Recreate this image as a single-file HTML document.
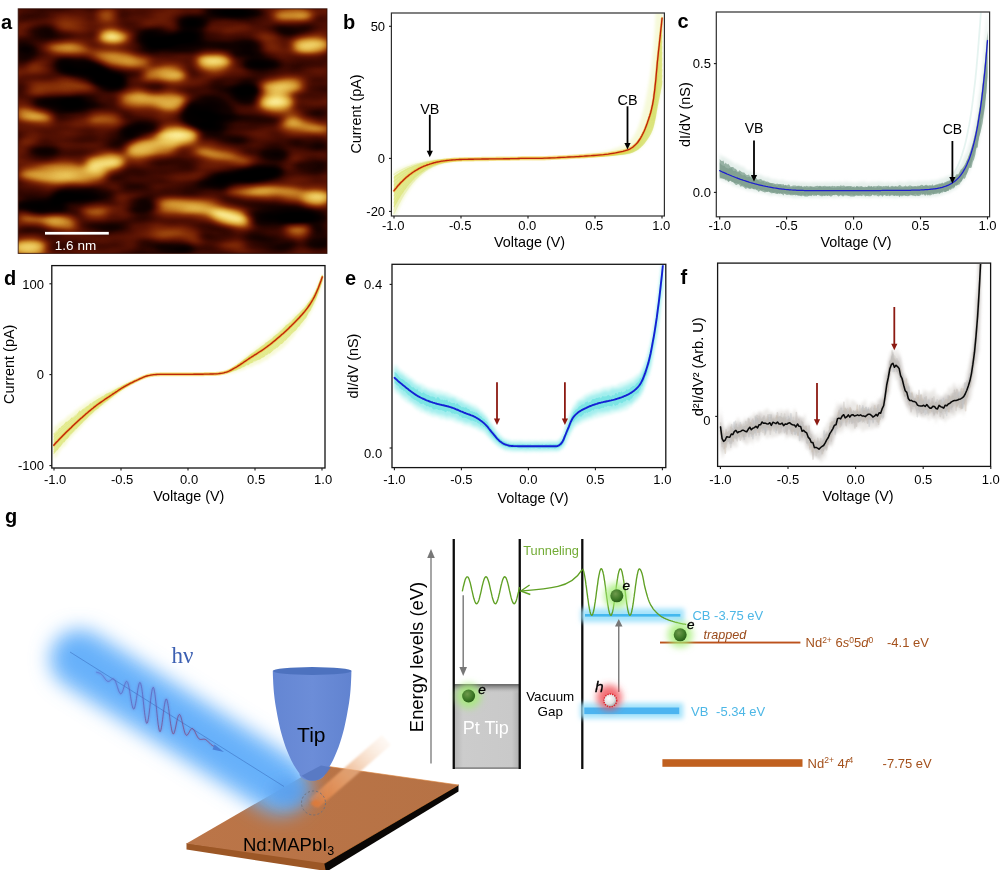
<!DOCTYPE html>
<html lang="en"><head><meta charset="utf-8"><title>Figure</title>
<style>
html,body{margin:0;padding:0;background:#fff;}
body{width:1000px;height:870px;overflow:hidden;}
svg{display:block;font-family:"Liberation Sans",Arial,Helvetica,sans-serif;fill:#000;}
</style></head><body>
<svg width="1000" height="870" viewBox="0 0 1000 870">
<defs>
<filter id="b1" x="-5%" y="-20%" width="110%" height="140%"><feGaussianBlur stdDeviation="0.7"/></filter>
<filter id="b2" x="-5%" y="-20%" width="110%" height="140%"><feGaussianBlur stdDeviation="1.5"/></filter>
<filter id="b3" x="-5%" y="-20%" width="110%" height="140%"><feGaussianBlur stdDeviation="2.5"/></filter>
<clipPath id="cb"><rect x="392" y="13.6" width="271.8" height="201.8"/></clipPath>
<clipPath id="cc"><rect x="717.2" y="12.6" width="271.9" height="203.4"/></clipPath>
<clipPath id="cd"><rect x="52.6" y="266" width="271.8" height="201.4"/></clipPath>
<clipPath id="ce"><rect x="392.6" y="265.2" width="272.8" height="201.8"/></clipPath>
<clipPath id="cf"><rect x="718.6" y="264" width="271.4" height="201.8"/></clipPath>
</defs>
<g clip-path="url(#cb)">
<path d="M394 171.1 L395 170.5 L396.1 170 L397.1 169.5 L398.1 169.1 L399.2 168.6 L400.2 168.1 L401.2 167.7 L402.3 167.3 L403.3 166.9 L404.3 166.5 L405.4 166.1 L406.4 165.7 L407.5 165.4 L408.5 165 L409.5 164.7 L410.6 164.4 L411.6 164.1 L412.6 163.8 L413.7 163.5 L414.7 163.3 L415.7 163 L416.8 162.7 L417.8 162.5 L418.8 162.3 L419.9 162.1 L420.9 161.9 L421.9 161.7 L423 161.5 L424 161.3 L425 161.1 L426.1 161 L427.1 160.8 L428.1 160.6 L429.2 160.5 L430.2 160.4 L431.3 160.2 L432.3 160.1 L433.3 160 L434.4 159.9 L435.4 159.8 L436.4 159.7 L437.5 159.6 L438.5 159.5 L439.5 159.4 L440.6 159.4 L441.6 159.3 L442.6 159.2 L443.7 159.2 L444.7 159.1 L445.7 159 L446.8 159 L447.8 159 L448.8 158.9 L449.9 158.9 L450.9 158.8 L451.9 158.8 L453 158.8 L454 158.7 L455.1 158.7 L456.1 158.7 L457.1 158.7 L458.2 158.6 L459.2 158.6 L460.2 158.6 L461.3 158.6 L462.3 158.6 L463.3 158.6 L464.4 158.5 L465.4 158.5 L466.4 158.5 L467.5 158.5 L468.5 158.5 L469.5 158.5 L470.6 158.5 L471.6 158.5 L472.6 158.5 L473.7 158.5 L474.7 158.5 L475.7 158.5 L476.8 158.4 L477.8 158.4 L478.8 158.4 L479.9 158.4 L480.9 158.4 L482 158.4 L483 158.4 L484 158.4 L485.1 158.4 L486.1 158.4 L487.1 158.4 L488.2 158.4 L489.2 158.4 L490.2 158.4 L491.3 158.4 L492.3 158.4 L493.3 158.4 L494.4 158.4 L495.4 158.3 L496.4 158.3 L497.5 158.3 L498.5 158.3 L499.5 158.3 L500.6 158.3 L501.6 158.3 L502.6 158.3 L503.7 158.3 L504.7 158.3 L505.8 158.3 L506.8 158.3 L507.8 158.3 L508.9 158.3 L509.9 158.3 L510.9 158.3 L512 158.3 L513 158.3 L514 158.3 L515.1 158.2 L516.1 158.2 L517.1 158.2 L518.2 158.2 L519.2 158.2 L520 158.2 L522.4 158.2 L524.9 158.2 L527.3 158.2 L529.8 158.2 L532.2 158.2 L534.7 158.1 L537.1 158.1 L539.6 158.1 L542 158.1 L544.5 158.1 L546.9 158.1 L549.4 158 L551.8 158 L554.3 157.9 L556.7 157.8 L559.2 157.8 L561.6 157.7 L564.1 157.7 L566.5 157.6 L569 157.5 L571.4 157.5 L573.9 157.4 L576.3 157.3 L578.8 157.2 L581.2 157.2 L583.7 157.1 L586.1 157 L588.6 156.9 L591 156.8 L593.5 156.8 L595.9 156.7 L598.4 156.6 L600.8 156.5 L603.3 156.3 L605.7 156.2 L608.2 156 L610.6 155.9 L613.1 155.7 L615.5 155.5 L618 155.2 L620.4 155 L622.9 154.7 L625.3 154.4 L627.8 153.9 L630.2 153.4 L632.7 152.6 L635.1 151.5 L637.6 150.3 L640 148.5 L640.5 148.1 L640.9 147.8 L641.2 147.4 L641.6 147.1 L642 146.7 L642.3 146.4 L642.7 146 L643.1 145.6 L643.4 145.3 L643.8 144.9 L644.2 144.5 L644.5 144.1 L644.9 143.6 L645.3 143.2 L645.6 142.7 L646 142.3 L646.4 141.8 L646.7 141.3 L647.1 140.7 L647.5 140.2 L647.8 139.7 L648.2 139.1 L648.6 138.6 L648.9 138.1 L649.3 137.5 L649.7 136.9 L650 136.3 L650.4 135.7 L650.8 135.1 L651.1 134.4 L651.5 133.7 L651.8 132.9 L652.2 132.1 L652.6 131.2 L652.9 130.3 L653.3 129.2 L653.7 128 L654 126.6 L654.4 125.1 L654.8 123.6 L655.1 122 L655.5 120.3 L655.9 118.5 L656.2 116.5 L656.6 114.4 L657 112.3 L657.3 110.3 L657.7 108.5 L658.1 106.7 L658.4 105 L658.8 103.3 L659.2 101.7 L659.5 100 L659.9 98.3 L660.3 96.6 L660.6 94.9 L661 93.2 L661.4 91.5 L661.7 89.8 L662.1 88.1 L662.1 -40 L661.7 -40 L661.4 -40 L661 -40 L660.6 -40 L660.3 -40 L659.9 -40 L659.5 -40 L659.2 -40 L658.8 -40 L658.4 -40 L658.1 -36.8 L657.7 -30.2 L657.3 -23.3 L657 -15.7 L656.6 -7.8 L656.2 0.2 L655.9 7.9 L655.5 14.8 L655.1 21 L654.8 27.2 L654.4 33.1 L654 38.7 L653.7 43.9 L653.3 48.7 L652.9 52.8 L652.6 56.3 L652.2 59.6 L651.8 62.7 L651.5 65.6 L651.1 68.3 L650.8 70.9 L650.4 73.4 L650 75.7 L649.7 77.9 L649.3 80.1 L648.9 82.2 L648.6 84.3 L648.2 86.3 L647.8 88.4 L647.5 90.4 L647.1 92.4 L646.7 94.4 L646.4 96.3 L646 98.2 L645.6 100 L645.3 101.8 L644.9 103.5 L644.5 105.1 L644.2 106.7 L643.8 108.2 L643.4 109.6 L643.1 111.1 L642.7 112.4 L642.3 113.8 L642 115.2 L641.6 116.5 L641.2 117.8 L640.9 119.1 L640.5 120.3 L640 121.9 L637.6 128.6 L635.1 133.4 L632.7 137.5 L630.2 140.6 L627.8 142.6 L625.3 144.1 L622.9 145.4 L620.4 146.5 L618 147.4 L615.5 148.3 L613.1 149.1 L610.6 149.9 L608.2 150.5 L605.7 151.1 L603.3 151.7 L600.8 152.1 L598.4 152.6 L595.9 152.9 L593.5 153.3 L591 153.6 L588.6 153.9 L586.1 154.2 L583.7 154.5 L581.2 154.8 L578.8 155.1 L576.3 155.4 L573.9 155.6 L571.4 155.9 L569 156.2 L566.5 156.4 L564.1 156.7 L561.6 156.9 L559.2 157.1 L556.7 157.4 L554.3 157.6 L551.8 157.8 L549.4 158.1 L546.9 158.3 L544.5 158.4 L542 158.5 L539.6 158.6 L537.1 158.6 L534.7 158.6 L532.2 158.6 L529.8 158.6 L527.3 158.7 L524.9 158.7 L522.4 158.7 L520 158.7 L519.2 159 L518.2 159 L517.1 159 L516.1 159.1 L515.1 159.1 L514 159.1 L513 159.2 L512 159.2 L510.9 159.2 L509.9 159.2 L508.9 159.3 L507.8 159.3 L506.8 159.3 L505.8 159.3 L504.7 159.4 L503.7 159.4 L502.6 159.4 L501.6 159.5 L500.6 159.5 L499.5 159.5 L498.5 159.5 L497.5 159.6 L496.4 159.6 L495.4 159.6 L494.4 159.6 L493.3 159.7 L492.3 159.7 L491.3 159.7 L490.2 159.8 L489.2 159.8 L488.2 159.8 L487.1 159.8 L486.1 159.9 L485.1 159.9 L484 159.9 L483 159.9 L482 160 L480.9 160 L479.9 160 L478.8 160.1 L477.8 160.1 L476.8 160.1 L475.7 160.1 L474.7 160.2 L473.7 160.2 L472.6 160.2 L471.6 160.3 L470.6 160.3 L469.5 160.3 L468.5 160.4 L467.5 160.4 L466.4 160.5 L465.4 160.5 L464.4 160.6 L463.3 160.6 L462.3 160.7 L461.3 160.8 L460.2 160.8 L459.2 160.9 L458.2 161 L457.1 161.1 L456.1 161.2 L455.1 161.3 L454 161.5 L453 161.6 L451.9 161.8 L450.9 161.9 L449.9 162.1 L448.8 162.3 L447.8 162.5 L446.8 162.7 L445.7 163 L444.7 163.2 L443.7 163.5 L442.6 163.8 L441.6 164.1 L440.6 164.5 L439.5 164.8 L438.5 165.2 L437.5 165.6 L436.4 166.1 L435.4 166.5 L434.4 167 L433.3 167.5 L432.3 168.1 L431.3 168.6 L430.2 169.2 L429.2 169.9 L428.1 170.6 L427.1 171.3 L426.1 172 L425 172.8 L424 173.6 L423 174.5 L421.9 175.4 L420.9 176.3 L419.9 177.3 L418.8 178.3 L417.8 179.4 L416.8 180.5 L415.7 181.7 L414.7 182.9 L413.7 184.2 L412.6 185.5 L411.6 186.9 L410.6 188.4 L409.5 189.9 L408.5 191.4 L407.5 193 L406.4 194.7 L405.4 196.4 L404.3 198.2 L403.3 200.1 L402.3 202 L401.2 204.1 L400.2 206.1 L399.2 208.3 L398.1 210.5 L397.1 212.8 L396.1 215.2 L395 217.6 L394 220.1Z" fill="#eef3b4" fill-opacity="0.5" filter="url(#b2)"/>
<path d="M394 176 L395 175.3 L396.1 174.5 L397.1 173.9 L398.1 173.2 L399.2 172.6 L400.2 171.9 L401.2 171.3 L402.3 170.8 L403.3 170.2 L404.3 169.7 L405.4 169.1 L406.4 168.6 L407.5 168.1 L408.5 167.7 L409.5 167.2 L410.6 166.8 L411.6 166.4 L412.6 166 L413.7 165.6 L414.7 165.2 L415.7 164.9 L416.8 164.5 L417.8 164.2 L418.8 163.9 L419.9 163.6 L420.9 163.3 L421.9 163 L423 162.8 L424 162.5 L425 162.3 L426.1 162.1 L427.1 161.8 L428.1 161.6 L429.2 161.4 L430.2 161.3 L431.3 161.1 L432.3 160.9 L433.3 160.8 L434.4 160.6 L435.4 160.5 L436.4 160.3 L437.5 160.2 L438.5 160.1 L439.5 160 L440.6 159.9 L441.6 159.8 L442.6 159.7 L443.7 159.6 L444.7 159.5 L445.7 159.4 L446.8 159.4 L447.8 159.3 L448.8 159.2 L449.9 159.2 L450.9 159.1 L451.9 159.1 L453 159 L454 159 L455.1 159 L456.1 158.9 L457.1 158.9 L458.2 158.9 L459.2 158.8 L460.2 158.8 L461.3 158.8 L462.3 158.8 L463.3 158.8 L464.4 158.7 L465.4 158.7 L466.4 158.7 L467.5 158.7 L468.5 158.7 L469.5 158.7 L470.6 158.7 L471.6 158.7 L472.6 158.6 L473.7 158.6 L474.7 158.6 L475.7 158.6 L476.8 158.6 L477.8 158.6 L478.8 158.6 L479.9 158.6 L480.9 158.6 L482 158.6 L483 158.6 L484 158.6 L485.1 158.5 L486.1 158.5 L487.1 158.5 L488.2 158.5 L489.2 158.5 L490.2 158.5 L491.3 158.5 L492.3 158.5 L493.3 158.5 L494.4 158.5 L495.4 158.5 L496.4 158.5 L497.5 158.5 L498.5 158.4 L499.5 158.4 L500.6 158.4 L501.6 158.4 L502.6 158.4 L503.7 158.4 L504.7 158.4 L505.8 158.4 L506.8 158.4 L507.8 158.4 L508.9 158.4 L509.9 158.4 L510.9 158.3 L512 158.3 L513 158.3 L514 158.3 L515.1 158.3 L516.1 158.3 L517.1 158.3 L518.2 158.3 L519.2 158.3 L520 158.2 L522.4 158.2 L524.9 158.2 L527.3 158.2 L529.8 158.2 L532.2 158.2 L534.7 158.2 L537.1 158.2 L539.6 158.2 L542 158.1 L544.5 158.1 L546.9 158.1 L549.4 158 L551.8 158 L554.3 157.9 L556.7 157.8 L559.2 157.8 L561.6 157.7 L564.1 157.6 L566.5 157.6 L569 157.5 L571.4 157.4 L573.9 157.4 L576.3 157.3 L578.8 157.2 L581.2 157.1 L583.7 157 L586.1 157 L588.6 156.9 L591 156.8 L593.5 156.7 L595.9 156.6 L598.4 156.5 L600.8 156.4 L603.3 156.3 L605.7 156.1 L608.2 156 L610.6 155.8 L613.1 155.6 L615.5 155.3 L618 155.1 L620.4 154.9 L622.9 154.6 L625.3 154.2 L627.8 153.8 L630.2 153.2 L632.7 152.4 L635.1 151.3 L637.6 149.9 L640 148.1 L640.5 147.7 L640.9 147.3 L641.2 147 L641.6 146.6 L642 146.3 L642.3 145.9 L642.7 145.5 L643.1 145.2 L643.4 144.8 L643.8 144.4 L644.2 144 L644.5 143.5 L644.9 143.1 L645.3 142.6 L645.6 142.1 L646 141.6 L646.4 141.1 L646.7 140.6 L647.1 140.1 L647.5 139.5 L647.8 138.9 L648.2 138.4 L648.6 137.8 L648.9 137.3 L649.3 136.7 L649.7 136.1 L650 135.5 L650.4 134.8 L650.8 134.2 L651.1 133.5 L651.5 132.7 L651.8 131.9 L652.2 131.1 L652.6 130.2 L652.9 129.2 L653.3 128.1 L653.7 126.8 L654 125.4 L654.4 123.8 L654.8 122.2 L655.1 120.5 L655.5 118.8 L655.9 116.9 L656.2 114.8 L656.6 112.6 L657 110.5 L657.3 108.4 L657.7 106.5 L658.1 104.7 L658.4 102.9 L658.8 101.2 L659.2 99.4 L659.5 97.7 L659.9 95.9 L660.3 94.1 L660.6 92.4 L661 90.6 L661.4 88.8 L661.7 87.1 L662.1 85.3 L662.1 12.6 L661.7 16.1 L661.4 19.7 L661 23.2 L660.6 26.7 L660.3 30.3 L659.9 33.8 L659.5 37.3 L659.2 40.8 L658.8 44.3 L658.4 47.8 L658.1 51.4 L657.7 55 L657.3 58.8 L657 62.9 L656.6 67.3 L656.2 71.6 L655.9 75.8 L655.5 79.6 L655.1 83 L654.8 86.4 L654.4 89.6 L654 92.7 L653.7 95.6 L653.3 98.1 L652.9 100.4 L652.6 102.3 L652.2 104.1 L651.8 105.8 L651.5 107.4 L651.1 108.9 L650.8 110.3 L650.4 111.7 L650 113 L649.7 114.2 L649.3 115.4 L648.9 116.5 L648.6 117.6 L648.2 118.8 L647.8 119.9 L647.5 121 L647.1 122.1 L646.7 123.2 L646.4 124.2 L646 125.3 L645.6 126.2 L645.3 127.2 L644.9 128.1 L644.5 129 L644.2 129.9 L643.8 130.7 L643.4 131.5 L643.1 132.3 L642.7 133.1 L642.3 133.8 L642 134.6 L641.6 135.3 L641.2 136 L640.9 136.7 L640.5 137.4 L640 138.3 L637.6 141.9 L635.1 144.6 L632.7 146.8 L630.2 148.5 L627.8 149.6 L625.3 150.4 L622.9 151.1 L620.4 151.7 L618 152.2 L615.5 152.7 L613.1 153.1 L610.6 153.5 L608.2 153.9 L605.7 154.2 L603.3 154.5 L600.8 154.8 L598.4 155 L595.9 155.2 L593.5 155.4 L591 155.6 L588.6 155.8 L586.1 155.9 L583.7 156.1 L581.2 156.2 L578.8 156.4 L576.3 156.6 L573.9 156.7 L571.4 156.8 L569 157 L566.5 157.1 L564.1 157.3 L561.6 157.4 L559.2 157.5 L556.7 157.6 L554.3 157.8 L551.8 157.9 L549.4 158 L546.9 158.2 L544.5 158.3 L542 158.3 L539.6 158.4 L537.1 158.4 L534.7 158.4 L532.2 158.4 L529.8 158.4 L527.3 158.4 L524.9 158.5 L522.4 158.5 L520 158.5 L519.2 158.7 L518.2 158.8 L517.1 158.8 L516.1 158.8 L515.1 158.8 L514 158.9 L513 158.9 L512 158.9 L510.9 158.9 L509.9 159 L508.9 159 L507.8 159 L506.8 159 L505.8 159.1 L504.7 159.1 L503.7 159.1 L502.6 159.1 L501.6 159.2 L500.6 159.2 L499.5 159.2 L498.5 159.2 L497.5 159.2 L496.4 159.3 L495.4 159.3 L494.4 159.3 L493.3 159.3 L492.3 159.4 L491.3 159.4 L490.2 159.4 L489.2 159.4 L488.2 159.5 L487.1 159.5 L486.1 159.5 L485.1 159.5 L484 159.6 L483 159.6 L482 159.6 L480.9 159.6 L479.9 159.6 L478.8 159.7 L477.8 159.7 L476.8 159.7 L475.7 159.7 L474.7 159.8 L473.7 159.8 L472.6 159.8 L471.6 159.8 L470.6 159.9 L469.5 159.9 L468.5 159.9 L467.5 160 L466.4 160 L465.4 160 L464.4 160.1 L463.3 160.1 L462.3 160.2 L461.3 160.2 L460.2 160.3 L459.2 160.4 L458.2 160.5 L457.1 160.5 L456.1 160.6 L455.1 160.7 L454 160.8 L453 160.9 L451.9 161.1 L450.9 161.2 L449.9 161.4 L448.8 161.5 L447.8 161.7 L446.8 161.9 L445.7 162.1 L444.7 162.3 L443.7 162.5 L442.6 162.7 L441.6 163 L440.6 163.3 L439.5 163.6 L438.5 163.9 L437.5 164.2 L436.4 164.6 L435.4 164.9 L434.4 165.3 L433.3 165.8 L432.3 166.2 L431.3 166.7 L430.2 167.2 L429.2 167.7 L428.1 168.2 L427.1 168.8 L426.1 169.4 L425 170.1 L424 170.7 L423 171.4 L421.9 172.2 L420.9 172.9 L419.9 173.8 L418.8 174.6 L417.8 175.5 L416.8 176.4 L415.7 177.3 L414.7 178.3 L413.7 179.4 L412.6 180.5 L411.6 181.6 L410.6 182.8 L409.5 184 L408.5 185.3 L407.5 186.6 L406.4 187.9 L405.4 189.4 L404.3 190.8 L403.3 192.4 L402.3 193.9 L401.2 195.6 L400.2 197.3 L399.2 199 L398.1 200.8 L397.1 202.7 L396.1 204.6 L395 206.6 L394 208.7Z" fill="#dbe572" fill-opacity="0.6" filter="url(#b1)"/>
<path d="M394 174.4 L395 173.7 L396.1 173 L397.1 172.4 L398.1 171.8 L399.2 171.2 L400.2 170.7 L401.2 170.1 L402.3 169.6 L403.3 169.1 L404.3 168.6 L405.4 168.1 L406.4 167.7 L407.5 167.2 L408.5 166.8 L409.5 166.4 L410.6 166 L411.6 165.6 L412.6 165.2 L413.7 164.9 L414.7 164.6 L415.7 164.2 L416.8 163.9 L417.8 163.6 L418.8 163.4 L419.9 163.1 L420.9 162.8 L421.9 162.6 L423 162.3 L424 162.1 L425 161.9 L426.1 161.7 L427.1 161.5 L428.1 161.3 L429.2 161.1 L430.2 161 L431.3 160.8 L432.3 160.6 L433.3 160.5 L434.4 160.4 L435.4 160.2 L436.4 160.1 L437.5 160 L438.5 159.9 L439.5 159.8 L440.6 159.7 L441.6 159.6 L442.6 159.5 L443.7 159.5 L444.7 159.4 L445.7 159.3 L446.8 159.2 L447.8 159.2 L448.8 159.1 L449.9 159.1 L450.9 159 L451.9 159 L453 159 L454 158.9 L455.1 158.9 L456.1 158.8 L457.1 158.8 L458.2 158.8 L459.2 158.8 L460.2 158.7 L461.3 158.7 L462.3 158.7 L463.3 158.7 L464.4 158.7 L465.4 158.7 L466.4 158.6 L467.5 158.6 L468.5 158.6 L469.5 158.6 L470.6 158.6 L471.6 158.6 L472.6 158.6 L473.7 158.6 L474.7 158.6 L475.7 158.6 L476.8 158.6 L477.8 158.5 L478.8 158.5 L479.9 158.5 L480.9 158.5 L482 158.5 L483 158.5 L484 158.5 L485.1 158.5 L486.1 158.5 L487.1 158.5 L488.2 158.5 L489.2 158.5 L490.2 158.5 L491.3 158.5 L492.3 158.4 L493.3 158.4 L494.4 158.4 L495.4 158.4 L496.4 158.4 L497.5 158.4 L498.5 158.4 L499.5 158.4 L500.6 158.4 L501.6 158.4 L502.6 158.4 L503.7 158.4 L504.7 158.4 L505.8 158.4 L506.8 158.4 L507.8 158.3 L508.9 158.3 L509.9 158.3 L510.9 158.3 L512 158.3 L513 158.3 L514 158.3 L515.1 158.3 L516.1 158.3 L517.1 158.3 L518.2 158.3 L519.2 158.3 L520 158.2 L522.4 158.2 L524.9 158.2 L527.3 158.2 L529.8 158.2 L532.2 158.2 L534.7 158.2 L537.1 158.2 L539.6 158.2 L542 158.1 L544.5 158.1 L546.9 158.1 L549.4 158 L551.8 158 L554.3 157.9 L556.7 157.8 L559.2 157.7 L561.6 157.7 L564.1 157.6 L566.5 157.5 L569 157.5 L571.4 157.4 L573.9 157.3 L576.3 157.2 L578.8 157.2 L581.2 157.1 L583.7 157 L586.1 156.9 L588.6 156.8 L591 156.7 L593.5 156.6 L595.9 156.5 L598.4 156.4 L600.8 156.3 L603.3 156.2 L605.7 156 L608.2 155.8 L610.6 155.6 L613.1 155.4 L615.5 155.2 L618 154.9 L620.4 154.7 L622.9 154.4 L625.3 154 L627.8 153.5 L630.2 153 L632.7 152.1 L635.1 150.9 L637.6 149.5 L640 147.6 L640.5 147.1 L640.9 146.7 L641.2 146.4 L641.6 146 L642 145.6 L642.3 145.2 L642.7 144.8 L643.1 144.4 L643.4 144 L643.8 143.6 L644.2 143.1 L644.5 142.7 L644.9 142.2 L645.3 141.7 L645.6 141.2 L646 140.7 L646.4 140.1 L646.7 139.6 L647.1 139 L647.5 138.4 L647.8 137.8 L648.2 137.3 L648.6 136.7 L648.9 136.1 L649.3 135.5 L649.7 134.8 L650 134.2 L650.4 133.5 L650.8 132.8 L651.1 132 L651.5 131.3 L651.8 130.4 L652.2 129.5 L652.6 128.6 L652.9 127.5 L653.3 126.3 L653.7 125 L654 123.5 L654.4 121.9 L654.8 120.1 L655.1 118.4 L655.5 116.5 L655.9 114.5 L656.2 112.3 L656.6 110 L657 107.7 L657.3 105.5 L657.7 103.5 L658.1 101.6 L658.4 99.7 L658.8 97.9 L659.2 96 L659.5 94.2 L659.9 92.3 L660.3 90.4 L660.6 88.6 L661 86.7 L661.4 84.8 L661.7 83 L662.1 81.1" fill="none" stroke="#cfdc58" stroke-width="1.3" stroke-opacity="0.28" stroke-linejoin="round" stroke-linecap="round"/>
<path d="M394 177.9 L395 177.1 L396.1 176.3 L397.1 175.6 L398.1 174.8 L399.2 174.1 L400.2 173.4 L401.2 172.8 L402.3 172.1 L403.3 171.5 L404.3 170.9 L405.4 170.3 L406.4 169.8 L407.5 169.2 L408.5 168.7 L409.5 168.2 L410.6 167.7 L411.6 167.3 L412.6 166.8 L413.7 166.4 L414.7 166 L415.7 165.6 L416.8 165.2 L417.8 164.9 L418.8 164.5 L419.9 164.2 L420.9 163.9 L421.9 163.6 L423 163.3 L424 163 L425 162.7 L426.1 162.5 L427.1 162.3 L428.1 162 L429.2 161.8 L430.2 161.6 L431.3 161.4 L432.3 161.2 L433.3 161.1 L434.4 160.9 L435.4 160.7 L436.4 160.6 L437.5 160.4 L438.5 160.3 L439.5 160.2 L440.6 160.1 L441.6 160 L442.6 159.9 L443.7 159.8 L444.7 159.7 L445.7 159.6 L446.8 159.5 L447.8 159.4 L448.8 159.4 L449.9 159.3 L450.9 159.3 L451.9 159.2 L453 159.2 L454 159.1 L455.1 159.1 L456.1 159 L457.1 159 L458.2 159 L459.2 158.9 L460.2 158.9 L461.3 158.9 L462.3 158.9 L463.3 158.8 L464.4 158.8 L465.4 158.8 L466.4 158.8 L467.5 158.8 L468.5 158.8 L469.5 158.7 L470.6 158.7 L471.6 158.7 L472.6 158.7 L473.7 158.7 L474.7 158.7 L475.7 158.7 L476.8 158.7 L477.8 158.7 L478.8 158.7 L479.9 158.6 L480.9 158.6 L482 158.6 L483 158.6 L484 158.6 L485.1 158.6 L486.1 158.6 L487.1 158.6 L488.2 158.6 L489.2 158.6 L490.2 158.6 L491.3 158.6 L492.3 158.5 L493.3 158.5 L494.4 158.5 L495.4 158.5 L496.4 158.5 L497.5 158.5 L498.5 158.5 L499.5 158.5 L500.6 158.5 L501.6 158.5 L502.6 158.5 L503.7 158.4 L504.7 158.4 L505.8 158.4 L506.8 158.4 L507.8 158.4 L508.9 158.4 L509.9 158.4 L510.9 158.4 L512 158.4 L513 158.4 L514 158.4 L515.1 158.4 L516.1 158.3 L517.1 158.3 L518.2 158.3 L519.2 158.3 L520 158.2 L522.4 158.2 L524.9 158.2 L527.3 158.2 L529.8 158.2 L532.2 158.2 L534.7 158.2 L537.1 158.2 L539.6 158.2 L542 158.2 L544.5 158.1 L546.9 158.1 L549.4 158 L551.8 157.9 L554.3 157.9 L556.7 157.8 L559.2 157.7 L561.6 157.7 L564.1 157.6 L566.5 157.5 L569 157.4 L571.4 157.4 L573.9 157.3 L576.3 157.2 L578.8 157.1 L581.2 157 L583.7 156.9 L586.1 156.8 L588.6 156.7 L591 156.6 L593.5 156.5 L595.9 156.4 L598.4 156.3 L600.8 156.2 L603.3 156 L605.7 155.9 L608.2 155.7 L610.6 155.5 L613.1 155.2 L615.5 155 L618 154.7 L620.4 154.4 L622.9 154.1 L625.3 153.7 L627.8 153.2 L630.2 152.6 L632.7 151.6 L635.1 150.4 L637.6 148.9 L640 146.8 L640.5 146.3 L640.9 145.9 L641.2 145.5 L641.6 145.1 L642 144.7 L642.3 144.3 L642.7 143.8 L643.1 143.4 L643.4 143 L643.8 142.5 L644.2 142 L644.5 141.5 L644.9 141 L645.3 140.5 L645.6 140 L646 139.4 L646.4 138.8 L646.7 138.2 L647.1 137.6 L647.5 137 L647.8 136.3 L648.2 135.7 L648.6 135.1 L648.9 134.4 L649.3 133.8 L649.7 133.1 L650 132.4 L650.4 131.7 L650.8 130.9 L651.1 130.1 L651.5 129.3 L651.8 128.4 L652.2 127.4 L652.6 126.4 L652.9 125.3 L653.3 124 L653.7 122.5 L654 120.9 L654.4 119.2 L654.8 117.3 L655.1 115.4 L655.5 113.4 L655.9 111.3 L656.2 108.9 L656.6 106.4 L657 104 L657.3 101.6 L657.7 99.5 L658.1 97.4 L658.4 95.4 L658.8 93.4 L659.2 91.4 L659.5 89.4 L659.9 87.4 L660.3 85.4 L660.6 83.4 L661 81.4 L661.4 79.4 L661.7 77.4 L662.1 75.4" fill="none" stroke="#cfdc58" stroke-width="1.3" stroke-opacity="0.28" stroke-linejoin="round" stroke-linecap="round"/>
<path d="M394 181.5 L395 180.5 L396.1 179.6 L397.1 178.7 L398.1 177.8 L399.2 177 L400.2 176.2 L401.2 175.4 L402.3 174.7 L403.3 173.9 L404.3 173.2 L405.4 172.5 L406.4 171.9 L407.5 171.2 L408.5 170.6 L409.5 170 L410.6 169.5 L411.6 168.9 L412.6 168.4 L413.7 167.9 L414.7 167.4 L415.7 167 L416.8 166.5 L417.8 166.1 L418.8 165.7 L419.9 165.3 L420.9 164.9 L421.9 164.6 L423 164.2 L424 163.9 L425 163.6 L426.1 163.3 L427.1 163 L428.1 162.7 L429.2 162.5 L430.2 162.3 L431.3 162 L432.3 161.8 L433.3 161.6 L434.4 161.4 L435.4 161.2 L436.4 161 L437.5 160.9 L438.5 160.7 L439.5 160.6 L440.6 160.4 L441.6 160.3 L442.6 160.2 L443.7 160.1 L444.7 160 L445.7 159.9 L446.8 159.8 L447.8 159.7 L448.8 159.6 L449.9 159.6 L450.9 159.5 L451.9 159.4 L453 159.4 L454 159.3 L455.1 159.3 L456.1 159.2 L457.1 159.2 L458.2 159.1 L459.2 159.1 L460.2 159.1 L461.3 159 L462.3 159 L463.3 159 L464.4 159 L465.4 158.9 L466.4 158.9 L467.5 158.9 L468.5 158.9 L469.5 158.9 L470.6 158.9 L471.6 158.9 L472.6 158.8 L473.7 158.8 L474.7 158.8 L475.7 158.8 L476.8 158.8 L477.8 158.8 L478.8 158.8 L479.9 158.8 L480.9 158.8 L482 158.7 L483 158.7 L484 158.7 L485.1 158.7 L486.1 158.7 L487.1 158.7 L488.2 158.7 L489.2 158.7 L490.2 158.7 L491.3 158.6 L492.3 158.6 L493.3 158.6 L494.4 158.6 L495.4 158.6 L496.4 158.6 L497.5 158.6 L498.5 158.6 L499.5 158.6 L500.6 158.6 L501.6 158.5 L502.6 158.5 L503.7 158.5 L504.7 158.5 L505.8 158.5 L506.8 158.5 L507.8 158.5 L508.9 158.5 L509.9 158.5 L510.9 158.4 L512 158.4 L513 158.4 L514 158.4 L515.1 158.4 L516.1 158.4 L517.1 158.4 L518.2 158.4 L519.2 158.4 L520 158.2 L522.4 158.2 L524.9 158.2 L527.3 158.2 L529.8 158.2 L532.2 158.2 L534.7 158.2 L537.1 158.2 L539.6 158.2 L542 158.2 L544.5 158.1 L546.9 158.1 L549.4 158 L551.8 157.9 L554.3 157.9 L556.7 157.8 L559.2 157.7 L561.6 157.6 L564.1 157.6 L566.5 157.5 L569 157.4 L571.4 157.3 L573.9 157.2 L576.3 157.1 L578.8 157 L581.2 156.9 L583.7 156.8 L586.1 156.7 L588.6 156.6 L591 156.5 L593.5 156.4 L595.9 156.3 L598.4 156.2 L600.8 156 L603.3 155.9 L605.7 155.7 L608.2 155.5 L610.6 155.3 L613.1 155 L615.5 154.8 L618 154.5 L620.4 154.2 L622.9 153.8 L625.3 153.4 L627.8 152.9 L630.2 152.2 L632.7 151.2 L635.1 149.8 L637.6 148.2 L640 146 L640.5 145.5 L640.9 145.1 L641.2 144.6 L641.6 144.2 L642 143.8 L642.3 143.3 L642.7 142.9 L643.1 142.4 L643.4 141.9 L643.8 141.4 L644.2 140.9 L644.5 140.4 L644.9 139.9 L645.3 139.3 L645.6 138.7 L646 138.1 L646.4 137.5 L646.7 136.8 L647.1 136.2 L647.5 135.5 L647.8 134.8 L648.2 134.2 L648.6 133.5 L648.9 132.8 L649.3 132.1 L649.7 131.4 L650 130.6 L650.4 129.9 L650.8 129 L651.1 128.2 L651.5 127.3 L651.8 126.3 L652.2 125.3 L652.6 124.2 L652.9 123 L653.3 121.6 L653.7 120.1 L654 118.3 L654.4 116.5 L654.8 114.5 L655.1 112.5 L655.5 110.4 L655.9 108.1 L656.2 105.5 L656.6 102.9 L657 100.2 L657.3 97.7 L657.7 95.4 L658.1 93.2 L658.4 91.1 L658.8 88.9 L659.2 86.8 L659.5 84.7 L659.9 82.5 L660.3 80.4 L660.6 78.2 L661 76.1 L661.4 74 L661.7 71.8 L662.1 69.7" fill="none" stroke="#cfdc58" stroke-width="1.3" stroke-opacity="0.28" stroke-linejoin="round" stroke-linecap="round"/>
<path d="M394 185.1 L395 184 L396.1 182.9 L397.1 181.9 L398.1 180.9 L399.2 179.9 L400.2 179 L401.2 178.1 L402.3 177.2 L403.3 176.3 L404.3 175.5 L405.4 174.7 L406.4 174 L407.5 173.3 L408.5 172.6 L409.5 171.9 L410.6 171.2 L411.6 170.6 L412.6 170 L413.7 169.4 L414.7 168.9 L415.7 168.3 L416.8 167.8 L417.8 167.3 L418.8 166.9 L419.9 166.4 L420.9 166 L421.9 165.6 L423 165.2 L424 164.8 L425 164.4 L426.1 164.1 L427.1 163.8 L428.1 163.5 L429.2 163.2 L430.2 162.9 L431.3 162.6 L432.3 162.4 L433.3 162.1 L434.4 161.9 L435.4 161.7 L436.4 161.5 L437.5 161.3 L438.5 161.1 L439.5 161 L440.6 160.8 L441.6 160.7 L442.6 160.5 L443.7 160.4 L444.7 160.3 L445.7 160.2 L446.8 160.1 L447.8 160 L448.8 159.9 L449.9 159.8 L450.9 159.7 L451.9 159.6 L453 159.6 L454 159.5 L455.1 159.5 L456.1 159.4 L457.1 159.4 L458.2 159.3 L459.2 159.3 L460.2 159.2 L461.3 159.2 L462.3 159.2 L463.3 159.1 L464.4 159.1 L465.4 159.1 L466.4 159.1 L467.5 159 L468.5 159 L469.5 159 L470.6 159 L471.6 159 L472.6 159 L473.7 159 L474.7 158.9 L475.7 158.9 L476.8 158.9 L477.8 158.9 L478.8 158.9 L479.9 158.9 L480.9 158.9 L482 158.9 L483 158.8 L484 158.8 L485.1 158.8 L486.1 158.8 L487.1 158.8 L488.2 158.8 L489.2 158.8 L490.2 158.8 L491.3 158.7 L492.3 158.7 L493.3 158.7 L494.4 158.7 L495.4 158.7 L496.4 158.7 L497.5 158.7 L498.5 158.7 L499.5 158.6 L500.6 158.6 L501.6 158.6 L502.6 158.6 L503.7 158.6 L504.7 158.6 L505.8 158.6 L506.8 158.6 L507.8 158.5 L508.9 158.5 L509.9 158.5 L510.9 158.5 L512 158.5 L513 158.5 L514 158.5 L515.1 158.5 L516.1 158.4 L517.1 158.4 L518.2 158.4 L519.2 158.4 L520 158.3 L522.4 158.3 L524.9 158.3 L527.3 158.3 L529.8 158.3 L532.2 158.2 L534.7 158.2 L537.1 158.2 L539.6 158.2 L542 158.2 L544.5 158.2 L546.9 158.1 L549.4 158 L551.8 157.9 L554.3 157.9 L556.7 157.8 L559.2 157.7 L561.6 157.6 L564.1 157.5 L566.5 157.4 L569 157.4 L571.4 157.3 L573.9 157.2 L576.3 157.1 L578.8 157 L581.2 156.9 L583.7 156.8 L586.1 156.7 L588.6 156.6 L591 156.4 L593.5 156.3 L595.9 156.2 L598.4 156.1 L600.8 155.9 L603.3 155.8 L605.7 155.6 L608.2 155.4 L610.6 155.1 L613.1 154.9 L615.5 154.6 L618 154.3 L620.4 153.9 L622.9 153.5 L625.3 153.1 L627.8 152.5 L630.2 151.8 L632.7 150.7 L635.1 149.3 L637.6 147.6 L640 145.2 L640.5 144.7 L640.9 144.2 L641.2 143.8 L641.6 143.3 L642 142.8 L642.3 142.4 L642.7 141.9 L643.1 141.4 L643.4 140.9 L643.8 140.4 L644.2 139.8 L644.5 139.3 L644.9 138.7 L645.3 138.1 L645.6 137.5 L646 136.8 L646.4 136.2 L646.7 135.5 L647.1 134.8 L647.5 134.1 L647.8 133.3 L648.2 132.6 L648.6 131.9 L648.9 131.2 L649.3 130.4 L649.7 129.7 L650 128.9 L650.4 128 L650.8 127.2 L651.1 126.2 L651.5 125.3 L651.8 124.3 L652.2 123.2 L652.6 122 L652.9 120.7 L653.3 119.3 L653.7 117.6 L654 115.8 L654.4 113.8 L654.8 111.7 L655.1 109.5 L655.5 107.3 L655.9 104.8 L656.2 102.1 L656.6 99.3 L657 96.5 L657.3 93.8 L657.7 91.4 L658.1 89 L658.4 86.7 L658.8 84.5 L659.2 82.2 L659.5 80 L659.9 77.7 L660.3 75.4 L660.6 73.1 L661 70.8 L661.4 68.5 L661.7 66.2 L662.1 64" fill="none" stroke="#cfdc58" stroke-width="1.3" stroke-opacity="0.28" stroke-linejoin="round" stroke-linecap="round"/>
<path d="M394 188.6 L395 187.4 L396.1 186.2 L397.1 185 L398.1 183.9 L399.2 182.8 L400.2 181.7 L401.2 180.7 L402.3 179.7 L403.3 178.8 L404.3 177.8 L405.4 176.9 L406.4 176.1 L407.5 175.3 L408.5 174.5 L409.5 173.7 L410.6 173 L411.6 172.3 L412.6 171.6 L413.7 170.9 L414.7 170.3 L415.7 169.7 L416.8 169.1 L417.8 168.6 L418.8 168 L419.9 167.5 L420.9 167 L421.9 166.6 L423 166.1 L424 165.7 L425 165.3 L426.1 164.9 L427.1 164.5 L428.1 164.2 L429.2 163.9 L430.2 163.5 L431.3 163.2 L432.3 163 L433.3 162.7 L434.4 162.4 L435.4 162.2 L436.4 162 L437.5 161.8 L438.5 161.6 L439.5 161.4 L440.6 161.2 L441.6 161 L442.6 160.9 L443.7 160.7 L444.7 160.6 L445.7 160.5 L446.8 160.3 L447.8 160.2 L448.8 160.1 L449.9 160 L450.9 159.9 L451.9 159.9 L453 159.8 L454 159.7 L455.1 159.6 L456.1 159.6 L457.1 159.5 L458.2 159.5 L459.2 159.4 L460.2 159.4 L461.3 159.4 L462.3 159.3 L463.3 159.3 L464.4 159.3 L465.4 159.2 L466.4 159.2 L467.5 159.2 L468.5 159.2 L469.5 159.1 L470.6 159.1 L471.6 159.1 L472.6 159.1 L473.7 159.1 L474.7 159.1 L475.7 159.1 L476.8 159 L477.8 159 L478.8 159 L479.9 159 L480.9 159 L482 159 L483 159 L484 158.9 L485.1 158.9 L486.1 158.9 L487.1 158.9 L488.2 158.9 L489.2 158.9 L490.2 158.9 L491.3 158.8 L492.3 158.8 L493.3 158.8 L494.4 158.8 L495.4 158.8 L496.4 158.8 L497.5 158.8 L498.5 158.7 L499.5 158.7 L500.6 158.7 L501.6 158.7 L502.6 158.7 L503.7 158.7 L504.7 158.7 L505.8 158.6 L506.8 158.6 L507.8 158.6 L508.9 158.6 L509.9 158.6 L510.9 158.6 L512 158.6 L513 158.5 L514 158.5 L515.1 158.5 L516.1 158.5 L517.1 158.5 L518.2 158.5 L519.2 158.5 L520 158.3 L522.4 158.3 L524.9 158.3 L527.3 158.3 L529.8 158.3 L532.2 158.3 L534.7 158.3 L537.1 158.2 L539.6 158.2 L542 158.2 L544.5 158.2 L546.9 158.1 L549.4 158 L551.8 157.9 L554.3 157.8 L556.7 157.8 L559.2 157.7 L561.6 157.6 L564.1 157.5 L566.5 157.4 L569 157.3 L571.4 157.2 L573.9 157.1 L576.3 157 L578.8 156.9 L581.2 156.8 L583.7 156.7 L586.1 156.6 L588.6 156.5 L591 156.3 L593.5 156.2 L595.9 156.1 L598.4 156 L600.8 155.8 L603.3 155.6 L605.7 155.4 L608.2 155.2 L610.6 154.9 L613.1 154.7 L615.5 154.4 L618 154 L620.4 153.7 L622.9 153.3 L625.3 152.8 L627.8 152.2 L630.2 151.5 L632.7 150.3 L635.1 148.8 L637.6 147 L640 144.5 L640.5 143.8 L640.9 143.4 L641.2 142.9 L641.6 142.4 L642 141.9 L642.3 141.4 L642.7 140.9 L643.1 140.4 L643.4 139.8 L643.8 139.3 L644.2 138.7 L644.5 138.1 L644.9 137.5 L645.3 136.9 L645.6 136.2 L646 135.5 L646.4 134.8 L646.7 134.1 L647.1 133.4 L647.5 132.6 L647.8 131.8 L648.2 131.1 L648.6 130.3 L648.9 129.5 L649.3 128.7 L649.7 127.9 L650 127.1 L650.4 126.2 L650.8 125.3 L651.1 124.3 L651.5 123.3 L651.8 122.2 L652.2 121 L652.6 119.8 L652.9 118.5 L653.3 116.9 L653.7 115.2 L654 113.2 L654.4 111.1 L654.8 108.9 L655.1 106.6 L655.5 104.2 L655.9 101.6 L656.2 98.7 L656.6 95.7 L657 92.7 L657.3 89.9 L657.7 87.3 L658.1 84.8 L658.4 82.4 L658.8 80 L659.2 77.6 L659.5 75.2 L659.9 72.8 L660.3 70.3 L660.6 67.9 L661 65.5 L661.4 63.1 L661.7 60.6 L662.1 58.2" fill="none" stroke="#cfdc58" stroke-width="1.3" stroke-opacity="0.28" stroke-linejoin="round" stroke-linecap="round"/>
<path d="M394 192.2 L395 190.8 L396.1 189.5 L397.1 188.1 L398.1 186.9 L399.2 185.7 L400.2 184.5 L401.2 183.3 L402.3 182.2 L403.3 181.2 L404.3 180.1 L405.4 179.2 L406.4 178.2 L407.5 177.3 L408.5 176.4 L409.5 175.5 L410.6 174.7 L411.6 173.9 L412.6 173.2 L413.7 172.4 L414.7 171.7 L415.7 171.1 L416.8 170.4 L417.8 169.8 L418.8 169.2 L419.9 168.6 L420.9 168.1 L421.9 167.6 L423 167.1 L424 166.6 L425 166.1 L426.1 165.7 L427.1 165.3 L428.1 164.9 L429.2 164.5 L430.2 164.2 L431.3 163.9 L432.3 163.5 L433.3 163.2 L434.4 163 L435.4 162.7 L436.4 162.4 L437.5 162.2 L438.5 162 L439.5 161.8 L440.6 161.6 L441.6 161.4 L442.6 161.2 L443.7 161 L444.7 160.9 L445.7 160.7 L446.8 160.6 L447.8 160.5 L448.8 160.4 L449.9 160.3 L450.9 160.2 L451.9 160.1 L453 160 L454 159.9 L455.1 159.8 L456.1 159.8 L457.1 159.7 L458.2 159.7 L459.2 159.6 L460.2 159.6 L461.3 159.5 L462.3 159.5 L463.3 159.4 L464.4 159.4 L465.4 159.4 L466.4 159.4 L467.5 159.3 L468.5 159.3 L469.5 159.3 L470.6 159.3 L471.6 159.2 L472.6 159.2 L473.7 159.2 L474.7 159.2 L475.7 159.2 L476.8 159.2 L477.8 159.1 L478.8 159.1 L479.9 159.1 L480.9 159.1 L482 159.1 L483 159.1 L484 159 L485.1 159 L486.1 159 L487.1 159 L488.2 159 L489.2 159 L490.2 159 L491.3 158.9 L492.3 158.9 L493.3 158.9 L494.4 158.9 L495.4 158.9 L496.4 158.9 L497.5 158.8 L498.5 158.8 L499.5 158.8 L500.6 158.8 L501.6 158.8 L502.6 158.8 L503.7 158.7 L504.7 158.7 L505.8 158.7 L506.8 158.7 L507.8 158.7 L508.9 158.7 L509.9 158.6 L510.9 158.6 L512 158.6 L513 158.6 L514 158.6 L515.1 158.6 L516.1 158.5 L517.1 158.5 L518.2 158.5 L519.2 158.5 L520 158.3 L522.4 158.3 L524.9 158.3 L527.3 158.3 L529.8 158.3 L532.2 158.3 L534.7 158.3 L537.1 158.3 L539.6 158.3 L542 158.2 L544.5 158.2 L546.9 158.1 L549.4 158 L551.8 157.9 L554.3 157.8 L556.7 157.7 L559.2 157.6 L561.6 157.6 L564.1 157.5 L566.5 157.4 L569 157.3 L571.4 157.2 L573.9 157.1 L576.3 156.9 L578.8 156.8 L581.2 156.7 L583.7 156.6 L586.1 156.5 L588.6 156.4 L591 156.3 L593.5 156.1 L595.9 156 L598.4 155.8 L600.8 155.7 L603.3 155.5 L605.7 155.3 L608.2 155 L610.6 154.8 L613.1 154.5 L615.5 154.2 L618 153.8 L620.4 153.4 L622.9 153 L625.3 152.5 L627.8 151.9 L630.2 151.1 L632.7 149.9 L635.1 148.2 L637.6 146.3 L640 143.7 L640.5 143 L640.9 142.5 L641.2 142 L641.6 141.5 L642 141 L642.3 140.5 L642.7 139.9 L643.1 139.4 L643.4 138.8 L643.8 138.2 L644.2 137.6 L644.5 137 L644.9 136.3 L645.3 135.7 L645.6 135 L646 134.2 L646.4 133.5 L646.7 132.7 L647.1 132 L647.5 131.2 L647.8 130.3 L648.2 129.5 L648.6 128.7 L648.9 127.9 L649.3 127.1 L649.7 126.2 L650 125.3 L650.4 124.4 L650.8 123.4 L651.1 122.4 L651.5 121.3 L651.8 120.2 L652.2 118.9 L652.6 117.6 L652.9 116.2 L653.3 114.6 L653.7 112.7 L654 110.6 L654.4 108.4 L654.8 106.1 L655.1 103.6 L655.5 101.1 L655.9 98.4 L656.2 95.3 L656.6 92.2 L657 89 L657.3 86 L657.7 83.3 L658.1 80.6 L658.4 78.1 L658.8 75.5 L659.2 73 L659.5 70.5 L659.9 67.9 L660.3 65.3 L660.6 62.7 L661 60.2 L661.4 57.6 L661.7 55.1 L662.1 52.5" fill="none" stroke="#cfdc58" stroke-width="1.3" stroke-opacity="0.28" stroke-linejoin="round" stroke-linecap="round"/>
<path d="M394 195.8 L395 194.2 L396.1 192.7 L397.1 191.3 L398.1 189.9 L399.2 188.5 L400.2 187.2 L401.2 186 L402.3 184.8 L403.3 183.6 L404.3 182.5 L405.4 181.4 L406.4 180.3 L407.5 179.3 L408.5 178.3 L409.5 177.4 L410.6 176.5 L411.6 175.6 L412.6 174.7 L413.7 173.9 L414.7 173.2 L415.7 172.4 L416.8 171.7 L417.8 171 L418.8 170.4 L419.9 169.7 L420.9 169.1 L421.9 168.6 L423 168 L424 167.5 L425 167 L426.1 166.5 L427.1 166.1 L428.1 165.6 L429.2 165.2 L430.2 164.8 L431.3 164.5 L432.3 164.1 L433.3 163.8 L434.4 163.5 L435.4 163.2 L436.4 162.9 L437.5 162.6 L438.5 162.4 L439.5 162.2 L440.6 161.9 L441.6 161.7 L442.6 161.5 L443.7 161.4 L444.7 161.2 L445.7 161 L446.8 160.9 L447.8 160.7 L448.8 160.6 L449.9 160.5 L450.9 160.4 L451.9 160.3 L453 160.2 L454 160.1 L455.1 160 L456.1 160 L457.1 159.9 L458.2 159.8 L459.2 159.8 L460.2 159.7 L461.3 159.7 L462.3 159.6 L463.3 159.6 L464.4 159.6 L465.4 159.5 L466.4 159.5 L467.5 159.5 L468.5 159.4 L469.5 159.4 L470.6 159.4 L471.6 159.4 L472.6 159.3 L473.7 159.3 L474.7 159.3 L475.7 159.3 L476.8 159.3 L477.8 159.3 L478.8 159.2 L479.9 159.2 L480.9 159.2 L482 159.2 L483 159.2 L484 159.2 L485.1 159.1 L486.1 159.1 L487.1 159.1 L488.2 159.1 L489.2 159.1 L490.2 159.1 L491.3 159 L492.3 159 L493.3 159 L494.4 159 L495.4 159 L496.4 158.9 L497.5 158.9 L498.5 158.9 L499.5 158.9 L500.6 158.9 L501.6 158.9 L502.6 158.8 L503.7 158.8 L504.7 158.8 L505.8 158.8 L506.8 158.8 L507.8 158.7 L508.9 158.7 L509.9 158.7 L510.9 158.7 L512 158.7 L513 158.7 L514 158.6 L515.1 158.6 L516.1 158.6 L517.1 158.6 L518.2 158.6 L519.2 158.5 L520 158.4 L522.4 158.4 L524.9 158.3 L527.3 158.3 L529.8 158.3 L532.2 158.3 L534.7 158.3 L537.1 158.3 L539.6 158.3 L542 158.2 L544.5 158.2 L546.9 158.1 L549.4 158 L551.8 157.9 L554.3 157.8 L556.7 157.7 L559.2 157.6 L561.6 157.5 L564.1 157.4 L566.5 157.3 L569 157.2 L571.4 157.1 L573.9 157 L576.3 156.9 L578.8 156.8 L581.2 156.7 L583.7 156.5 L586.1 156.4 L588.6 156.3 L591 156.2 L593.5 156 L595.9 155.9 L598.4 155.7 L600.8 155.5 L603.3 155.3 L605.7 155.1 L608.2 154.9 L610.6 154.6 L613.1 154.3 L615.5 153.9 L618 153.6 L620.4 153.2 L622.9 152.7 L625.3 152.2 L627.8 151.5 L630.2 150.7 L632.7 149.4 L635.1 147.7 L637.6 145.7 L640 142.9 L640.5 142.2 L640.9 141.7 L641.2 141.2 L641.6 140.6 L642 140.1 L642.3 139.5 L642.7 138.9 L643.1 138.3 L643.4 137.8 L643.8 137.1 L644.2 136.5 L644.5 135.9 L644.9 135.2 L645.3 134.5 L645.6 133.7 L646 133 L646.4 132.2 L646.7 131.4 L647.1 130.5 L647.5 129.7 L647.8 128.8 L648.2 128 L648.6 127.1 L648.9 126.3 L649.3 125.4 L649.7 124.5 L650 123.5 L650.4 122.6 L650.8 121.5 L651.1 120.5 L651.5 119.3 L651.8 118.1 L652.2 116.8 L652.6 115.4 L652.9 113.9 L653.3 112.2 L653.7 110.2 L654 108.1 L654.4 105.7 L654.8 103.2 L655.1 100.7 L655.5 98 L655.9 95.1 L656.2 92 L656.6 88.6 L657 85.3 L657.3 82.1 L657.7 79.2 L658.1 76.4 L658.4 73.7 L658.8 71.1 L659.2 68.4 L659.5 65.7 L659.9 63 L660.3 60.3 L660.6 57.6 L661 54.9 L661.4 52.2 L661.7 49.5 L662.1 46.8" fill="none" stroke="#cfdc58" stroke-width="1.3" stroke-opacity="0.28" stroke-linejoin="round" stroke-linecap="round"/>
<path d="M394 199.3 L395 197.6 L396.1 196 L397.1 194.4 L398.1 192.9 L399.2 191.4 L400.2 190 L401.2 188.6 L402.3 187.3 L403.3 186 L404.3 184.8 L405.4 183.6 L406.4 182.4 L407.5 181.3 L408.5 180.2 L409.5 179.2 L410.6 178.2 L411.6 177.2 L412.6 176.3 L413.7 175.4 L414.7 174.6 L415.7 173.8 L416.8 173 L417.8 172.2 L418.8 171.5 L419.9 170.8 L420.9 170.2 L421.9 169.6 L423 169 L424 168.4 L425 167.8 L426.1 167.3 L427.1 166.8 L428.1 166.4 L429.2 165.9 L430.2 165.5 L431.3 165.1 L432.3 164.7 L433.3 164.3 L434.4 164 L435.4 163.7 L436.4 163.4 L437.5 163.1 L438.5 162.8 L439.5 162.5 L440.6 162.3 L441.6 162.1 L442.6 161.9 L443.7 161.7 L444.7 161.5 L445.7 161.3 L446.8 161.2 L447.8 161 L448.8 160.9 L449.9 160.7 L450.9 160.6 L451.9 160.5 L453 160.4 L454 160.3 L455.1 160.2 L456.1 160.1 L457.1 160.1 L458.2 160 L459.2 159.9 L460.2 159.9 L461.3 159.8 L462.3 159.8 L463.3 159.7 L464.4 159.7 L465.4 159.7 L466.4 159.6 L467.5 159.6 L468.5 159.6 L469.5 159.5 L470.6 159.5 L471.6 159.5 L472.6 159.5 L473.7 159.5 L474.7 159.4 L475.7 159.4 L476.8 159.4 L477.8 159.4 L478.8 159.4 L479.9 159.3 L480.9 159.3 L482 159.3 L483 159.3 L484 159.3 L485.1 159.2 L486.1 159.2 L487.1 159.2 L488.2 159.2 L489.2 159.2 L490.2 159.2 L491.3 159.1 L492.3 159.1 L493.3 159.1 L494.4 159.1 L495.4 159.1 L496.4 159 L497.5 159 L498.5 159 L499.5 159 L500.6 159 L501.6 158.9 L502.6 158.9 L503.7 158.9 L504.7 158.9 L505.8 158.9 L506.8 158.8 L507.8 158.8 L508.9 158.8 L509.9 158.8 L510.9 158.8 L512 158.7 L513 158.7 L514 158.7 L515.1 158.7 L516.1 158.7 L517.1 158.6 L518.2 158.6 L519.2 158.6 L520 158.4 L522.4 158.4 L524.9 158.4 L527.3 158.4 L529.8 158.3 L532.2 158.3 L534.7 158.3 L537.1 158.3 L539.6 158.3 L542 158.3 L544.5 158.2 L546.9 158.1 L549.4 158 L551.8 157.9 L554.3 157.8 L556.7 157.7 L559.2 157.6 L561.6 157.5 L564.1 157.4 L566.5 157.3 L569 157.2 L571.4 157.1 L573.9 157 L576.3 156.8 L578.8 156.7 L581.2 156.6 L583.7 156.5 L586.1 156.3 L588.6 156.2 L591 156.1 L593.5 155.9 L595.9 155.8 L598.4 155.6 L600.8 155.4 L603.3 155.2 L605.7 155 L608.2 154.7 L610.6 154.4 L613.1 154.1 L615.5 153.7 L618 153.4 L620.4 152.9 L622.9 152.5 L625.3 151.9 L627.8 151.2 L630.2 150.3 L632.7 149 L635.1 147.2 L637.6 145 L640 142.1 L640.5 141.4 L640.9 140.9 L641.2 140.3 L641.6 139.7 L642 139.2 L642.3 138.6 L642.7 137.9 L643.1 137.3 L643.4 136.7 L643.8 136.1 L644.2 135.4 L644.5 134.7 L644.9 134 L645.3 133.2 L645.6 132.5 L646 131.7 L646.4 130.8 L646.7 130 L647.1 129.1 L647.5 128.2 L647.8 127.3 L648.2 126.4 L648.6 125.5 L648.9 124.6 L649.3 123.7 L649.7 122.8 L650 121.8 L650.4 120.7 L650.8 119.7 L651.1 118.5 L651.5 117.3 L651.8 116 L652.2 114.7 L652.6 113.2 L652.9 111.7 L653.3 109.9 L653.7 107.8 L654 105.5 L654.4 103 L654.8 100.4 L655.1 97.7 L655.5 94.9 L655.9 91.9 L656.2 88.6 L656.6 85 L657 81.5 L657.3 78.2 L657.7 75.2 L658.1 72.2 L658.4 69.4 L658.8 66.6 L659.2 63.8 L659.5 61 L659.9 58.1 L660.3 55.3 L660.6 52.4 L661 49.6 L661.4 46.7 L661.7 43.9 L662.1 41.1" fill="none" stroke="#cfdc58" stroke-width="1.3" stroke-opacity="0.28" stroke-linejoin="round" stroke-linecap="round"/>
<path d="M394 202.9 L395 201.1 L396.1 199.3 L397.1 197.6 L398.1 195.9 L399.2 194.3 L400.2 192.8 L401.2 191.3 L402.3 189.8 L403.3 188.4 L404.3 187.1 L405.4 185.8 L406.4 184.5 L407.5 183.3 L408.5 182.1 L409.5 181 L410.6 179.9 L411.6 178.9 L412.6 177.9 L413.7 176.9 L414.7 176 L415.7 175.1 L416.8 174.3 L417.8 173.5 L418.8 172.7 L419.9 172 L420.9 171.2 L421.9 170.6 L423 169.9 L424 169.3 L425 168.7 L426.1 168.1 L427.1 167.6 L428.1 167.1 L429.2 166.6 L430.2 166.1 L431.3 165.7 L432.3 165.3 L433.3 164.9 L434.4 164.5 L435.4 164.2 L436.4 163.8 L437.5 163.5 L438.5 163.2 L439.5 162.9 L440.6 162.7 L441.6 162.4 L442.6 162.2 L443.7 162 L444.7 161.8 L445.7 161.6 L446.8 161.4 L447.8 161.3 L448.8 161.1 L449.9 161 L450.9 160.8 L451.9 160.7 L453 160.6 L454 160.5 L455.1 160.4 L456.1 160.3 L457.1 160.2 L458.2 160.2 L459.2 160.1 L460.2 160 L461.3 160 L462.3 159.9 L463.3 159.9 L464.4 159.8 L465.4 159.8 L466.4 159.8 L467.5 159.7 L468.5 159.7 L469.5 159.7 L470.6 159.7 L471.6 159.6 L472.6 159.6 L473.7 159.6 L474.7 159.6 L475.7 159.5 L476.8 159.5 L477.8 159.5 L478.8 159.5 L479.9 159.5 L480.9 159.4 L482 159.4 L483 159.4 L484 159.4 L485.1 159.4 L486.1 159.3 L487.1 159.3 L488.2 159.3 L489.2 159.3 L490.2 159.3 L491.3 159.2 L492.3 159.2 L493.3 159.2 L494.4 159.2 L495.4 159.1 L496.4 159.1 L497.5 159.1 L498.5 159.1 L499.5 159.1 L500.6 159 L501.6 159 L502.6 159 L503.7 159 L504.7 159 L505.8 158.9 L506.8 158.9 L507.8 158.9 L508.9 158.9 L509.9 158.8 L510.9 158.8 L512 158.8 L513 158.8 L514 158.7 L515.1 158.7 L516.1 158.7 L517.1 158.7 L518.2 158.7 L519.2 158.6 L520 158.4 L522.4 158.4 L524.9 158.4 L527.3 158.4 L529.8 158.4 L532.2 158.4 L534.7 158.3 L537.1 158.3 L539.6 158.3 L542 158.3 L544.5 158.2 L546.9 158.1 L549.4 158 L551.8 157.9 L554.3 157.8 L556.7 157.7 L559.2 157.6 L561.6 157.5 L564.1 157.4 L566.5 157.3 L569 157.1 L571.4 157 L573.9 156.9 L576.3 156.8 L578.8 156.6 L581.2 156.5 L583.7 156.4 L586.1 156.2 L588.6 156.1 L591 156 L593.5 155.8 L595.9 155.7 L598.4 155.5 L600.8 155.3 L603.3 155.1 L605.7 154.8 L608.2 154.6 L610.6 154.2 L613.1 153.9 L615.5 153.5 L618 153.1 L620.4 152.7 L622.9 152.2 L625.3 151.6 L627.8 150.9 L630.2 150 L632.7 148.5 L635.1 146.7 L637.6 144.4 L640 141.3 L640.5 140.6 L640.9 140 L641.2 139.4 L641.6 138.8 L642 138.2 L642.3 137.6 L642.7 137 L643.1 136.3 L643.4 135.7 L643.8 135 L644.2 134.3 L644.5 133.6 L644.9 132.8 L645.3 132 L645.6 131.2 L646 130.4 L646.4 129.5 L646.7 128.6 L647.1 127.7 L647.5 126.8 L647.8 125.8 L648.2 124.9 L648.6 124 L648.9 123 L649.3 122 L649.7 121 L650 120 L650.4 118.9 L650.8 117.8 L651.1 116.6 L651.5 115.3 L651.8 114 L652.2 112.6 L652.6 111.1 L652.9 109.4 L653.3 107.5 L653.7 105.3 L654 102.9 L654.4 100.3 L654.8 97.6 L655.1 94.8 L655.5 91.9 L655.9 88.7 L656.2 85.2 L656.6 81.5 L657 77.8 L657.3 74.3 L657.7 71.1 L658.1 68 L658.4 65.1 L658.8 62.1 L659.2 59.2 L659.5 56.2 L659.9 53.2 L660.3 50.2 L660.6 47.3 L661 44.3 L661.4 41.3 L661.7 38.3 L662.1 35.4" fill="none" stroke="#cfdc58" stroke-width="1.3" stroke-opacity="0.28" stroke-linejoin="round" stroke-linecap="round"/>
<path d="M394 206.5 L395 204.5 L396.1 202.6 L397.1 200.7 L398.1 198.9 L399.2 197.2 L400.2 195.5 L401.2 193.9 L402.3 192.4 L403.3 190.8 L404.3 189.4 L405.4 188 L406.4 186.6 L407.5 185.3 L408.5 184.1 L409.5 182.9 L410.6 181.7 L411.6 180.6 L412.6 179.5 L413.7 178.4 L414.7 177.5 L415.7 176.5 L416.8 175.6 L417.8 174.7 L418.8 173.9 L419.9 173.1 L420.9 172.3 L421.9 171.6 L423 170.9 L424 170.2 L425 169.5 L426.1 168.9 L427.1 168.3 L428.1 167.8 L429.2 167.3 L430.2 166.8 L431.3 166.3 L432.3 165.9 L433.3 165.4 L434.4 165 L435.4 164.6 L436.4 164.3 L437.5 163.9 L438.5 163.6 L439.5 163.3 L440.6 163 L441.6 162.8 L442.6 162.5 L443.7 162.3 L444.7 162.1 L445.7 161.9 L446.8 161.7 L447.8 161.5 L448.8 161.4 L449.9 161.2 L450.9 161.1 L451.9 160.9 L453 160.8 L454 160.7 L455.1 160.6 L456.1 160.5 L457.1 160.4 L458.2 160.3 L459.2 160.3 L460.2 160.2 L461.3 160.1 L462.3 160.1 L463.3 160 L464.4 160 L465.4 160 L466.4 159.9 L467.5 159.9 L468.5 159.8 L469.5 159.8 L470.6 159.8 L471.6 159.8 L472.6 159.7 L473.7 159.7 L474.7 159.7 L475.7 159.7 L476.8 159.6 L477.8 159.6 L478.8 159.6 L479.9 159.6 L480.9 159.5 L482 159.5 L483 159.5 L484 159.5 L485.1 159.5 L486.1 159.4 L487.1 159.4 L488.2 159.4 L489.2 159.4 L490.2 159.3 L491.3 159.3 L492.3 159.3 L493.3 159.3 L494.4 159.3 L495.4 159.2 L496.4 159.2 L497.5 159.2 L498.5 159.2 L499.5 159.1 L500.6 159.1 L501.6 159.1 L502.6 159.1 L503.7 159 L504.7 159 L505.8 159 L506.8 159 L507.8 159 L508.9 158.9 L509.9 158.9 L510.9 158.9 L512 158.9 L513 158.8 L514 158.8 L515.1 158.8 L516.1 158.8 L517.1 158.7 L518.2 158.7 L519.2 158.7 L520 158.5 L522.4 158.4 L524.9 158.4 L527.3 158.4 L529.8 158.4 L532.2 158.4 L534.7 158.4 L537.1 158.3 L539.6 158.3 L542 158.3 L544.5 158.2 L546.9 158.1 L549.4 158 L551.8 157.9 L554.3 157.8 L556.7 157.7 L559.2 157.6 L561.6 157.5 L564.1 157.3 L566.5 157.2 L569 157.1 L571.4 157 L573.9 156.9 L576.3 156.7 L578.8 156.6 L581.2 156.4 L583.7 156.3 L586.1 156.2 L588.6 156 L591 155.9 L593.5 155.7 L595.9 155.5 L598.4 155.4 L600.8 155.2 L603.3 154.9 L605.7 154.7 L608.2 154.4 L610.6 154.1 L613.1 153.7 L615.5 153.3 L618 152.9 L620.4 152.4 L622.9 151.9 L625.3 151.3 L627.8 150.6 L630.2 149.6 L632.7 148.1 L635.1 146.1 L637.6 143.8 L640 140.6 L640.5 139.8 L640.9 139.2 L641.2 138.6 L641.6 137.9 L642 137.3 L642.3 136.7 L642.7 136 L643.1 135.3 L643.4 134.6 L643.8 133.9 L644.2 133.2 L644.5 132.4 L644.9 131.6 L645.3 130.8 L645.6 130 L646 129.1 L646.4 128.2 L646.7 127.3 L647.1 126.3 L647.5 125.3 L647.8 124.3 L648.2 123.4 L648.6 122.4 L648.9 121.4 L649.3 120.4 L649.7 119.3 L650 118.2 L650.4 117.1 L650.8 115.9 L651.1 114.7 L651.5 113.3 L651.8 111.9 L652.2 110.5 L652.6 108.9 L652.9 107.2 L653.3 105.2 L653.7 102.9 L654 100.4 L654.4 97.7 L654.8 94.8 L655.1 91.8 L655.5 88.8 L655.9 85.5 L656.2 81.8 L656.6 77.9 L657 74 L657.3 70.4 L657.7 67.1 L658.1 63.8 L658.4 60.7 L658.8 57.6 L659.2 54.6 L659.5 51.5 L659.9 48.3 L660.3 45.2 L660.6 42.1 L661 39 L661.4 35.9 L661.7 32.7 L662.1 29.6" fill="none" stroke="#cfdc58" stroke-width="1.3" stroke-opacity="0.28" stroke-linejoin="round" stroke-linecap="round"/>
<path d="M394 210 L395 207.9 L396.1 205.9 L397.1 203.9 L398.1 202 L399.2 200.1 L400.2 198.3 L401.2 196.6 L402.3 194.9 L403.3 193.3 L404.3 191.7 L405.4 190.2 L406.4 188.7 L407.5 187.3 L408.5 186 L409.5 184.7 L410.6 183.4 L411.6 182.2 L412.6 181.1 L413.7 180 L414.7 178.9 L415.7 177.9 L416.8 176.9 L417.8 175.9 L418.8 175 L419.9 174.2 L420.9 173.3 L421.9 172.6 L423 171.8 L424 171.1 L425 170.4 L426.1 169.7 L427.1 169.1 L428.1 168.5 L429.2 168 L430.2 167.4 L431.3 166.9 L432.3 166.4 L433.3 166 L434.4 165.5 L435.4 165.1 L436.4 164.7 L437.5 164.4 L438.5 164 L439.5 163.7 L440.6 163.4 L441.6 163.1 L442.6 162.9 L443.7 162.6 L444.7 162.4 L445.7 162.2 L446.8 162 L447.8 161.8 L448.8 161.6 L449.9 161.4 L450.9 161.3 L451.9 161.2 L453 161 L454 160.9 L455.1 160.8 L456.1 160.7 L457.1 160.6 L458.2 160.5 L459.2 160.4 L460.2 160.4 L461.3 160.3 L462.3 160.2 L463.3 160.2 L464.4 160.1 L465.4 160.1 L466.4 160.1 L467.5 160 L468.5 160 L469.5 159.9 L470.6 159.9 L471.6 159.9 L472.6 159.9 L473.7 159.8 L474.7 159.8 L475.7 159.8 L476.8 159.8 L477.8 159.7 L478.8 159.7 L479.9 159.7 L480.9 159.7 L482 159.6 L483 159.6 L484 159.6 L485.1 159.6 L486.1 159.5 L487.1 159.5 L488.2 159.5 L489.2 159.5 L490.2 159.4 L491.3 159.4 L492.3 159.4 L493.3 159.4 L494.4 159.4 L495.4 159.3 L496.4 159.3 L497.5 159.3 L498.5 159.3 L499.5 159.2 L500.6 159.2 L501.6 159.2 L502.6 159.1 L503.7 159.1 L504.7 159.1 L505.8 159.1 L506.8 159 L507.8 159 L508.9 159 L509.9 159 L510.9 158.9 L512 158.9 L513 158.9 L514 158.9 L515.1 158.8 L516.1 158.8 L517.1 158.8 L518.2 158.8 L519.2 158.7 L520 158.5 L522.4 158.5 L524.9 158.5 L527.3 158.4 L529.8 158.4 L532.2 158.4 L534.7 158.4 L537.1 158.4 L539.6 158.3 L542 158.3 L544.5 158.2 L546.9 158.1 L549.4 158 L551.8 157.9 L554.3 157.8 L556.7 157.7 L559.2 157.5 L561.6 157.4 L564.1 157.3 L566.5 157.2 L569 157.1 L571.4 156.9 L573.9 156.8 L576.3 156.7 L578.8 156.5 L581.2 156.4 L583.7 156.2 L586.1 156.1 L588.6 155.9 L591 155.8 L593.5 155.6 L595.9 155.4 L598.4 155.2 L600.8 155 L603.3 154.8 L605.7 154.5 L608.2 154.2 L610.6 153.9 L613.1 153.5 L615.5 153.1 L618 152.7 L620.4 152.2 L622.9 151.7 L625.3 151 L627.8 150.2 L630.2 149.2 L632.7 147.6 L635.1 145.6 L637.6 143.1 L640 139.8 L640.5 139 L640.9 138.4 L641.2 137.7 L641.6 137.1 L642 136.4 L642.3 135.7 L642.7 135 L643.1 134.3 L643.4 133.6 L643.8 132.9 L644.2 132.1 L644.5 131.3 L644.9 130.5 L645.3 129.6 L645.6 128.7 L646 127.8 L646.4 126.9 L646.7 125.9 L647.1 124.9 L647.5 123.9 L647.8 122.8 L648.2 121.8 L648.6 120.8 L648.9 119.7 L649.3 118.7 L649.7 117.6 L650 116.5 L650.4 115.3 L650.8 114 L651.1 112.7 L651.5 111.4 L651.8 109.9 L652.2 108.3 L652.6 106.7 L652.9 104.9 L653.3 102.8 L653.7 100.4 L654 97.8 L654.4 95 L654.8 92 L655.1 88.9 L655.5 85.7 L655.9 82.2 L656.2 78.4 L656.6 74.3 L657 70.3 L657.3 66.5 L657.7 63 L658.1 59.7 L658.4 56.4 L658.8 53.2 L659.2 50 L659.5 46.7 L659.9 43.5 L660.3 40.2 L660.6 36.9 L661 33.7 L661.4 30.4 L661.7 27.2 L662.1 23.9" fill="none" stroke="#cfdc58" stroke-width="1.3" stroke-opacity="0.28" stroke-linejoin="round" stroke-linecap="round"/>
<path d="M394 213.6 L395 211.3 L396.1 209.1 L397.1 207 L398.1 205 L399.2 203 L400.2 201.1 L401.2 199.2 L402.3 197.4 L403.3 195.7 L404.3 194 L405.4 192.4 L406.4 190.8 L407.5 189.3 L408.5 187.9 L409.5 186.5 L410.6 185.2 L411.6 183.9 L412.6 182.6 L413.7 181.5 L414.7 180.3 L415.7 179.2 L416.8 178.2 L417.8 177.2 L418.8 176.2 L419.9 175.3 L420.9 174.4 L421.9 173.5 L423 172.7 L424 172 L425 171.2 L426.1 170.5 L427.1 169.9 L428.1 169.2 L429.2 168.6 L430.2 168.1 L431.3 167.5 L432.3 167 L433.3 166.5 L434.4 166.1 L435.4 165.6 L436.4 165.2 L437.5 164.8 L438.5 164.5 L439.5 164.1 L440.6 163.8 L441.6 163.5 L442.6 163.2 L443.7 162.9 L444.7 162.7 L445.7 162.5 L446.8 162.2 L447.8 162 L448.8 161.9 L449.9 161.7 L450.9 161.5 L451.9 161.4 L453 161.2 L454 161.1 L455.1 161 L456.1 160.9 L457.1 160.8 L458.2 160.7 L459.2 160.6 L460.2 160.5 L461.3 160.5 L462.3 160.4 L463.3 160.3 L464.4 160.3 L465.4 160.2 L466.4 160.2 L467.5 160.2 L468.5 160.1 L469.5 160.1 L470.6 160 L471.6 160 L472.6 160 L473.7 160 L474.7 159.9 L475.7 159.9 L476.8 159.9 L477.8 159.9 L478.8 159.8 L479.9 159.8 L480.9 159.8 L482 159.8 L483 159.7 L484 159.7 L485.1 159.7 L486.1 159.6 L487.1 159.6 L488.2 159.6 L489.2 159.6 L490.2 159.5 L491.3 159.5 L492.3 159.5 L493.3 159.5 L494.4 159.4 L495.4 159.4 L496.4 159.4 L497.5 159.4 L498.5 159.3 L499.5 159.3 L500.6 159.3 L501.6 159.3 L502.6 159.2 L503.7 159.2 L504.7 159.2 L505.8 159.1 L506.8 159.1 L507.8 159.1 L508.9 159.1 L509.9 159 L510.9 159 L512 159 L513 158.9 L514 158.9 L515.1 158.9 L516.1 158.9 L517.1 158.8 L518.2 158.8 L519.2 158.8 L520 158.5 L522.4 158.5 L524.9 158.5 L527.3 158.5 L529.8 158.4 L532.2 158.4 L534.7 158.4 L537.1 158.4 L539.6 158.4 L542 158.3 L544.5 158.2 L546.9 158.2 L549.4 158 L551.8 157.9 L554.3 157.8 L556.7 157.6 L559.2 157.5 L561.6 157.4 L564.1 157.3 L566.5 157.2 L569 157 L571.4 156.9 L573.9 156.7 L576.3 156.6 L578.8 156.5 L581.2 156.3 L583.7 156.1 L586.1 156 L588.6 155.8 L591 155.7 L593.5 155.5 L595.9 155.3 L598.4 155.1 L600.8 154.9 L603.3 154.7 L605.7 154.4 L608.2 154.1 L610.6 153.7 L613.1 153.3 L615.5 152.9 L618 152.4 L620.4 151.9 L622.9 151.4 L625.3 150.7 L627.8 149.9 L630.2 148.8 L632.7 147.2 L635.1 145.1 L637.6 142.5 L640 139 L640.5 138.2 L640.9 137.5 L641.2 136.8 L641.6 136.2 L642 135.5 L642.3 134.8 L642.7 134 L643.1 133.3 L643.4 132.5 L643.8 131.8 L644.2 131 L644.5 130.2 L644.9 129.3 L645.3 128.4 L645.6 127.5 L646 126.5 L646.4 125.5 L646.7 124.5 L647.1 123.5 L647.5 122.4 L647.8 121.3 L648.2 120.3 L648.6 119.2 L648.9 118.1 L649.3 117 L649.7 115.9 L650 114.7 L650.4 113.5 L650.8 112.2 L651.1 110.8 L651.5 109.4 L651.8 107.8 L652.2 106.2 L652.6 104.5 L652.9 102.6 L653.3 100.4 L653.7 98 L654 95.2 L654.4 92.3 L654.8 89.2 L655.1 85.9 L655.5 82.6 L655.9 79 L656.2 75 L656.6 70.8 L657 66.6 L657.3 62.6 L657.7 59 L658.1 55.5 L658.4 52 L658.8 48.7 L659.2 45.4 L659.5 42 L659.9 38.6 L660.3 35.2 L660.6 31.8 L661 28.4 L661.4 25 L661.7 21.6 L662.1 18.2" fill="none" stroke="#cfdc58" stroke-width="1.3" stroke-opacity="0.28" stroke-linejoin="round" stroke-linecap="round"/>
<path d="M394 188.5 L395 187.2 L396.1 185.9 L397.1 184.6 L398.1 183.4 L399.2 182.3 L400.2 181.1 L401.2 180 L402.3 179 L403.3 178 L404.3 177 L405.4 176 L406.4 175.1 L407.5 174.2 L408.5 173.4 L409.5 172.6 L410.6 171.8 L411.6 171 L412.6 170.3 L413.7 169.6 L414.7 168.9 L415.7 168.3 L416.8 167.7 L417.8 167.1 L418.8 166.5 L419.9 166 L420.9 165.4 L421.9 164.9 L423 164.5 L424 164 L425 163.6 L426.1 163.2 L427.1 162.8 L428.1 162.4 L429.2 162.1 L430.2 161.7 L431.3 161.4 L432.3 161.1 L433.3 160.8 L434.4 160.5 L435.4 160.3 L436.4 160 L437.5 159.8 L438.5 159.6 L439.5 159.4 L440.6 159.2 L441.6 159 L442.6 158.9 L443.7 158.7 L444.7 158.6 L445.7 158.4 L446.8 158.3 L447.8 158.2 L448.8 158.1 L449.9 158 L450.9 157.9 L451.9 157.8 L453 157.7 L454 157.6 L455.1 157.6 L456.1 157.5 L457.1 157.4 L458.2 157.4 L459.2 157.3 L460.2 157.3 L461.3 157.3 L462.3 157.2 L463.3 157.2 L464.4 157.1 L465.4 157.1 L466.4 157.1 L467.5 157.1 L468.5 157 L469.5 157 L470.6 157 L471.6 157 L472.6 157 L473.7 157 L474.7 156.9 L475.7 156.9 L476.8 156.9 L477.8 156.9 L478.8 156.9 L479.9 156.9 L480.9 156.9 L482 156.8 L483 156.8 L484 156.8 L485.1 156.8 L486.1 156.8 L487.1 156.8 L488.2 156.8 L489.2 156.7 L490.2 156.7 L491.3 156.7 L492.3 156.7 L493.3 156.7 L494.4 156.7 L495.4 156.7 L496.4 156.6 L497.5 156.6 L498.5 156.6 L499.5 156.6 L500.6 156.6 L501.6 156.6 L502.6 156.6 L503.7 156.5 L504.7 156.5 L505.8 156.5 L506.8 156.5 L507.8 156.5 L508.9 156.5 L509.9 156.5 L510.9 156.4 L512 156.4 L513 156.4 L514 156.4 L515.1 156.4 L516.1 156.4 L517.1 156.4 L518.2 156.3 L519.2 156.3 L520 156.2 L522.4 156.1 L524.9 156.1 L527.3 156.1 L529.8 156.1 L532.2 156.1 L534.7 156.1 L537.1 156.1 L539.6 156.1 L542 156.1 L544.5 156 L546.9 155.9 L549.4 155.8 L551.8 155.7 L554.3 155.6 L556.7 155.5 L559.2 155.3 L561.6 155.2 L564.1 155.1 L566.5 155 L569 154.8 L571.4 154.7 L573.9 154.6 L576.3 154.4 L578.8 154.3 L581.2 154.1 L583.7 154 L586.1 153.8 L588.6 153.6 L591 153.5 L593.5 153.3 L595.9 153.1 L598.4 152.9 L600.8 152.7 L603.3 152.5 L605.7 152.2 L608.2 151.9 L610.6 151.5 L613.1 151.1 L615.5 150.7 L618 150.2 L620.4 149.7 L622.9 149.2 L625.3 148.5 L627.8 147.7 L630.2 146.6 L632.7 145 L635.1 142.9 L637.6 140.3 L640 136.8 L640.5 136 L640.9 135.3 L641.2 134.6 L641.6 134 L642 133.3 L642.3 132.6 L642.7 131.8 L643.1 131.1 L643.4 130.3 L643.8 129.6 L644.2 128.8 L644.5 128 L644.9 127.1 L645.3 126.2 L645.6 125.3 L646 124.3 L646.4 123.3 L646.7 122.3 L647.1 121.3 L647.5 120.2 L647.8 119.1 L648.2 118.1 L648.6 117 L648.9 115.9 L649.3 114.8 L649.7 113.7 L650 112.5 L650.4 111.3 L650.8 110 L651.1 108.6 L651.5 107.2 L651.8 105.6 L652.2 104 L652.6 102.3 L652.9 100.4 L653.3 98.2 L653.7 95.8 L654 93 L654.4 90.1 L654.8 87 L655.1 83.7 L655.5 80.4 L655.9 76.8 L656.2 72.8 L656.6 68.6 L657 64.4 L657.3 60.4 L657.7 56.8 L658.1 53.3 L658.4 49.9 L658.8 46.5 L659.2 43.2 L659.5 39.8 L659.9 36.4 L660.3 33 L660.6 29.6 L661 26.2 L661.4 22.8 L661.7 19.4 L662.1 16 L662.1 20.4 L661.7 23.8 L661.4 27.2 L661 30.6 L660.6 34 L660.3 37.4 L659.9 40.8 L659.5 44.2 L659.2 47.6 L658.8 50.9 L658.4 54.3 L658.1 57.7 L657.7 61.2 L657.3 64.8 L657 68.8 L656.6 73 L656.2 77.2 L655.9 81.2 L655.5 84.8 L655.1 88.1 L654.8 91.4 L654.4 94.5 L654 97.4 L653.7 100.2 L653.3 102.6 L652.9 104.8 L652.6 106.7 L652.2 108.4 L651.8 110 L651.5 111.6 L651.1 113 L650.8 114.4 L650.4 115.7 L650 116.9 L649.7 118.1 L649.3 119.2 L648.9 120.3 L648.6 121.4 L648.2 122.5 L647.8 123.5 L647.5 124.6 L647.1 125.7 L646.7 126.7 L646.4 127.7 L646 128.7 L645.6 129.7 L645.3 130.6 L644.9 131.5 L644.5 132.4 L644.2 133.2 L643.8 134 L643.4 134.7 L643.1 135.5 L642.7 136.2 L642.3 137 L642 137.7 L641.6 138.4 L641.2 139 L640.9 139.7 L640.5 140.4 L640 141.2 L637.6 144.7 L635.1 147.3 L632.7 149.4 L630.2 151 L627.8 152.1 L625.3 152.9 L622.9 153.6 L620.4 154.1 L618 154.6 L615.5 155.1 L613.1 155.5 L610.6 155.9 L608.2 156.3 L605.7 156.6 L603.3 156.9 L600.8 157.1 L598.4 157.3 L595.9 157.5 L593.5 157.7 L591 157.9 L588.6 158 L586.1 158.2 L583.7 158.4 L581.2 158.5 L578.8 158.7 L576.3 158.8 L573.9 159 L571.4 159.1 L569 159.2 L566.5 159.4 L564.1 159.5 L561.6 159.6 L559.2 159.7 L556.7 159.9 L554.3 160 L551.8 160.1 L549.4 160.2 L546.9 160.3 L544.5 160.4 L542 160.5 L539.6 160.5 L537.1 160.5 L534.7 160.5 L532.2 160.5 L529.8 160.5 L527.3 160.5 L524.9 160.5 L522.4 160.5 L520 160.5 L519.2 160.7 L518.2 160.7 L517.1 160.8 L516.1 160.8 L515.1 160.8 L514 160.8 L513 160.8 L512 160.8 L510.9 160.8 L509.9 160.9 L508.9 160.9 L507.8 160.9 L506.8 160.9 L505.8 160.9 L504.7 160.9 L503.7 160.9 L502.6 161 L501.6 161 L500.6 161 L499.5 161 L498.5 161 L497.5 161 L496.4 161 L495.4 161.1 L494.4 161.1 L493.3 161.1 L492.3 161.1 L491.3 161.1 L490.2 161.1 L489.2 161.1 L488.2 161.2 L487.1 161.2 L486.1 161.2 L485.1 161.2 L484 161.2 L483 161.2 L482 161.2 L480.9 161.3 L479.9 161.3 L478.8 161.3 L477.8 161.3 L476.8 161.3 L475.7 161.3 L474.7 161.3 L473.7 161.4 L472.6 161.4 L471.6 161.4 L470.6 161.4 L469.5 161.4 L468.5 161.4 L467.5 161.5 L466.4 161.5 L465.4 161.5 L464.4 161.5 L463.3 161.6 L462.3 161.6 L461.3 161.7 L460.2 161.7 L459.2 161.7 L458.2 161.8 L457.1 161.8 L456.1 161.9 L455.1 162 L454 162 L453 162.1 L451.9 162.2 L450.9 162.3 L449.9 162.4 L448.8 162.5 L447.8 162.6 L446.8 162.7 L445.7 162.8 L444.7 163 L443.7 163.1 L442.6 163.3 L441.6 163.4 L440.6 163.6 L439.5 163.8 L438.5 164 L437.5 164.2 L436.4 164.4 L435.4 164.7 L434.4 164.9 L433.3 165.2 L432.3 165.5 L431.3 165.8 L430.2 166.1 L429.2 166.5 L428.1 166.8 L427.1 167.2 L426.1 167.6 L425 168 L424 168.4 L423 168.9 L421.9 169.3 L420.9 169.8 L419.9 170.4 L418.8 170.9 L417.8 171.5 L416.8 172.1 L415.7 172.7 L414.7 173.3 L413.7 174 L412.6 174.7 L411.6 175.4 L410.6 176.2 L409.5 177 L408.5 177.8 L407.5 178.6 L406.4 179.5 L405.4 180.4 L404.3 181.4 L403.3 182.4 L402.3 183.4 L401.2 184.4 L400.2 185.5 L399.2 186.7 L398.1 187.8 L397.1 189 L396.1 190.3 L395 191.6 L394 192.9Z" fill="#f2d24a" fill-opacity="0.5" filter="url(#b1)"/>
<path d="M394 190.7 L395 189.4 L396.1 188.1 L397.1 186.8 L398.1 185.6 L399.2 184.5 L400.2 183.3 L401.2 182.2 L402.3 181.2 L403.3 180.2 L404.3 179.2 L405.4 178.2 L406.4 177.3 L407.5 176.4 L408.5 175.6 L409.5 174.8 L410.6 174 L411.6 173.2 L412.6 172.5 L413.7 171.8 L414.7 171.1 L415.7 170.5 L416.8 169.9 L417.8 169.3 L418.8 168.7 L419.9 168.2 L420.9 167.6 L421.9 167.1 L423 166.7 L424 166.2 L425 165.8 L426.1 165.4 L427.1 165 L428.1 164.6 L429.2 164.3 L430.2 163.9 L431.3 163.6 L432.3 163.3 L433.3 163 L434.4 162.7 L435.4 162.5 L436.4 162.2 L437.5 162 L438.5 161.8 L439.5 161.6 L440.6 161.4 L441.6 161.2 L442.6 161.1 L443.7 160.9 L444.7 160.8 L445.7 160.6 L446.8 160.5 L447.8 160.4 L448.8 160.3 L449.9 160.2 L450.9 160.1 L451.9 160 L453 159.9 L454 159.8 L455.1 159.8 L456.1 159.7 L457.1 159.6 L458.2 159.6 L459.2 159.5 L460.2 159.5 L461.3 159.5 L462.3 159.4 L463.3 159.4 L464.4 159.3 L465.4 159.3 L466.4 159.3 L467.5 159.3 L468.5 159.2 L469.5 159.2 L470.6 159.2 L471.6 159.2 L472.6 159.2 L473.7 159.2 L474.7 159.1 L475.7 159.1 L476.8 159.1 L477.8 159.1 L478.8 159.1 L479.9 159.1 L480.9 159.1 L482 159 L483 159 L484 159 L485.1 159 L486.1 159 L487.1 159 L488.2 159 L489.2 158.9 L490.2 158.9 L491.3 158.9 L492.3 158.9 L493.3 158.9 L494.4 158.9 L495.4 158.9 L496.4 158.8 L497.5 158.8 L498.5 158.8 L499.5 158.8 L500.6 158.8 L501.6 158.8 L502.6 158.8 L503.7 158.7 L504.7 158.7 L505.8 158.7 L506.8 158.7 L507.8 158.7 L508.9 158.7 L509.9 158.7 L510.9 158.6 L512 158.6 L513 158.6 L514 158.6 L515.1 158.6 L516.1 158.6 L517.1 158.6 L518.2 158.5 L519.2 158.5 L520 158.3 L522.4 158.3 L524.9 158.3 L527.3 158.3 L529.8 158.3 L532.2 158.3 L534.7 158.3 L537.1 158.3 L539.6 158.3 L542 158.3 L544.5 158.2 L546.9 158.1 L549.4 158 L551.8 157.9 L554.3 157.8 L556.7 157.7 L559.2 157.5 L561.6 157.4 L564.1 157.3 L566.5 157.2 L569 157 L571.4 156.9 L573.9 156.8 L576.3 156.6 L578.8 156.5 L581.2 156.3 L583.7 156.2 L586.1 156 L588.6 155.8 L591 155.7 L593.5 155.5 L595.9 155.3 L598.4 155.1 L600.8 154.9 L603.3 154.7 L605.7 154.4 L608.2 154.1 L610.6 153.7 L613.1 153.3 L615.5 152.9 L618 152.4 L620.4 151.9 L622.9 151.4 L625.3 150.7 L627.8 149.9 L630.2 148.8 L632.7 147.2 L635.1 145.1 L637.6 142.5 L640 139 L640.5 138.2 L640.9 137.5 L641.2 136.8 L641.6 136.2 L642 135.5 L642.3 134.8 L642.7 134 L643.1 133.3 L643.4 132.5 L643.8 131.8 L644.2 131 L644.5 130.2 L644.9 129.3 L645.3 128.4 L645.6 127.5 L646 126.5 L646.4 125.5 L646.7 124.5 L647.1 123.5 L647.5 122.4 L647.8 121.3 L648.2 120.3 L648.6 119.2 L648.9 118.1 L649.3 117 L649.7 115.9 L650 114.7 L650.4 113.5 L650.8 112.2 L651.1 110.8 L651.5 109.4 L651.8 107.8 L652.2 106.2 L652.6 104.5 L652.9 102.6 L653.3 100.4 L653.7 98 L654 95.2 L654.4 92.3 L654.8 89.2 L655.1 85.9 L655.5 82.6 L655.9 79 L656.2 75 L656.6 70.8 L657 66.6 L657.3 62.6 L657.7 59 L658.1 55.5 L658.4 52.1 L658.8 48.7 L659.2 45.4 L659.5 42 L659.9 38.6 L660.3 35.2 L660.6 31.8 L661 28.4 L661.4 25 L661.7 21.6 L662.1 18.2" fill="none" stroke="#f0b030" stroke-width="2.5" stroke-opacity="0.6" stroke-linejoin="round" stroke-linecap="round"/>
<path d="M394 190.7 L395 189.4 L396.1 188.1 L397.1 186.8 L398.1 185.6 L399.2 184.5 L400.2 183.3 L401.2 182.2 L402.3 181.2 L403.3 180.2 L404.3 179.2 L405.4 178.2 L406.4 177.3 L407.5 176.4 L408.5 175.6 L409.5 174.8 L410.6 174 L411.6 173.2 L412.6 172.5 L413.7 171.8 L414.7 171.1 L415.7 170.5 L416.8 169.9 L417.8 169.3 L418.8 168.7 L419.9 168.2 L420.9 167.6 L421.9 167.1 L423 166.7 L424 166.2 L425 165.8 L426.1 165.4 L427.1 165 L428.1 164.6 L429.2 164.3 L430.2 163.9 L431.3 163.6 L432.3 163.3 L433.3 163 L434.4 162.7 L435.4 162.5 L436.4 162.2 L437.5 162 L438.5 161.8 L439.5 161.6 L440.6 161.4 L441.6 161.2 L442.6 161.1 L443.7 160.9 L444.7 160.8 L445.7 160.6 L446.8 160.5 L447.8 160.4 L448.8 160.3 L449.9 160.2 L450.9 160.1 L451.9 160 L453 159.9 L454 159.8 L455.1 159.8 L456.1 159.7 L457.1 159.6 L458.2 159.6 L459.2 159.5 L460.2 159.5 L461.3 159.5 L462.3 159.4 L463.3 159.4 L464.4 159.3 L465.4 159.3 L466.4 159.3 L467.5 159.3 L468.5 159.2 L469.5 159.2 L470.6 159.2 L471.6 159.2 L472.6 159.2 L473.7 159.2 L474.7 159.1 L475.7 159.1 L476.8 159.1 L477.8 159.1 L478.8 159.1 L479.9 159.1 L480.9 159.1 L482 159 L483 159 L484 159 L485.1 159 L486.1 159 L487.1 159 L488.2 159 L489.2 158.9 L490.2 158.9 L491.3 158.9 L492.3 158.9 L493.3 158.9 L494.4 158.9 L495.4 158.9 L496.4 158.8 L497.5 158.8 L498.5 158.8 L499.5 158.8 L500.6 158.8 L501.6 158.8 L502.6 158.8 L503.7 158.7 L504.7 158.7 L505.8 158.7 L506.8 158.7 L507.8 158.7 L508.9 158.7 L509.9 158.7 L510.9 158.6 L512 158.6 L513 158.6 L514 158.6 L515.1 158.6 L516.1 158.6 L517.1 158.6 L518.2 158.5 L519.2 158.5 L520 158.3 L522.4 158.3 L524.9 158.3 L527.3 158.3 L529.8 158.3 L532.2 158.3 L534.7 158.3 L537.1 158.3 L539.6 158.3 L542 158.3 L544.5 158.2 L546.9 158.1 L549.4 158 L551.8 157.9 L554.3 157.8 L556.7 157.7 L559.2 157.5 L561.6 157.4 L564.1 157.3 L566.5 157.2 L569 157 L571.4 156.9 L573.9 156.8 L576.3 156.6 L578.8 156.5 L581.2 156.3 L583.7 156.2 L586.1 156 L588.6 155.8 L591 155.7 L593.5 155.5 L595.9 155.3 L598.4 155.1 L600.8 154.9 L603.3 154.7 L605.7 154.4 L608.2 154.1 L610.6 153.7 L613.1 153.3 L615.5 152.9 L618 152.4 L620.4 151.9 L622.9 151.4 L625.3 150.7 L627.8 149.9 L630.2 148.8 L632.7 147.2 L635.1 145.1 L637.6 142.5 L640 139 L640.5 138.2 L640.9 137.5 L641.2 136.8 L641.6 136.2 L642 135.5 L642.3 134.8 L642.7 134 L643.1 133.3 L643.4 132.5 L643.8 131.8 L644.2 131 L644.5 130.2 L644.9 129.3 L645.3 128.4 L645.6 127.5 L646 126.5 L646.4 125.5 L646.7 124.5 L647.1 123.5 L647.5 122.4 L647.8 121.3 L648.2 120.3 L648.6 119.2 L648.9 118.1 L649.3 117 L649.7 115.9 L650 114.7 L650.4 113.5 L650.8 112.2 L651.1 110.8 L651.5 109.4 L651.8 107.8 L652.2 106.2 L652.6 104.5 L652.9 102.6 L653.3 100.4 L653.7 98 L654 95.2 L654.4 92.3 L654.8 89.2 L655.1 85.9 L655.5 82.6 L655.9 79 L656.2 75 L656.6 70.8 L657 66.6 L657.3 62.6 L657.7 59 L658.1 55.5 L658.4 52.1 L658.8 48.7 L659.2 45.4 L659.5 42 L659.9 38.6 L660.3 35.2 L660.6 31.8 L661 28.4 L661.4 25 L661.7 21.6 L662.1 18.2" fill="none" stroke="#bd240c" stroke-width="1.35" stroke-opacity="1" stroke-linejoin="round" stroke-linecap="round"/>
</g>
<rect x="391.4" y="13" width="273" height="203" fill="none" stroke="#2e2e2e" stroke-width="1.2"/>
<line x1="394" y1="216" x2="394" y2="218.6" stroke="#1a1a1a" stroke-width="1.1"/>
<text x="393.2" y="229.8" font-size="13" text-anchor="middle">-1.0</text>
<line x1="461" y1="216" x2="461" y2="218.6" stroke="#1a1a1a" stroke-width="1.1"/>
<text x="460.2" y="229.8" font-size="13" text-anchor="middle">-0.5</text>
<line x1="528" y1="216" x2="528" y2="218.6" stroke="#1a1a1a" stroke-width="1.1"/>
<text x="527.2" y="229.8" font-size="13" text-anchor="middle">0.0</text>
<line x1="595" y1="216" x2="595" y2="218.6" stroke="#1a1a1a" stroke-width="1.1"/>
<text x="594.2" y="229.8" font-size="13" text-anchor="middle">0.5</text>
<line x1="662" y1="216" x2="662" y2="218.6" stroke="#1a1a1a" stroke-width="1.1"/>
<text x="661.2" y="229.8" font-size="13" text-anchor="middle">1.0</text>
<line x1="389" y1="26.3" x2="391.4" y2="26.3" stroke="#1a1a1a" stroke-width="1.1"/>
<text x="385.1" y="31" font-size="13" text-anchor="end">50</text>
<line x1="389" y1="158.4" x2="391.4" y2="158.4" stroke="#1a1a1a" stroke-width="1.1"/>
<text x="385.1" y="163.1" font-size="13" text-anchor="end">0</text>
<line x1="389" y1="211.4" x2="391.4" y2="211.4" stroke="#1a1a1a" stroke-width="1.1"/>
<text x="385.1" y="216.1" font-size="13" text-anchor="end">-20</text>
<text x="529.5" y="246.8" font-size="14.4" text-anchor="middle">Voltage (V)</text>
<text transform="translate(360.5 114) rotate(-90)" font-size="14.4" text-anchor="middle">Current (pA)</text>
<text x="343" y="29" font-size="20" font-weight="bold">b</text>
<line x1="429.8" y1="114.8" x2="429.8" y2="151.8" stroke="#000" stroke-width="1.8"/>
<path d="M426.7 150.8 L432.9 150.8 L429.8 157.3 Z" fill="#000"/>
<line x1="627.5" y1="106.3" x2="627.5" y2="144" stroke="#000" stroke-width="1.8"/>
<path d="M624.4 143 L630.6 143 L627.5 149.5 Z" fill="#000"/>
<text x="429.8" y="113.8" font-size="14.4" text-anchor="middle">VB</text>
<text x="627.5" y="105.2" font-size="14.4" text-anchor="middle">CB</text>
<g clip-path="url(#cc)">
<path d="M903.1 190.6 L904.3 190.6 L905.6 190.6 L906.8 190.5 L908 190.5 L909.2 190.5 L910.5 190.4 L911.7 190.4 L912.9 190.3 L914.1 190.2 L915.4 190.2 L916.6 190.1 L917.8 190 L919 189.9 L920.2 189.8 L921.5 189.7 L922.7 189.6 L923.9 189.5 L925.1 189.3 L926.4 189.1 L927.6 188.9 L928.8 188.7 L930 188.5 L931.2 188.2 L932.5 188 L933.7 187.6 L934.9 187.3 L936.1 186.9 L937.4 186.4 L938.6 186 L939.8 185.4 L941 184.8 L942.3 184.2 L943.5 183.4 L944.7 182.6 L945.9 181.7 L947.1 180.7 L948.4 179.6 L949.6 178.4 L950.8 177 L952 175.5 L953.3 173.8 L954.5 171.9 L955.7 169.9 L956.9 167.6 L958.2 165 L959.4 162.2 L960.6 159 L961.8 155.5 L963 151.6 L964.3 147.3 L965.5 142.6 L966.7 137.3 L967.9 131.4 L969.2 124.9 L970.4 117.6 L971.6 109.6 L972.8 100.7 L974 90.8 L975.3 79.8 L976.5 67.6 L977.7 54.1 L978.9 39.1 L980.2 22.4 L981.4 4 L982.6 -16.6 L983.8 -39.3 L985.1 -40 L986.3 -40 L987.5 -40" fill="none" stroke="#d3ebe6" stroke-width="1.8" stroke-opacity="0.6" stroke-linejoin="round" stroke-linecap="round"/>
<path d="M719.7 152.3 L720.9 155.8 L722.1 156.2 L723.4 156.6 L724.6 157.8 L725.8 157.1 L727 159 L728.3 159.7 L729.5 159.3 L730.7 161.2 L731.9 160.9 L733.2 162.8 L734.4 163.7 L735.6 164.9 L736.8 162.5 L738 165 L739.3 165.2 L740.5 166.1 L741.7 166.6 L742.9 167.3 L744.2 166.5 L745.4 169.3 L746.6 170.3 L747.8 170.4 L749 171.2 L750.3 170.3 L751.5 170.8 L752.7 172.6 L753.9 173.4 L755.2 173.2 L756.4 172.5 L757.6 175.7 L758.8 174 L760.1 175.5 L761.3 174.6 L762.5 176.3 L763.7 176.3 L764.9 177.4 L766.2 177.5 L767.4 176.5 L768.6 177.2 L769.8 178.2 L771.1 178.8 L772.3 179.7 L773.5 179.1 L774.7 179.2 L776 179.5 L777.2 179.8 L778.4 180.5 L779.6 180.2 L780.8 180.4 L782.1 179.8 L783.3 179.7 L784.5 180.9 L785.7 181.3 L787 181.1 L788.2 181.5 L789.4 181.7 L790.6 181.4 L791.8 182 L793.1 181.3 L794.3 181.7 L795.5 181.6 L796.7 181.9 L798 182.2 L799.2 182.4 L800.4 182.1 L801.6 182.3 L802.9 181.9 L804.1 182.1 L805.3 182.8 L806.5 182.1 L807.7 182.8 L809 182.4 L810.2 182.2 L811.4 183.1 L812.6 182 L813.9 182 L815.1 182.2 L816.3 182.3 L817.5 182.3 L818.7 182.6 L820 182.2 L821.2 182.4 L822.4 182 L823.6 182.7 L824.9 182 L826.1 182 L827.3 182.2 L828.5 182.3 L829.8 181.8 L831 182.9 L832.2 181.9 L833.4 182 L834.6 182 L835.9 181.9 L837.1 182.4 L838.3 182.2 L839.5 181.8 L840.8 181.9 L842 182 L843.2 182.9 L844.4 181.8 L845.7 181.5 L846.9 181.6 L848.1 182 L849.3 182.9 L850.5 181.6 L851.8 182.2 L853 183.4 L854.2 181.9 L855.4 182.8 L856.7 182.7 L857.9 182.4 L859.1 181.5 L860.3 182.3 L861.5 182 L862.8 181.2 L864 181.3 L865.2 182.1 L866.4 182.2 L867.7 182.7 L868.9 182.4 L870.1 181.9 L871.3 181.9 L872.6 182 L873.8 181.6 L875 182.5 L876.2 182.1 L877.4 181.7 L878.7 181.8 L879.9 181.5 L881.1 181.9 L882.3 182.2 L883.6 181.9 L884.8 182.6 L886 182.9 L887.2 181.8 L888.5 182.1 L889.7 181.9 L890.9 182.9 L892.1 182.2 L893.3 182.3 L894.6 182.5 L895.8 183.2 L897 182.2 L898.2 181.6 L899.5 181.8 L900.7 182.3 L901.9 182 L903.1 181.6 L904.3 183.3 L905.6 182 L906.8 181.6 L908 181.6 L909.2 181 L910.5 181.3 L911.7 181.7 L912.9 181.6 L914.1 181.4 L915.4 182 L916.6 181.7 L917.8 181.2 L919 180.6 L920.2 181.6 L921.5 181.5 L922.7 181.3 L923.9 180.7 L925.1 181.3 L926.4 180.4 L927.6 181.6 L928.8 181 L930 180.9 L931.2 180.3 L932.5 180 L933.7 181.1 L934.9 180.6 L936.1 179.8 L937.4 180.1 L938.6 180.3 L939.8 178.6 L941 178.6 L942.3 178.2 L943.5 178.4 L944.7 177.1 L945.9 177.3 L947.1 176 L948.4 176.5 L949.6 175.8 L950.8 174.5 L952 174.2 L953.3 172.5 L954.5 171.7 L955.7 171.3 L956.9 169.4 L958.2 168.3 L959.4 166 L960.6 165.2 L961.8 163.2 L963 160 L964.3 156.9 L965.5 154.4 L966.7 152.8 L967.9 149.4 L969.2 144.8 L970.4 142.1 L971.6 138.3 L972.8 132.4 L974 126.5 L975.3 121.6 L976.5 115.6 L977.7 107.9 L978.9 96.9 L980.2 89.2 L981.4 77.9 L982.6 65.6 L983.8 51.9 L985.1 39.1 L986.3 21.4 L987.5 7.9 L987.5 83.5 L986.3 101.9 L985.1 111.7 L983.8 117.3 L982.6 120.8 L981.4 130.1 L980.2 134.4 L978.9 142.7 L977.7 146.6 L976.5 150.4 L975.3 156.7 L974 159.6 L972.8 162 L971.6 166 L970.4 169.1 L969.2 171.4 L967.9 174.1 L966.7 175.7 L965.5 178.4 L964.3 180 L963 181.3 L961.8 182.3 L960.6 185.1 L959.4 185.5 L958.2 186.7 L956.9 187.9 L955.7 189.5 L954.5 189.8 L953.3 189.6 L952 191.2 L950.8 191.6 L949.6 192.7 L948.4 192.7 L947.1 193.1 L945.9 193.4 L944.7 193.2 L943.5 194.1 L942.3 195.2 L941 195.1 L939.8 195.2 L938.6 195.3 L937.4 196 L936.1 197 L934.9 196 L933.7 196 L932.5 196.8 L931.2 196.3 L930 197.2 L928.8 196.9 L927.6 197.5 L926.4 196.6 L925.1 196.5 L923.9 196.8 L922.7 197.4 L921.5 196.8 L920.2 197.2 L919 197.6 L917.8 197.7 L916.6 197.2 L915.4 196.7 L914.1 197.4 L912.9 197.6 L911.7 197.4 L910.5 196.9 L909.2 196.7 L908 197.4 L906.8 197.2 L905.6 197.2 L904.3 197.6 L903.1 197.4 L901.9 197.2 L900.7 198 L899.5 197.3 L898.2 197.5 L897 197.3 L895.8 198.8 L894.6 198.1 L893.3 197.7 L892.1 197.4 L890.9 198 L889.7 197.5 L888.5 197.8 L887.2 197.4 L886 197.7 L884.8 197.6 L883.6 197 L882.3 197.2 L881.1 197.8 L879.9 198.5 L878.7 197.2 L877.4 197.8 L876.2 197.6 L875 197.7 L873.8 197.1 L872.6 197.9 L871.3 197.9 L870.1 197.9 L868.9 198.3 L867.7 197.8 L866.4 198 L865.2 197.8 L864 197.9 L862.8 197.7 L861.5 198.1 L860.3 196.9 L859.1 197.5 L857.9 198 L856.7 197.2 L855.4 197.4 L854.2 197.4 L853 197.1 L851.8 197.7 L850.5 198.5 L849.3 197.9 L848.1 197.9 L846.9 197.5 L845.7 197.1 L844.4 197.6 L843.2 196.9 L842 197.4 L840.8 198 L839.5 197.5 L838.3 197.6 L837.1 198.1 L835.9 197.1 L834.6 198.4 L833.4 198 L832.2 198.1 L831 197.5 L829.8 197.5 L828.5 196.9 L827.3 198.4 L826.1 197.5 L824.9 197.8 L823.6 197.5 L822.4 198.4 L821.2 197.8 L820 197.9 L818.7 198.2 L817.5 197.7 L816.3 197.3 L815.1 198.1 L813.9 198 L812.6 197.7 L811.4 197.7 L810.2 198.8 L809 197.6 L807.7 197.3 L806.5 197.7 L805.3 197.6 L804.1 197.8 L802.9 197.6 L801.6 197.7 L800.4 197.7 L799.2 198.3 L798 197.3 L796.7 197.9 L795.5 198.1 L794.3 198.3 L793.1 198.2 L791.8 197.3 L790.6 196.5 L789.4 196.8 L788.2 196.8 L787 196.9 L785.7 196.6 L784.5 196.6 L783.3 196.6 L782.1 195.7 L780.8 196.4 L779.6 195.2 L778.4 196 L777.2 195.6 L776 195.1 L774.7 195.1 L773.5 194.5 L772.3 195.2 L771.1 195.9 L769.8 195.3 L768.6 194.7 L767.4 194.9 L766.2 193.1 L764.9 193.8 L763.7 193.4 L762.5 193.3 L761.3 192.9 L760.1 193.1 L758.8 191.9 L757.6 192.3 L756.4 192.5 L755.2 192.1 L753.9 191.5 L752.7 191.5 L751.5 189.9 L750.3 190.9 L749 190.5 L747.8 190.8 L746.6 190.5 L745.4 189 L744.2 189.2 L742.9 188.7 L741.7 188.7 L740.5 187.5 L739.3 187.2 L738 187.9 L736.8 186.8 L735.6 186 L734.4 186.1 L733.2 186.4 L731.9 184.5 L730.7 183.7 L729.5 182.9 L728.3 183.6 L727 182.6 L725.8 182.1 L724.6 181.4 L723.4 181.2 L722.1 181.3 L720.9 179.6 L719.7 179.4Z" fill="#dce9e4" fill-opacity="0.75" filter="url(#b2)"/>
<path d="M719.7 159 L720.9 160.5 L722.1 161.3 L723.4 160.5 L724.6 164.2 L725.8 162.6 L727 164.4 L728.3 163.7 L729.5 165.6 L730.7 167 L731.9 166.9 L733.2 167.1 L734.4 168.4 L735.6 168.7 L736.8 170.1 L738 172 L739.3 170.2 L740.5 171 L741.7 172 L742.9 172.6 L744.2 172.5 L745.4 174.1 L746.6 174.9 L747.8 175 L749 174.6 L750.3 176.8 L751.5 175.7 L752.7 177.3 L753.9 178.1 L755.2 177.1 L756.4 178.3 L757.6 179.5 L758.8 179.4 L760.1 179.1 L761.3 179.3 L762.5 180.6 L763.7 180.5 L764.9 180.7 L766.2 181.8 L767.4 181.6 L768.6 182.1 L769.8 182.7 L771.1 183 L772.3 183 L773.5 183.3 L774.7 183.8 L776 184 L777.2 183.6 L778.4 184.2 L779.6 184.1 L780.8 184.1 L782.1 184.5 L783.3 183.9 L784.5 185.4 L785.7 184.8 L787 185.4 L788.2 184.6 L789.4 184.8 L790.6 186.4 L791.8 186.1 L793.1 185.5 L794.3 185.5 L795.5 185.6 L796.7 186 L798 185.8 L799.2 185.8 L800.4 186.1 L801.6 185.7 L802.9 187.1 L804.1 185.9 L805.3 186.6 L806.5 185.8 L807.7 186.3 L809 186.6 L810.2 186 L811.4 186.6 L812.6 186.6 L813.9 186.8 L815.1 186.2 L816.3 186 L817.5 185.7 L818.7 186.2 L820 185.7 L821.2 186.2 L822.4 186.2 L823.6 185.9 L824.9 185.7 L826.1 186.3 L827.3 186.3 L828.5 186.2 L829.8 186.1 L831 186.6 L832.2 185.7 L833.4 186.3 L834.6 186 L835.9 186.5 L837.1 186 L838.3 186 L839.5 186.3 L840.8 185.3 L842 186 L843.2 185.4 L844.4 185.8 L845.7 186.5 L846.9 186.3 L848.1 186 L849.3 186.1 L850.5 186.1 L851.8 186.3 L853 186.9 L854.2 186.3 L855.4 187.1 L856.7 186 L857.9 186.5 L859.1 186.5 L860.3 186.3 L861.5 186 L862.8 186.8 L864 186.9 L865.2 186.6 L866.4 187 L867.7 186.6 L868.9 185.5 L870.1 186.6 L871.3 185.9 L872.6 186.7 L873.8 186 L875 186.3 L876.2 186.2 L877.4 185.9 L878.7 185.4 L879.9 186.1 L881.1 186.1 L882.3 186.6 L883.6 185.9 L884.8 186.2 L886 185.8 L887.2 186.2 L888.5 185.4 L889.7 187 L890.9 186.3 L892.1 185.7 L893.3 186.3 L894.6 186.5 L895.8 186.2 L897 186.7 L898.2 186 L899.5 185 L900.7 185.6 L901.9 186.5 L903.1 186.4 L904.3 186.2 L905.6 185.6 L906.8 186.4 L908 186.3 L909.2 185.6 L910.5 185.6 L911.7 186.1 L912.9 186.4 L914.1 186.5 L915.4 186.1 L916.6 186.8 L917.8 185.4 L919 186 L920.2 185.5 L921.5 184.8 L922.7 185.1 L923.9 186 L925.1 185.1 L926.4 184.8 L927.6 185.6 L928.8 185.6 L930 185.1 L931.2 185.6 L932.5 184.2 L933.7 185.7 L934.9 184.9 L936.1 184.4 L937.4 184.2 L938.6 183.8 L939.8 183.5 L941 183.4 L942.3 182.5 L943.5 183.5 L944.7 182.2 L945.9 182.1 L947.1 181.3 L948.4 180.7 L949.6 180.6 L950.8 179.8 L952 178.5 L953.3 177.9 L954.5 177.4 L955.7 175.2 L956.9 174 L958.2 174.4 L959.4 172.3 L960.6 169.8 L961.8 168.8 L963 167.2 L964.3 165.3 L965.5 163.1 L966.7 160.4 L967.9 157.7 L969.2 153.9 L970.4 150.8 L971.6 146.9 L972.8 142.9 L974 137.4 L975.3 132.4 L976.5 126 L977.7 118.5 L978.9 111.3 L980.2 102.9 L981.4 93.7 L982.6 83.6 L983.8 72.2 L985.1 59.7 L986.3 44.4 L987.5 31.1 L987.5 76.7 L986.3 91.9 L985.1 105.8 L983.8 114.4 L982.6 123.3 L981.4 128.5 L980.2 133.6 L978.9 137.1 L977.7 147.5 L976.5 147.8 L975.3 154.7 L974 159.5 L972.8 162 L971.6 167.5 L970.4 168 L969.2 167.9 L967.9 171.7 L966.7 174.1 L965.5 177.5 L964.3 178.9 L963 178.3 L961.8 181 L960.6 182.4 L959.4 184.4 L958.2 184.7 L956.9 185.1 L955.7 184.9 L954.5 187.5 L953.3 188.5 L952 188.5 L950.8 190.1 L949.6 189.2 L948.4 191.1 L947.1 191.1 L945.9 192 L944.7 192.1 L943.5 191.8 L942.3 192.8 L941 192.1 L939.8 194.1 L938.6 193.5 L937.4 193.4 L936.1 194 L934.9 194.1 L933.7 194.1 L932.5 194.3 L931.2 195.1 L930 195.6 L928.8 195.1 L927.6 195.5 L926.4 194.5 L925.1 195.9 L923.9 194.3 L922.7 194.5 L921.5 194.4 L920.2 195.4 L919 196.1 L917.8 195.9 L916.6 195.6 L915.4 196.2 L914.1 195.8 L912.9 195.8 L911.7 195.2 L910.5 195.2 L909.2 195.8 L908 196.3 L906.8 196.1 L905.6 196 L904.3 195.6 L903.1 195.6 L901.9 196.4 L900.7 195.3 L899.5 197.2 L898.2 195.6 L897 195.9 L895.8 195.4 L894.6 196.1 L893.3 195.8 L892.1 195.2 L890.9 195.5 L889.7 196.2 L888.5 195.4 L887.2 196 L886 195.9 L884.8 195.1 L883.6 195.5 L882.3 196.8 L881.1 195.1 L879.9 195.5 L878.7 196.4 L877.4 195.9 L876.2 195.2 L875 195.5 L873.8 195.4 L872.6 194.5 L871.3 195.9 L870.1 196.3 L868.9 196.3 L867.7 195.9 L866.4 196.1 L865.2 196.5 L864 195.3 L862.8 195.6 L861.5 196.2 L860.3 195.6 L859.1 195.9 L857.9 195.7 L856.7 195 L855.4 196.1 L854.2 196.5 L853 196.4 L851.8 196.4 L850.5 196.4 L849.3 196.1 L848.1 195.9 L846.9 195.6 L845.7 195.4 L844.4 195.6 L843.2 196.4 L842 196.1 L840.8 195 L839.5 195.9 L838.3 196.5 L837.1 195.1 L835.9 195 L834.6 195.3 L833.4 195 L832.2 195.8 L831 196.7 L829.8 196.1 L828.5 195.6 L827.3 196 L826.1 195.3 L824.9 195.7 L823.6 195.7 L822.4 196.3 L821.2 196.2 L820 195.8 L818.7 195.3 L817.5 194.8 L816.3 195.6 L815.1 195.5 L813.9 195.9 L812.6 195 L811.4 196.2 L810.2 195.7 L809 195.7 L807.7 196.5 L806.5 196.4 L805.3 196.4 L804.1 196.2 L802.9 195.5 L801.6 196.2 L800.4 196 L799.2 195.8 L798 195.3 L796.7 195.1 L795.5 195.4 L794.3 194.4 L793.1 195.3 L791.8 195.3 L790.6 195.2 L789.4 194.7 L788.2 194.8 L787 195 L785.7 194.6 L784.5 193.5 L783.3 195.4 L782.1 193.8 L780.8 193.3 L779.6 193.9 L778.4 193.6 L777.2 194.1 L776 193.7 L774.7 193.3 L773.5 192.8 L772.3 193.2 L771.1 193.3 L769.8 192.3 L768.6 191.7 L767.4 191.9 L766.2 191.9 L764.9 192.5 L763.7 192 L762.5 191.4 L761.3 191.1 L760.1 190.5 L758.8 192.1 L757.6 190.5 L756.4 190.1 L755.2 189.3 L753.9 189.6 L752.7 188.6 L751.5 188.5 L750.3 189 L749 188.5 L747.8 188 L746.6 188.4 L745.4 188.7 L744.2 187.5 L742.9 186.5 L741.7 186.3 L740.5 186.8 L739.3 184.8 L738 184 L736.8 184.9 L735.6 184.7 L734.4 183.6 L733.2 181.8 L731.9 182.2 L730.7 180.7 L729.5 181.2 L728.3 182 L727 180.3 L725.8 180.4 L724.6 179.3 L723.4 178.9 L722.1 178.2 L720.9 178.2 L719.7 178.6Z" fill="#88a798" fill-opacity="0.85" filter="url(#b1)"/>
<path d="M719.7 162.5 L720.9 163.9 L722.1 165.2 L723.4 165.8 L724.6 165.8 L725.8 167.7 L727 167.9 L728.3 168.8 L729.5 167.9 L730.7 168.4 L731.9 167.7 L733.2 171.1 L734.4 171.1 L735.6 170.5 L736.8 171.9 L738 172.6 L739.3 171.7 L740.5 173.7 L741.7 174.8 L742.9 175.4 L744.2 174.9 L745.4 175.4 L746.6 177 L747.8 177.2 L749 176.8 L750.3 177.2 L751.5 178.4 L752.7 178.1 L753.9 178.6 L755.2 180.3 L756.4 179.9 L757.6 180 L758.8 180.9 L760.1 182 L761.3 181.5 L762.5 181.3 L763.7 181.3 L764.9 183.4 L766.2 181.5 L767.4 183.5 L768.6 182.9 L769.8 183.1 L771.1 183.5 L772.3 184.1 L773.5 184.9 L774.7 184.4 L776 185.2 L777.2 186.1 L778.4 184.2 L779.6 185.3 L780.8 185 L782.1 186.2 L783.3 185.4 L784.5 185.5 L785.7 185.6 L787 186.4 L788.2 186.9 L789.4 186.6 L790.6 187.5 L791.8 187.4 L793.1 186.8 L794.3 187.3 L795.5 187 L796.7 187.1 L798 186.3 L799.2 186.6 L800.4 187.2 L801.6 186.7 L802.9 187.5 L804.1 187.4 L805.3 186.9 L806.5 187.7 L807.7 187.4 L809 187.8 L810.2 187.2 L811.4 186.6 L812.6 187.5 L813.9 187.2 L815.1 187.6 L816.3 187.7 L817.5 187.7 L818.7 186.7 L820 186.3 L821.2 187.1 L822.4 187.5 L823.6 187 L824.9 187.4 L826.1 186.9 L827.3 187.1 L828.5 187.1 L829.8 187 L831 187.5 L832.2 187.4 L833.4 187.9 L834.6 187.4 L835.9 187.8 L837.1 187.3 L838.3 187.6 L839.5 187.2 L840.8 187.1 L842 187.8 L843.2 187.6 L844.4 187.6 L845.7 187 L846.9 186.6 L848.1 186.9 L849.3 187.4 L850.5 186.7 L851.8 187.8 L853 186.7 L854.2 187.5 L855.4 188.3 L856.7 186.2 L857.9 186.6 L859.1 187.6 L860.3 187.2 L861.5 187.3 L862.8 187.2 L864 187.8 L865.2 187.5 L866.4 187.1 L867.7 187.2 L868.9 186.8 L870.1 187.2 L871.3 186.3 L872.6 187.5 L873.8 187.1 L875 188 L876.2 187.7 L877.4 186.7 L878.7 187.6 L879.9 187 L881.1 187.2 L882.3 187.6 L883.6 187.4 L884.8 187.4 L886 187.4 L887.2 186.9 L888.5 187 L889.7 187.4 L890.9 187.6 L892.1 187.1 L893.3 187.2 L894.6 186.8 L895.8 186.2 L897 186.8 L898.2 187.2 L899.5 187.2 L900.7 187.5 L901.9 187.5 L903.1 187.5 L904.3 187.3 L905.6 187.3 L906.8 186.8 L908 187.2 L909.2 187.1 L910.5 187.5 L911.7 186.4 L912.9 186.8 L914.1 186.3 L915.4 186.6 L916.6 186.3 L917.8 186.9 L919 186.5 L920.2 185.7 L921.5 187.2 L922.7 186.2 L923.9 185.9 L925.1 186.3 L926.4 186.1 L927.6 185.8 L928.8 186.5 L930 186 L931.2 186.3 L932.5 186.1 L933.7 186 L934.9 185.6 L936.1 185.3 L937.4 185 L938.6 185.5 L939.8 183.9 L941 183.9 L942.3 183.8 L943.5 183.8 L944.7 183.4 L945.9 182.7 L947.1 182.2 L948.4 182.5 L949.6 181 L950.8 179.5 L952 180.6 L953.3 178.7 L954.5 178 L955.7 177.2 L956.9 175.5 L958.2 175.3 L959.4 173.4 L960.6 171.4 L961.8 170.4 L963 168.6 L964.3 166.3 L965.5 164.2 L966.7 160.8 L967.9 159 L969.2 155 L970.4 152.4 L971.6 147.6 L972.8 143.6 L974 140 L975.3 133.3 L976.5 127.9 L977.7 120.9 L978.9 112.3 L980.2 105.7 L981.4 96.5 L982.6 84.5 L983.8 74.2 L985.1 60.4 L986.3 47.4 L987.5 33.5 L987.5 73.5 L986.3 93.1 L985.1 100.7 L983.8 111.1 L982.6 117.6 L981.4 119.6 L980.2 132.2 L978.9 139.1 L977.7 142.2 L976.5 147.4 L975.3 150.1 L974 154.8 L972.8 157.5 L971.6 162.5 L970.4 166.5 L969.2 167.1 L967.9 169.9 L966.7 173.9 L965.5 175 L964.3 175.5 L963 178.6 L961.8 181.1 L960.6 181.7 L959.4 182 L958.2 183.6 L956.9 186.1 L955.7 185.2 L954.5 187.1 L953.3 186.4 L952 187.2 L950.8 188.6 L949.6 188.8 L948.4 190.5 L947.1 190.8 L945.9 191.4 L944.7 191.8 L943.5 190.6 L942.3 191.5 L941 193.1 L939.8 193.1 L938.6 192.1 L937.4 192.8 L936.1 192.7 L934.9 192.8 L933.7 194.7 L932.5 193.3 L931.2 193.2 L930 194.3 L928.8 193.8 L927.6 194.4 L926.4 193.2 L925.1 194.7 L923.9 193.9 L922.7 194.7 L921.5 193.1 L920.2 194.5 L919 194.1 L917.8 194.9 L916.6 194.6 L915.4 193.5 L914.1 194.8 L912.9 194.9 L911.7 195.1 L910.5 194.1 L909.2 195.2 L908 194.6 L906.8 194.3 L905.6 194.9 L904.3 194.9 L903.1 195.6 L901.9 194.8 L900.7 195.6 L899.5 195.6 L898.2 195 L897 195.5 L895.8 195.1 L894.6 195.5 L893.3 195.1 L892.1 194.5 L890.9 194.7 L889.7 195.6 L888.5 193.8 L887.2 195.2 L886 194.4 L884.8 194.5 L883.6 194.4 L882.3 195.3 L881.1 195.3 L879.9 195 L878.7 194.4 L877.4 194.2 L876.2 194.3 L875 194.7 L873.8 194.6 L872.6 194.2 L871.3 195.2 L870.1 193.8 L868.9 195 L867.7 194.7 L866.4 194.8 L865.2 194.7 L864 194.3 L862.8 194 L861.5 194.2 L860.3 195.4 L859.1 194.7 L857.9 195.4 L856.7 195.8 L855.4 194.4 L854.2 195.6 L853 194.9 L851.8 194.5 L850.5 194.7 L849.3 194.8 L848.1 195.1 L846.9 195.1 L845.7 194.5 L844.4 194.3 L843.2 195.2 L842 194.8 L840.8 194.8 L839.5 194.7 L838.3 194.8 L837.1 195.4 L835.9 193.8 L834.6 194.8 L833.4 194.9 L832.2 194.9 L831 194.2 L829.8 195.3 L828.5 195.1 L827.3 195.8 L826.1 195.1 L824.9 196.1 L823.6 195.1 L822.4 195.3 L821.2 194.9 L820 194.7 L818.7 194.7 L817.5 194.8 L816.3 196.1 L815.1 194.7 L813.9 194.5 L812.6 194.4 L811.4 195.1 L810.2 194.7 L809 195.6 L807.7 194.9 L806.5 194.5 L805.3 195.4 L804.1 195.1 L802.9 194.4 L801.6 194.9 L800.4 194.5 L799.2 195 L798 195.7 L796.7 194.8 L795.5 194.3 L794.3 194.9 L793.1 194.6 L791.8 194 L790.6 194.6 L789.4 193.8 L788.2 193.7 L787 193.5 L785.7 193.4 L784.5 193.4 L783.3 192.5 L782.1 194.2 L780.8 193.6 L779.6 193.1 L778.4 192.9 L777.2 193.6 L776 192.6 L774.7 192.3 L773.5 193.3 L772.3 192.2 L771.1 191.4 L769.8 192.3 L768.6 191.1 L767.4 191.6 L766.2 191.3 L764.9 190.9 L763.7 189.9 L762.5 190.3 L761.3 190.2 L760.1 190 L758.8 188.6 L757.6 189.4 L756.4 189.3 L755.2 188.4 L753.9 188.9 L752.7 188.8 L751.5 187.8 L750.3 188.1 L749 188.7 L747.8 187 L746.6 187.1 L745.4 187.1 L744.2 186.1 L742.9 185.2 L741.7 185.7 L740.5 183.8 L739.3 183.2 L738 183.9 L736.8 183 L735.6 182.9 L734.4 183 L733.2 182.6 L731.9 181.3 L730.7 180.4 L729.5 180.7 L728.3 181.6 L727 179.3 L725.8 179.2 L724.6 178.8 L723.4 178.2 L722.1 178.4 L720.9 178 L719.7 176.5Z" fill="#789888" fill-opacity="0.65" filter="url(#b1)"/>
<path d="M719.7 170.6 L720.9 171.2 L722.1 171.8 L723.4 172.3 L724.6 172.9 L725.8 173.4 L727 174 L728.3 174.5 L729.5 175 L730.7 175.5 L731.9 176 L733.2 176.5 L734.4 177 L735.6 177.5 L736.8 177.9 L738 178.4 L739.3 178.8 L740.5 179.3 L741.7 179.7 L742.9 180.1 L744.2 180.5 L745.4 180.9 L746.6 181.3 L747.8 181.7 L749 182.1 L750.3 182.5 L751.5 182.8 L752.7 183.2 L753.9 183.5 L755.2 183.9 L756.4 184.2 L757.6 184.5 L758.8 184.8 L760.1 185.1 L761.3 185.4 L762.5 185.7 L763.7 186 L764.9 186.2 L766.2 186.5 L767.4 186.7 L768.6 187 L769.8 187.2 L771.1 187.4 L772.3 187.6 L773.5 187.8 L774.7 188 L776 188.2 L777.2 188.4 L778.4 188.6 L779.6 188.8 L780.8 188.9 L782.1 189.1 L783.3 189.2 L784.5 189.3 L785.7 189.5 L787 189.6 L788.2 189.7 L789.4 189.8 L790.6 189.9 L791.8 190 L793.1 190.1 L794.3 190.1 L795.5 190.2 L796.7 190.3 L798 190.3 L799.2 190.4 L800.4 190.4 L801.6 190.4 L802.9 190.4 L804.1 190.5 L805.3 190.5 L806.5 190.5 L807.7 190.5 L809 190.5 L810.2 190.5 L811.4 190.5 L812.6 190.5 L813.9 190.5 L815.1 190.5 L816.3 190.5 L817.5 190.5 L818.7 190.5 L820 190.5 L821.2 190.5 L822.4 190.5 L823.6 190.5 L824.9 190.5 L826.1 190.5 L827.3 190.5 L828.5 190.5 L829.8 190.5 L831 190.5 L832.2 190.5 L833.4 190.5 L834.6 190.5 L835.9 190.5 L837.1 190.5 L838.3 190.5 L839.5 190.5 L840.8 190.5 L842 190.5 L843.2 190.5 L844.4 190.5 L845.7 190.5 L846.9 190.5 L848.1 190.5 L849.3 190.5 L850.5 190.5 L851.8 190.5 L853 190.5 L854.2 190.5 L855.4 190.5 L856.7 190.5 L857.9 190.5 L859.1 190.5 L860.3 190.5 L861.5 190.5 L862.8 190.5 L864 190.5 L865.2 190.5 L866.4 190.5 L867.7 190.5 L868.9 190.5 L870.1 190.5 L871.3 190.5 L872.6 190.5 L873.8 190.5 L875 190.5 L876.2 190.5 L877.4 190.5 L878.7 190.5 L879.9 190.5 L881.1 190.5 L882.3 190.4 L883.6 190.4 L884.8 190.4 L886 190.4 L887.2 190.4 L888.5 190.4 L889.7 190.4 L890.9 190.4 L892.1 190.4 L893.3 190.4 L894.6 190.4 L895.8 190.4 L897 190.4 L898.2 190.4 L899.5 190.4 L900.7 190.4 L901.9 190.4 L903.1 190.4 L904.3 190.3 L905.6 190.3 L906.8 190.3 L908 190.3 L909.2 190.3 L910.5 190.3 L911.7 190.2 L912.9 190.2 L914.1 190.2 L915.4 190.1 L916.6 190.1 L917.8 190.1 L919 190 L920.2 190 L921.5 189.9 L922.7 189.9 L923.9 189.8 L925.1 189.7 L926.4 189.6 L927.6 189.6 L928.8 189.5 L930 189.3 L931.2 189.2 L932.5 189.1 L933.7 188.9 L934.9 188.8 L936.1 188.6 L937.4 188.4 L938.6 188.1 L939.8 187.9 L941 187.6 L942.3 187.3 L943.5 186.9 L944.7 186.5 L945.9 186.1 L947.1 185.6 L948.4 185.1 L949.6 184.5 L950.8 183.9 L952 183.1 L953.3 182.3 L954.5 181.5 L955.7 180.5 L956.9 179.4 L958.2 178.1 L959.4 176.8 L960.6 175.3 L961.8 173.6 L963 171.8 L964.3 169.7 L965.5 167.5 L966.7 164.9 L967.9 162.1 L969.2 159 L970.4 155.6 L971.6 151.7 L972.8 147.5 L974 142.8 L975.3 137.5 L976.5 131.7 L977.7 125.3 L978.9 118.1 L980.2 110.2 L981.4 101.4 L982.6 91.6 L983.8 80.8 L985.1 68.7 L986.3 55.4 L987.5 40.5" fill="none" stroke="#1c1cd0" stroke-width="1.25" stroke-opacity="1" stroke-linejoin="round" stroke-linecap="round"/>
</g>
<rect x="716.3" y="12" width="273.3" height="204.8" fill="none" stroke="#2e2e2e" stroke-width="1.2"/>
<line x1="719.7" y1="216.8" x2="719.7" y2="219.4" stroke="#1a1a1a" stroke-width="1.1"/>
<text x="719.7" y="230" font-size="13" text-anchor="middle">-1.0</text>
<line x1="786.6" y1="216.8" x2="786.6" y2="219.4" stroke="#1a1a1a" stroke-width="1.1"/>
<text x="786.6" y="230" font-size="13" text-anchor="middle">-0.5</text>
<line x1="853.6" y1="216.8" x2="853.6" y2="219.4" stroke="#1a1a1a" stroke-width="1.1"/>
<text x="853.6" y="230" font-size="13" text-anchor="middle">0.0</text>
<line x1="920.5" y1="216.8" x2="920.5" y2="219.4" stroke="#1a1a1a" stroke-width="1.1"/>
<text x="920.5" y="230" font-size="13" text-anchor="middle">0.5</text>
<line x1="987.5" y1="216.8" x2="987.5" y2="219.4" stroke="#1a1a1a" stroke-width="1.1"/>
<text x="987.5" y="230" font-size="13" text-anchor="middle">1.0</text>
<line x1="713.9" y1="63.6" x2="716.3" y2="63.6" stroke="#1a1a1a" stroke-width="1.1"/>
<text x="710.9" y="68.3" font-size="13" text-anchor="end">0.5</text>
<line x1="713.9" y1="192.4" x2="716.3" y2="192.4" stroke="#1a1a1a" stroke-width="1.1"/>
<text x="710.9" y="197.1" font-size="13" text-anchor="end">0.0</text>
<text x="856" y="246.5" font-size="14.4" text-anchor="middle">Voltage (V)</text>
<text transform="translate(690 114.7) rotate(-90)" font-size="14.4" text-anchor="middle">dI/dV (nS)</text>
<text x="677.5" y="27.5" font-size="20" font-weight="bold">c</text>
<line x1="754" y1="140.4" x2="754" y2="176.1" stroke="#000" stroke-width="1.8"/>
<path d="M750.9 175.1 L757.1 175.1 L754 181.6 Z" fill="#000"/>
<line x1="952.4" y1="141" x2="952.4" y2="178.1" stroke="#000" stroke-width="1.8"/>
<path d="M949.3 177.1 L955.5 177.1 L952.4 183.6 Z" fill="#000"/>
<text x="754" y="133.3" font-size="14" text-anchor="middle">VB</text>
<text x="952.4" y="134.3" font-size="14" text-anchor="middle">CB</text>
<g clip-path="url(#cd)">
<path d="M53.8 428 L55.1 425.2 L56.4 425.8 L57.8 425.6 L59.1 421.8 L60.5 422.2 L61.8 420.8 L63.2 420.6 L64.5 419.5 L65.9 418.3 L67.2 416.7 L68.6 415.1 L69.9 416 L71.3 412.9 L72.6 413.3 L74 412.2 L75.3 410.1 L76.7 409.6 L78 409.6 L79.4 406.6 L80.7 407.3 L82.1 405.8 L83.4 404.9 L84.8 403.3 L86.1 403.4 L87.5 401.8 L88.8 401.8 L90.2 400 L91.5 400.1 L92.9 399.1 L94.2 397.3 L95.6 397.3 L96.9 396.6 L98.3 395 L99.6 395.1 L101 394.9 L102.3 393.6 L103.7 393.7 L105 392.2 L106.4 391.5 L107.7 391.5 L109.1 390.8 L110.4 389.9 L111.8 389.3 L113.1 388.9 L114.5 387.9 L115.8 387.8 L117.2 386.8 L118.5 386.1 L119.9 385.5 L121.2 384.7 L122.6 384.4 L123.9 383.5 L125.3 383.1 L126.6 382.6 L128 382.2 L129.3 381.6 L130.7 381 L132 380.6 L133.4 380 L134.7 379.5 L136.1 379 L137.4 378.6 L138.8 378.3 L140.1 377.8 L141.5 377.3 L142.8 376.8 L144.2 376.3 L145.5 375.9 L146.9 375.4 L148.2 375.1 L149.6 374.8 L150.9 374.6 L152.3 374.4 L153.6 374.2 L155 374.1 L156.3 374 L157.7 374 L159 373.8 L160.4 373.8 L161.7 373.8 L163.1 373.8 L164.4 373.8 L165.8 373.7 L167.1 373.8 L168.5 373.8 L169.8 373.8 L171.2 373.8 L172.5 373.7 L173.9 373.8 L175.2 373.8 L176.6 373.8 L177.9 373.8 L179.3 373.8 L180.6 373.8 L182 373.8 L183.3 373.8 L184.7 373.8 L186 373.8 L187.4 373.8 L188.7 373.8 L190 373.8 L191.4 373.7 L192.7 373.7 L194.1 373.8 L195.4 373.8 L196.8 373.7 L198.1 373.7 L199.5 373.7 L200.8 373.7 L202.2 373.7 L203.5 373.6 L204.9 373.7 L206.2 373.6 L207.6 373.6 L208.9 373.6 L210.3 373.5 L211.6 373.5 L213 373.5 L214.3 373.4 L215.7 373.3 L217 373.3 L218.4 373.2 L219.7 373 L221.1 372.8 L222.4 372.5 L223.8 372.1 L225.1 371.4 L226.5 370.8 L227.8 370.2 L229.2 369.4 L230.5 368.2 L231.9 367.4 L233.2 366.4 L234.6 365.4 L235.9 364.4 L237.3 363.2 L238.6 362.3 L240 360.8 L241.3 360.3 L242.7 358.8 L244 358 L245.4 356.3 L246.7 355.6 L248.1 354.4 L249.4 353.1 L250.8 351.9 L252.1 351.5 L253.5 350.2 L254.8 349.5 L256.2 348.1 L257.5 347.1 L258.9 346.2 L260.2 345.3 L261.6 344.1 L262.9 343.2 L264.3 341.7 L265.6 340.3 L267 340.4 L268.3 338.6 L269.7 337.6 L271 336.2 L272.4 335.5 L273.7 334.1 L275.1 333.3 L276.4 331.4 L277.8 330.5 L279.1 329.4 L280.5 328 L281.8 327 L283.2 326.3 L284.5 324.3 L285.9 323.2 L287.2 322.1 L288.6 320.4 L289.9 319.1 L291.3 318.7 L292.6 317.3 L294 315.1 L295.3 313.9 L296.7 313.4 L298 312.2 L299.4 310.7 L300.7 309.3 L302.1 308.3 L303.4 306.4 L304.8 305.4 L306.1 303.8 L307.5 301.5 L308.8 300.3 L310.2 298.3 L311.5 296.1 L312.9 294 L314.2 292.1 L315.6 289.5 L316.9 286.8 L318.3 283.2 L319.6 280.3 L321 277.3 L322.3 273.4 L322.3 283.2 L321 287.9 L319.6 291.5 L318.3 295 L316.9 299 L315.6 302.1 L314.2 305.8 L312.9 308.8 L311.5 311.2 L310.2 313.4 L308.8 315.9 L307.5 318.2 L306.1 320.5 L304.8 322.8 L303.4 325.4 L302.1 325.5 L300.7 328.4 L299.4 329.3 L298 331.1 L296.7 331.8 L295.3 333.9 L294 335.9 L292.6 337.4 L291.3 339.9 L289.9 339.2 L288.6 343 L287.2 343.5 L285.9 345 L284.5 346.1 L283.2 348 L281.8 348.5 L280.5 349.7 L279.1 350.8 L277.8 351.8 L276.4 351.7 L275.1 354.4 L273.7 354.6 L272.4 355.3 L271 356.1 L269.7 356.9 L268.3 358.8 L267 359.9 L265.6 360.1 L264.3 360.1 L262.9 362.3 L261.6 361.5 L260.2 363.5 L258.9 363.7 L257.5 364.1 L256.2 364.4 L254.8 365.1 L253.5 365.3 L252.1 367.3 L250.8 367.1 L249.4 366.5 L248.1 367.7 L246.7 367.1 L245.4 369.1 L244 369.7 L242.7 369.7 L241.3 370.4 L240 371.1 L238.6 370.8 L237.3 371.7 L235.9 371.9 L234.6 372.6 L233.2 372.7 L231.9 373.1 L230.5 373.4 L229.2 373.5 L227.8 373.6 L226.5 373.8 L225.1 373.8 L223.8 373.7 L222.4 373.6 L221.1 373.8 L219.7 374 L218.4 374.2 L217 374.3 L215.7 374.3 L214.3 374.4 L213 374.5 L211.6 374.5 L210.3 374.6 L208.9 374.6 L207.6 374.6 L206.2 374.6 L204.9 374.7 L203.5 374.7 L202.2 374.7 L200.8 374.6 L199.5 374.7 L198.1 374.8 L196.8 374.7 L195.4 374.7 L194.1 374.7 L192.7 374.8 L191.4 374.8 L190 374.8 L188.7 374.8 L187.4 374.8 L186 374.8 L184.7 374.8 L183.3 374.8 L182 374.8 L180.6 374.8 L179.3 374.8 L177.9 374.8 L176.6 374.8 L175.2 374.8 L173.9 374.8 L172.5 374.8 L171.2 374.8 L169.8 374.8 L168.5 374.8 L167.1 374.8 L165.8 374.8 L164.4 374.8 L163.1 374.8 L161.7 374.8 L160.4 374.8 L159 374.9 L157.7 375 L156.3 375 L155 375.1 L153.6 375.2 L152.3 375.4 L150.9 375.6 L149.6 375.9 L148.2 376.2 L146.9 376.5 L145.5 376.9 L144.2 377.5 L142.8 378.2 L141.5 378.9 L140.1 379.6 L138.8 380.3 L137.4 381.1 L136.1 381.8 L134.7 382.5 L133.4 383.4 L132 384.1 L130.7 385.1 L129.3 386.1 L128 386.7 L126.6 387.7 L125.3 388.7 L123.9 389.2 L122.6 390.4 L121.2 391.6 L119.9 392.3 L118.5 393.4 L117.2 394.9 L115.8 395.9 L114.5 396.5 L113.1 398 L111.8 399 L110.4 400.1 L109.1 401.1 L107.7 402.6 L106.4 403.5 L105 405 L103.7 405.9 L102.3 406.5 L101 407.4 L99.6 409.1 L98.3 410.6 L96.9 411.9 L95.6 412.3 L94.2 414 L92.9 415.1 L91.5 416.8 L90.2 417.8 L88.8 418.6 L87.5 420.8 L86.1 421.6 L84.8 422.8 L83.4 424.6 L82.1 426 L80.7 428 L79.4 428.7 L78 430.4 L76.7 432.1 L75.3 433.3 L74 434.5 L72.6 435.8 L71.3 438 L69.9 439.1 L68.6 439.9 L67.2 442.6 L65.9 445.7 L64.5 445.8 L63.2 447.4 L61.8 448.1 L60.5 450.5 L59.1 451.8 L57.8 454.7 L56.4 456.7 L55.1 457.5 L53.8 459.4Z" fill="#f1f5b8" fill-opacity="0.6" filter="url(#b2)"/>
<path d="M53.8 433.6 L55.1 433.6 L56.4 432.1 L57.8 431.1 L59.1 427.8 L60.5 427.9 L61.8 426 L63.2 425.4 L64.5 423.7 L65.9 421.5 L67.2 422 L68.6 420.7 L69.9 419.9 L71.3 417.6 L72.6 417.9 L74 416.9 L75.3 416 L76.7 414.9 L78 412.7 L79.4 410.3 L80.7 411.5 L82.1 409.4 L83.4 408.8 L84.8 408.6 L86.1 407.1 L87.5 406.1 L88.8 405.4 L90.2 403.1 L91.5 404.1 L92.9 402.1 L94.2 401.2 L95.6 400.8 L96.9 399.6 L98.3 398.5 L99.6 398 L101 397.2 L102.3 396.3 L103.7 396.5 L105 394.6 L106.4 393.6 L107.7 393.3 L109.1 392.6 L110.4 392.6 L111.8 391.5 L113.1 390.9 L114.5 390.1 L115.8 389 L117.2 388.6 L118.5 387.8 L119.9 387.4 L121.2 386.4 L122.6 385.6 L123.9 385.1 L125.3 384.5 L126.6 383.5 L128 383.3 L129.3 382.7 L130.7 382.1 L132 381.4 L133.4 380.8 L134.7 380.4 L136.1 380 L137.4 379.4 L138.8 378.9 L140.1 378.5 L141.5 377.9 L142.8 377.4 L144.2 376.9 L145.5 376.4 L146.9 376 L148.2 375.6 L149.6 375.4 L150.9 375.1 L152.3 374.9 L153.6 374.7 L155 374.6 L156.3 374.5 L157.7 374.4 L159 374.4 L160.4 374.3 L161.7 374.3 L163.1 374.3 L164.4 374.3 L165.8 374.3 L167.1 374.3 L168.5 374.3 L169.8 374.3 L171.2 374.3 L172.5 374.3 L173.9 374.3 L175.2 374.3 L176.6 374.3 L177.9 374.3 L179.3 374.3 L180.6 374.3 L182 374.3 L183.3 374.3 L184.7 374.3 L186 374.3 L187.4 374.3 L188.7 374.3 L190 374.3 L191.4 374.3 L192.7 374.3 L194.1 374.2 L195.4 374.2 L196.8 374.2 L198.1 374.2 L199.5 374.2 L200.8 374.2 L202.2 374.2 L203.5 374.2 L204.9 374.1 L206.2 374.1 L207.6 374.1 L208.9 374.1 L210.3 374 L211.6 374 L213 374 L214.3 373.9 L215.7 373.9 L217 373.8 L218.4 373.7 L219.7 373.5 L221.1 373.3 L222.4 373 L223.8 372.6 L225.1 372.2 L226.5 371.6 L227.8 371.1 L229.2 370.2 L230.5 369.3 L231.9 368.4 L233.2 367.6 L234.6 366.6 L235.9 365.7 L237.3 364.8 L238.6 363.8 L240 362.8 L241.3 361.4 L242.7 360.6 L244 359.3 L245.4 358.5 L246.7 357.4 L248.1 356.4 L249.4 355.2 L250.8 354 L252.1 353.2 L253.5 352.5 L254.8 351.5 L256.2 349.9 L257.5 349.5 L258.9 348.5 L260.2 347 L261.6 346.1 L262.9 345.3 L264.3 344.6 L265.6 342.6 L267 342.2 L268.3 341 L269.7 340.2 L271 339.5 L272.4 338.4 L273.7 336.6 L275.1 335.5 L276.4 334.5 L277.8 333.7 L279.1 332.7 L280.5 331.1 L281.8 330.3 L283.2 328.2 L284.5 326.9 L285.9 325 L287.2 324.5 L288.6 323.8 L289.9 322.6 L291.3 322.3 L292.6 319.9 L294 318.5 L295.3 316.7 L296.7 315.5 L298 314.2 L299.4 313 L300.7 311.5 L302.1 309.8 L303.4 309.2 L304.8 307.5 L306.1 306.2 L307.5 303.6 L308.8 301.9 L310.2 300.2 L311.5 298.8 L312.9 296.2 L314.2 294 L315.6 291.4 L316.9 288.5 L318.3 285.2 L319.6 282.1 L321 278.4 L322.3 274.9 L322.3 280.8 L321 285.4 L319.6 289.2 L318.3 292.9 L316.9 296.6 L315.6 300.1 L314.2 301.4 L312.9 305.3 L311.5 307.8 L310.2 311.1 L308.8 312 L307.5 314.9 L306.1 318.2 L304.8 318.9 L303.4 321 L302.1 322.5 L300.7 323.9 L299.4 326.5 L298 326.9 L296.7 329.6 L295.3 331.1 L294 331.4 L292.6 332.7 L291.3 333.9 L289.9 335.9 L288.6 337 L287.2 338.3 L285.9 340.6 L284.5 340.6 L283.2 342.8 L281.8 344.1 L280.5 344.1 L279.1 345.7 L277.8 347.4 L276.4 347.5 L275.1 349.1 L273.7 349.2 L272.4 351.1 L271 352.4 L269.7 353.7 L268.3 353.3 L267 355 L265.6 355 L264.3 356.9 L262.9 357.6 L261.6 357.8 L260.2 359.4 L258.9 359.5 L257.5 359.9 L256.2 360.5 L254.8 360.8 L253.5 361.3 L252.1 362.9 L250.8 363.1 L249.4 363.9 L248.1 365.5 L246.7 364.6 L245.4 365.8 L244 366.9 L242.7 367.1 L241.3 368.1 L240 368.9 L238.6 369.1 L237.3 369.8 L235.9 370.7 L234.6 370.5 L233.2 371.3 L231.9 371.3 L230.5 372.2 L229.2 372.4 L227.8 372.5 L226.5 372.9 L225.1 372.9 L223.8 373 L222.4 373.1 L221.1 373.3 L219.7 373.5 L218.4 373.7 L217 373.8 L215.7 373.9 L214.3 373.9 L213 374 L211.6 374 L210.3 374 L208.9 374.1 L207.6 374.1 L206.2 374.1 L204.9 374.1 L203.5 374.2 L202.2 374.2 L200.8 374.2 L199.5 374.2 L198.1 374.2 L196.8 374.2 L195.4 374.2 L194.1 374.2 L192.7 374.3 L191.4 374.3 L190 374.3 L188.7 374.3 L187.4 374.3 L186 374.3 L184.7 374.3 L183.3 374.3 L182 374.3 L180.6 374.3 L179.3 374.3 L177.9 374.3 L176.6 374.3 L175.2 374.3 L173.9 374.3 L172.5 374.3 L171.2 374.3 L169.8 374.3 L168.5 374.3 L167.1 374.3 L165.8 374.3 L164.4 374.3 L163.1 374.3 L161.7 374.3 L160.4 374.3 L159 374.4 L157.7 374.4 L156.3 374.5 L155 374.6 L153.6 374.7 L152.3 374.9 L150.9 375.1 L149.6 375.4 L148.2 375.6 L146.9 376 L145.5 376.4 L144.2 377 L142.8 377.6 L141.5 378.3 L140.1 379 L138.8 379.6 L137.4 380.3 L136.1 381.1 L134.7 381.8 L133.4 382.6 L132 383.4 L130.7 384.1 L129.3 385 L128 385.9 L126.6 386.7 L125.3 387.6 L123.9 388.4 L122.6 389.4 L121.2 390.5 L119.9 391.3 L118.5 392.1 L117.2 393 L115.8 394.2 L114.5 395.1 L113.1 396.3 L111.8 397.3 L110.4 398.2 L109.1 399.4 L107.7 400.8 L106.4 401.3 L105 402.6 L103.7 402.9 L102.3 404.8 L101 405.8 L99.6 406.7 L98.3 408.7 L96.9 409.2 L95.6 410 L94.2 411.3 L92.9 412.7 L91.5 413.9 L90.2 414.7 L88.8 416.2 L87.5 417.7 L86.1 419.3 L84.8 420.3 L83.4 421.4 L82.1 423.2 L80.7 424.2 L79.4 426 L78 427 L76.7 428.9 L75.3 429.3 L74 430.9 L72.6 432.5 L71.3 433.7 L69.9 434.7 L68.6 437.4 L67.2 439 L65.9 439.5 L64.5 442.2 L63.2 442.2 L61.8 444.4 L60.5 446.4 L59.1 447.6 L57.8 449.9 L56.4 450.6 L55.1 452.5 L53.8 453.9Z" fill="#dde777" fill-opacity="0.6" filter="url(#b1)"/>
<path d="M53.8 434 L55.1 432.7 L56.4 431.5 L57.8 430.3 L59.1 429.1 L60.5 427.9 L61.8 426.7 L63.2 425.5 L64.5 424.4 L65.9 423.2 L67.2 422.1 L68.6 421 L69.9 419.9 L71.3 418.8 L72.6 417.7 L74 416.6 L75.3 415.5 L76.7 414.5 L78 413.4 L79.4 412.4 L80.7 411.4 L82.1 410.4 L83.4 409.4 L84.8 408.3 L86.1 407.3 L87.5 406.4 L88.8 405.4 L90.2 404.4 L91.5 403.5 L92.9 402.6 L94.2 401.7 L95.6 400.8 L96.9 400 L98.3 399.2 L99.6 398.4 L101 397.6 L102.3 396.8 L103.7 396.1 L105 395.3 L106.4 394.6 L107.7 393.9 L109.1 393.1 L110.4 392.4 L111.8 391.6 L113.1 390.9 L114.5 390.1 L115.8 389.4 L117.2 388.6 L118.5 387.9 L119.9 387.2 L121.2 386.5 L122.6 385.8 L123.9 385.1 L125.3 384.5 L126.6 383.9 L128 383.3 L129.3 382.7 L130.7 382.1 L132 381.6 L133.4 381 L134.7 380.5 L136.1 380 L137.4 379.5 L138.8 379 L140.1 378.5 L141.5 377.9 L142.8 377.4 L144.2 376.9 L145.5 376.4 L146.9 376 L148.2 375.6 L149.6 375.4 L150.9 375.1 L152.3 374.9 L153.6 374.7 L155 374.6 L156.3 374.5 L157.7 374.4 L159 374.4 L160.4 374.3 L161.7 374.3 L163.1 374.3 L164.4 374.3 L165.8 374.3 L167.1 374.3 L168.5 374.3 L169.8 374.3 L171.2 374.3 L172.5 374.3 L173.9 374.3 L175.2 374.3 L176.6 374.3 L177.9 374.3 L179.3 374.3 L180.6 374.3 L182 374.3 L183.3 374.3 L184.7 374.3 L186 374.3 L187.4 374.3 L188.7 374.3 L190 374.3 L191.4 374.3 L192.7 374.3 L194.1 374.2 L195.4 374.2 L196.8 374.2 L198.1 374.2 L199.5 374.2 L200.8 374.2 L202.2 374.2 L203.5 374.2 L204.9 374.1 L206.2 374.1 L207.6 374.1 L208.9 374.1 L210.3 374 L211.6 374 L213 374 L214.3 373.9 L215.7 373.9 L217 373.8 L218.4 373.7 L219.7 373.5 L221.1 373.3 L222.4 373 L223.8 372.6 L225.1 372.1 L226.5 371.6 L227.8 371 L229.2 370.3 L230.5 369.4 L231.9 368.5 L233.2 367.6 L234.6 366.7 L235.9 365.8 L237.3 364.8 L238.6 363.8 L240 362.8 L241.3 361.8 L242.7 360.7 L244 359.7 L245.4 358.6 L246.7 357.5 L248.1 356.5 L249.4 355.5 L250.8 354.5 L252.1 353.5 L253.5 352.5 L254.8 351.5 L256.2 350.6 L257.5 349.6 L258.9 348.6 L260.2 347.7 L261.6 346.7 L262.9 345.7 L264.3 344.7 L265.6 343.6 L267 342.6 L268.3 341.5 L269.7 340.4 L271 339.3 L272.4 338.2 L273.7 337 L275.1 335.9 L276.4 334.7 L277.8 333.6 L279.1 332.4 L280.5 331.2 L281.8 330 L283.2 328.8 L284.5 327.6 L285.9 326.4 L287.2 325.1 L288.6 323.9 L289.9 322.6 L291.3 321.3 L292.6 320 L294 318.7 L295.3 317.3 L296.7 316 L298 314.7 L299.4 313.3 L300.7 312 L302.1 310.6 L303.4 309.1 L304.8 307.6 L306.1 306 L307.5 304.3 L308.8 302.5 L310.2 300.6 L311.5 298.6 L312.9 296.5 L314.2 294.1 L315.6 291.6 L316.9 288.6 L318.3 285.4 L319.6 282.2 L321 278.7 L322.3 275" fill="none" stroke="#cfdc58" stroke-width="1.2" stroke-opacity="0.25" stroke-linejoin="round" stroke-linecap="round"/>
<path d="M53.8 436.8 L55.1 435.5 L56.4 434.2 L57.8 432.9 L59.1 431.7 L60.5 430.4 L61.8 429.2 L63.2 428 L64.5 426.8 L65.9 425.6 L67.2 424.4 L68.6 423.2 L69.9 422.1 L71.3 420.9 L72.6 419.8 L74 418.7 L75.3 417.5 L76.7 416.4 L78 415.3 L79.4 414.3 L80.7 413.2 L82.1 412.1 L83.4 411.1 L84.8 410 L86.1 409 L87.5 407.9 L88.8 406.9 L90.2 405.9 L91.5 404.9 L92.9 404 L94.2 403 L95.6 402.1 L96.9 401.3 L98.3 400.4 L99.6 399.6 L101 398.7 L102.3 397.9 L103.7 397.1 L105 396.3 L106.4 395.6 L107.7 394.8 L109.1 394 L110.4 393.2 L111.8 392.4 L113.1 391.6 L114.5 390.8 L115.8 390 L117.2 389.3 L118.5 388.5 L119.9 387.7 L121.2 387 L122.6 386.3 L123.9 385.6 L125.3 384.9 L126.6 384.3 L128 383.6 L129.3 383 L130.7 382.4 L132 381.8 L133.4 381.2 L134.7 380.7 L136.1 380.1 L137.4 379.6 L138.8 379.1 L140.1 378.5 L141.5 378 L142.8 377.4 L144.2 376.9 L145.5 376.4 L146.9 376 L148.2 375.6 L149.6 375.4 L150.9 375.1 L152.3 374.9 L153.6 374.7 L155 374.6 L156.3 374.5 L157.7 374.4 L159 374.4 L160.4 374.3 L161.7 374.3 L163.1 374.3 L164.4 374.3 L165.8 374.3 L167.1 374.3 L168.5 374.3 L169.8 374.3 L171.2 374.3 L172.5 374.3 L173.9 374.3 L175.2 374.3 L176.6 374.3 L177.9 374.3 L179.3 374.3 L180.6 374.3 L182 374.3 L183.3 374.3 L184.7 374.3 L186 374.3 L187.4 374.3 L188.7 374.3 L190 374.3 L191.4 374.3 L192.7 374.3 L194.1 374.2 L195.4 374.2 L196.8 374.2 L198.1 374.2 L199.5 374.2 L200.8 374.2 L202.2 374.2 L203.5 374.2 L204.9 374.1 L206.2 374.1 L207.6 374.1 L208.9 374.1 L210.3 374 L211.6 374 L213 374 L214.3 373.9 L215.7 373.9 L217 373.8 L218.4 373.7 L219.7 373.5 L221.1 373.3 L222.4 373 L223.8 372.6 L225.1 372.2 L226.5 371.7 L227.8 371.2 L229.2 370.4 L230.5 369.7 L231.9 368.8 L233.2 367.9 L234.6 367 L235.9 366.1 L237.3 365.2 L238.6 364.3 L240 363.3 L241.3 362.3 L242.7 361.3 L244 360.3 L245.4 359.2 L246.7 358.2 L248.1 357.2 L249.4 356.2 L250.8 355.2 L252.1 354.3 L253.5 353.3 L254.8 352.4 L256.2 351.4 L257.5 350.5 L258.9 349.6 L260.2 348.6 L261.6 347.7 L262.9 346.7 L264.3 345.7 L265.6 344.7 L267 343.6 L268.3 342.6 L269.7 341.5 L271 340.4 L272.4 339.3 L273.7 338.2 L275.1 337 L276.4 335.9 L277.8 334.7 L279.1 333.5 L280.5 332.4 L281.8 331.2 L283.2 330 L284.5 328.7 L285.9 327.5 L287.2 326.3 L288.6 325 L289.9 323.7 L291.3 322.4 L292.6 321.1 L294 319.8 L295.3 318.4 L296.7 317.1 L298 315.7 L299.4 314.4 L300.7 313 L302.1 311.5 L303.4 310.1 L304.8 308.5 L306.1 306.9 L307.5 305.2 L308.8 303.4 L310.2 301.5 L311.5 299.4 L312.9 297.2 L314.2 294.9 L315.6 292.2 L316.9 289.3 L318.3 286 L319.6 282.7 L321 279.3 L322.3 275.5" fill="none" stroke="#cfdc58" stroke-width="1.2" stroke-opacity="0.25" stroke-linejoin="round" stroke-linecap="round"/>
<path d="M53.8 439.6 L55.1 438.2 L56.4 436.9 L57.8 435.6 L59.1 434.3 L60.5 433 L61.8 431.7 L63.2 430.4 L64.5 429.2 L65.9 427.9 L67.2 426.7 L68.6 425.5 L69.9 424.3 L71.3 423.1 L72.6 421.9 L74 420.7 L75.3 419.5 L76.7 418.4 L78 417.3 L79.4 416.1 L80.7 415 L82.1 413.9 L83.4 412.8 L84.8 411.7 L86.1 410.6 L87.5 409.5 L88.8 408.4 L90.2 407.4 L91.5 406.4 L92.9 405.4 L94.2 404.4 L95.6 403.4 L96.9 402.5 L98.3 401.6 L99.6 400.7 L101 399.9 L102.3 399 L103.7 398.2 L105 397.3 L106.4 396.5 L107.7 395.7 L109.1 394.9 L110.4 394 L111.8 393.2 L113.1 392.4 L114.5 391.5 L115.8 390.7 L117.2 389.9 L118.5 389.1 L119.9 388.3 L121.2 387.5 L122.6 386.7 L123.9 386 L125.3 385.3 L126.6 384.6 L128 384 L129.3 383.3 L130.7 382.7 L132 382.1 L133.4 381.5 L134.7 380.9 L136.1 380.3 L137.4 379.7 L138.8 379.2 L140.1 378.6 L141.5 378 L142.8 377.5 L144.2 376.9 L145.5 376.4 L146.9 376 L148.2 375.6 L149.6 375.4 L150.9 375.1 L152.3 374.9 L153.6 374.7 L155 374.6 L156.3 374.5 L157.7 374.4 L159 374.4 L160.4 374.3 L161.7 374.3 L163.1 374.3 L164.4 374.3 L165.8 374.3 L167.1 374.3 L168.5 374.3 L169.8 374.3 L171.2 374.3 L172.5 374.3 L173.9 374.3 L175.2 374.3 L176.6 374.3 L177.9 374.3 L179.3 374.3 L180.6 374.3 L182 374.3 L183.3 374.3 L184.7 374.3 L186 374.3 L187.4 374.3 L188.7 374.3 L190 374.3 L191.4 374.3 L192.7 374.3 L194.1 374.2 L195.4 374.2 L196.8 374.2 L198.1 374.2 L199.5 374.2 L200.8 374.2 L202.2 374.2 L203.5 374.2 L204.9 374.1 L206.2 374.1 L207.6 374.1 L208.9 374.1 L210.3 374 L211.6 374 L213 374 L214.3 373.9 L215.7 373.9 L217 373.8 L218.4 373.7 L219.7 373.5 L221.1 373.3 L222.4 373 L223.8 372.7 L225.1 372.3 L226.5 371.9 L227.8 371.3 L229.2 370.6 L230.5 369.9 L231.9 369.1 L233.2 368.2 L234.6 367.4 L235.9 366.5 L237.3 365.6 L238.6 364.7 L240 363.8 L241.3 362.8 L242.7 361.8 L244 360.9 L245.4 359.9 L246.7 358.9 L248.1 357.9 L249.4 356.9 L250.8 356 L252.1 355 L253.5 354.1 L254.8 353.2 L256.2 352.3 L257.5 351.4 L258.9 350.5 L260.2 349.6 L261.6 348.6 L262.9 347.7 L264.3 346.7 L265.6 345.7 L267 344.7 L268.3 343.6 L269.7 342.6 L271 341.5 L272.4 340.4 L273.7 339.3 L275.1 338.1 L276.4 337 L277.8 335.8 L279.1 334.7 L280.5 333.5 L281.8 332.3 L283.2 331.1 L284.5 329.9 L285.9 328.7 L287.2 327.4 L288.6 326.1 L289.9 324.8 L291.3 323.5 L292.6 322.2 L294 320.9 L295.3 319.5 L296.7 318.1 L298 316.8 L299.4 315.4 L300.7 314 L302.1 312.5 L303.4 311 L304.8 309.5 L306.1 307.8 L307.5 306.1 L308.8 304.3 L310.2 302.3 L311.5 300.2 L312.9 298 L314.2 295.6 L315.6 292.9 L316.9 289.9 L318.3 286.7 L319.6 283.3 L321 279.8 L322.3 276" fill="none" stroke="#cfdc58" stroke-width="1.2" stroke-opacity="0.25" stroke-linejoin="round" stroke-linecap="round"/>
<path d="M53.8 442.4 L55.1 441 L56.4 439.6 L57.8 438.2 L59.1 436.9 L60.5 435.5 L61.8 434.2 L63.2 432.9 L64.5 431.6 L65.9 430.3 L67.2 429 L68.6 427.7 L69.9 426.5 L71.3 425.2 L72.6 424 L74 422.8 L75.3 421.5 L76.7 420.4 L78 419.2 L79.4 418 L80.7 416.8 L82.1 415.7 L83.4 414.5 L84.8 413.4 L86.1 412.2 L87.5 411.1 L88.8 410 L90.2 408.9 L91.5 407.8 L92.9 406.8 L94.2 405.7 L95.6 404.7 L96.9 403.8 L98.3 402.8 L99.6 401.9 L101 401 L102.3 400.1 L103.7 399.2 L105 398.3 L106.4 397.5 L107.7 396.6 L109.1 395.7 L110.4 394.9 L111.8 394 L113.1 393.1 L114.5 392.3 L115.8 391.4 L117.2 390.5 L118.5 389.7 L119.9 388.8 L121.2 388 L122.6 387.2 L123.9 386.5 L125.3 385.7 L126.6 385 L128 384.3 L129.3 383.6 L130.7 383 L132 382.3 L133.4 381.7 L134.7 381 L136.1 380.4 L137.4 379.8 L138.8 379.2 L140.1 378.7 L141.5 378.1 L142.8 377.5 L144.2 376.9 L145.5 376.4 L146.9 376 L148.2 375.6 L149.6 375.4 L150.9 375.1 L152.3 374.9 L153.6 374.7 L155 374.6 L156.3 374.5 L157.7 374.4 L159 374.4 L160.4 374.3 L161.7 374.3 L163.1 374.3 L164.4 374.3 L165.8 374.3 L167.1 374.3 L168.5 374.3 L169.8 374.3 L171.2 374.3 L172.5 374.3 L173.9 374.3 L175.2 374.3 L176.6 374.3 L177.9 374.3 L179.3 374.3 L180.6 374.3 L182 374.3 L183.3 374.3 L184.7 374.3 L186 374.3 L187.4 374.3 L188.7 374.3 L190 374.3 L191.4 374.3 L192.7 374.3 L194.1 374.2 L195.4 374.2 L196.8 374.2 L198.1 374.2 L199.5 374.2 L200.8 374.2 L202.2 374.2 L203.5 374.2 L204.9 374.1 L206.2 374.1 L207.6 374.1 L208.9 374.1 L210.3 374 L211.6 374 L213 374 L214.3 373.9 L215.7 373.9 L217 373.8 L218.4 373.7 L219.7 373.5 L221.1 373.3 L222.4 373 L223.8 372.7 L225.1 372.4 L226.5 372 L227.8 371.4 L229.2 370.8 L230.5 370.1 L231.9 369.3 L233.2 368.5 L234.6 367.7 L235.9 366.9 L237.3 366.1 L238.6 365.2 L240 364.3 L241.3 363.4 L242.7 362.4 L244 361.4 L245.4 360.5 L246.7 359.5 L248.1 358.6 L249.4 357.6 L250.8 356.7 L252.1 355.8 L253.5 355 L254.8 354.1 L256.2 353.2 L257.5 352.3 L258.9 351.4 L260.2 350.5 L261.6 349.6 L262.9 348.7 L264.3 347.7 L265.6 346.7 L267 345.7 L268.3 344.7 L269.7 343.6 L271 342.6 L272.4 341.5 L273.7 340.4 L275.1 339.3 L276.4 338.1 L277.8 337 L279.1 335.8 L280.5 334.6 L281.8 333.5 L283.2 332.3 L284.5 331 L285.9 329.8 L287.2 328.5 L288.6 327.3 L289.9 326 L291.3 324.7 L292.6 323.3 L294 322 L295.3 320.6 L296.7 319.2 L298 317.8 L299.4 316.4 L300.7 315 L302.1 313.5 L303.4 312 L304.8 310.4 L306.1 308.8 L307.5 307 L308.8 305.1 L310.2 303.1 L311.5 301 L312.9 298.8 L314.2 296.3 L315.6 293.6 L316.9 290.6 L318.3 287.3 L319.6 283.9 L321 280.3 L322.3 276.5" fill="none" stroke="#cfdc58" stroke-width="1.2" stroke-opacity="0.25" stroke-linejoin="round" stroke-linecap="round"/>
<path d="M53.8 445.2 L55.1 443.7 L56.4 442.3 L57.8 440.9 L59.1 439.5 L60.5 438.1 L61.8 436.7 L63.2 435.3 L64.5 434 L65.9 432.6 L67.2 431.3 L68.6 430 L69.9 428.7 L71.3 427.4 L72.6 426.1 L74 424.8 L75.3 423.6 L76.7 422.3 L78 421.1 L79.4 419.8 L80.7 418.6 L82.1 417.4 L83.4 416.2 L84.8 415 L86.1 413.8 L87.5 412.7 L88.8 411.5 L90.2 410.4 L91.5 409.3 L92.9 408.2 L94.2 407.1 L95.6 406.1 L96.9 405 L98.3 404 L99.6 403.1 L101 402.1 L102.3 401.2 L103.7 400.3 L105 399.3 L106.4 398.4 L107.7 397.5 L109.1 396.6 L110.4 395.7 L111.8 394.8 L113.1 393.9 L114.5 393 L115.8 392.1 L117.2 391.2 L118.5 390.3 L119.9 389.4 L121.2 388.5 L122.6 387.7 L123.9 386.9 L125.3 386.1 L126.6 385.4 L128 384.7 L129.3 383.9 L130.7 383.2 L132 382.6 L133.4 381.9 L134.7 381.2 L136.1 380.6 L137.4 380 L138.8 379.3 L140.1 378.7 L141.5 378.1 L142.8 377.5 L144.2 376.9 L145.5 376.4 L146.9 376 L148.2 375.6 L149.6 375.4 L150.9 375.1 L152.3 374.9 L153.6 374.7 L155 374.6 L156.3 374.5 L157.7 374.4 L159 374.4 L160.4 374.3 L161.7 374.3 L163.1 374.3 L164.4 374.3 L165.8 374.3 L167.1 374.3 L168.5 374.3 L169.8 374.3 L171.2 374.3 L172.5 374.3 L173.9 374.3 L175.2 374.3 L176.6 374.3 L177.9 374.3 L179.3 374.3 L180.6 374.3 L182 374.3 L183.3 374.3 L184.7 374.3 L186 374.3 L187.4 374.3 L188.7 374.3 L190 374.3 L191.4 374.3 L192.7 374.3 L194.1 374.2 L195.4 374.2 L196.8 374.2 L198.1 374.2 L199.5 374.2 L200.8 374.2 L202.2 374.2 L203.5 374.2 L204.9 374.1 L206.2 374.1 L207.6 374.1 L208.9 374.1 L210.3 374 L211.6 374 L213 374 L214.3 373.9 L215.7 373.9 L217 373.8 L218.4 373.7 L219.7 373.5 L221.1 373.3 L222.4 373.1 L223.8 372.8 L225.1 372.4 L226.5 372.1 L227.8 371.6 L229.2 371 L230.5 370.3 L231.9 369.6 L233.2 368.8 L234.6 368 L235.9 367.3 L237.3 366.5 L238.6 365.6 L240 364.8 L241.3 363.9 L242.7 363 L244 362 L245.4 361.1 L246.7 360.2 L248.1 359.3 L249.4 358.4 L250.8 357.5 L252.1 356.6 L253.5 355.8 L254.8 354.9 L256.2 354.1 L257.5 353.2 L258.9 352.3 L260.2 351.5 L261.6 350.6 L262.9 349.7 L264.3 348.7 L265.6 347.8 L267 346.8 L268.3 345.7 L269.7 344.7 L271 343.7 L272.4 342.6 L273.7 341.5 L275.1 340.4 L276.4 339.3 L277.8 338.1 L279.1 337 L280.5 335.8 L281.8 334.6 L283.2 333.4 L284.5 332.2 L285.9 330.9 L287.2 329.7 L288.6 328.4 L289.9 327.1 L291.3 325.8 L292.6 324.4 L294 323.1 L295.3 321.7 L296.7 320.3 L298 318.9 L299.4 317.5 L300.7 316 L302.1 314.5 L303.4 313 L304.8 311.4 L306.1 309.7 L307.5 307.9 L308.8 306 L310.2 304 L311.5 301.8 L312.9 299.5 L314.2 297.1 L315.6 294.3 L316.9 291.2 L318.3 287.9 L319.6 284.5 L321 280.8 L322.3 277" fill="none" stroke="#cfdc58" stroke-width="1.2" stroke-opacity="0.25" stroke-linejoin="round" stroke-linecap="round"/>
<path d="M53.8 447.3 L55.1 445.8 L56.4 444.3 L57.8 442.9 L59.1 441.4 L60.5 440 L61.8 438.6 L63.2 437.1 L64.5 435.8 L65.9 434.4 L67.2 433 L68.6 431.7 L69.9 430.3 L71.3 429 L72.6 427.7 L74 426.4 L75.3 425.1 L76.7 423.8 L78 422.5 L79.4 421.2 L80.7 420 L82.1 418.8 L83.4 417.5 L84.8 416.3 L86.1 415.1 L87.5 413.9 L88.8 412.7 L90.2 411.5 L91.5 410.3 L92.9 409.2 L94.2 408.1 L95.6 407 L96.9 406 L98.3 405 L99.6 404 L101 403 L102.3 402 L103.7 401 L105 400.1 L106.4 399.1 L107.7 398.2 L109.1 397.3 L110.4 396.3 L111.8 395.4 L113.1 394.5 L114.5 393.5 L115.8 392.6 L117.2 391.6 L118.5 390.7 L119.9 389.8 L121.2 388.9 L122.6 388.1 L123.9 387.3 L125.3 386.5 L126.6 385.7 L128 384.9 L129.3 384.2 L130.7 383.5 L132 382.7 L133.4 382 L134.7 381.4 L136.1 380.7 L137.4 380.1 L138.8 379.4 L140.1 378.8 L141.5 378.2 L142.8 377.5 L144.2 376.9 L145.5 376.4 L146.9 376 L148.2 375.6 L149.6 375.4 L150.9 375.1 L152.3 374.9 L153.6 374.7 L155 374.6 L156.3 374.5 L157.7 374.4 L159 374.4 L160.4 374.3 L161.7 374.3 L163.1 374.3 L164.4 374.3 L165.8 374.3 L167.1 374.3 L168.5 374.3 L169.8 374.3 L171.2 374.3 L172.5 374.3 L173.9 374.3 L175.2 374.3 L176.6 374.3 L177.9 374.3 L179.3 374.3 L180.6 374.3 L182 374.3 L183.3 374.3 L184.7 374.3 L186 374.3 L187.4 374.3 L188.7 374.3 L190 374.3 L191.4 374.3 L192.7 374.3 L194.1 374.2 L195.4 374.2 L196.8 374.2 L198.1 374.2 L199.5 374.2 L200.8 374.2 L202.2 374.2 L203.5 374.2 L204.9 374.1 L206.2 374.1 L207.6 374.1 L208.9 374.1 L210.3 374 L211.6 374 L213 374 L214.3 373.9 L215.7 373.9 L217 373.8 L218.4 373.7 L219.7 373.5 L221.1 373.3 L222.4 373.1 L223.8 372.8 L225.1 372.5 L226.5 372.3 L227.8 371.8 L229.2 371.3 L230.5 370.7 L231.9 370 L233.2 369.3 L234.6 368.6 L235.9 368 L237.3 367.2 L238.6 366.5 L240 365.7 L241.3 364.8 L242.7 364 L244 363.1 L245.4 362.3 L246.7 361.4 L248.1 360.5 L249.4 359.7 L250.8 358.9 L252.1 358.1 L253.5 357.3 L254.8 356.5 L256.2 355.7 L257.5 354.8 L258.9 354 L260.2 353.2 L261.6 352.3 L262.9 351.5 L264.3 350.6 L265.6 349.6 L267 348.7 L268.3 347.7 L269.7 346.7 L271 345.6 L272.4 344.6 L273.7 343.5 L275.1 342.4 L276.4 341.3 L277.8 340.2 L279.1 339 L280.5 337.9 L281.8 336.7 L283.2 335.5 L284.5 334.3 L285.9 333 L287.2 331.8 L288.6 330.5 L289.9 329.1 L291.3 327.8 L292.6 326.4 L294 325.1 L295.3 323.7 L296.7 322.2 L298 320.8 L299.4 319.4 L300.7 317.9 L302.1 316.4 L303.4 314.8 L304.8 313.1 L306.1 311.4 L307.5 309.5 L308.8 307.6 L310.2 305.5 L311.5 303.3 L312.9 300.9 L314.2 298.4 L315.6 295.6 L316.9 292.4 L318.3 289 L319.6 285.5 L321 281.8 L322.3 277.9" fill="none" stroke="#cfdc58" stroke-width="1.2" stroke-opacity="0.25" stroke-linejoin="round" stroke-linecap="round"/>
<path d="M53.8 449.4 L55.1 447.9 L56.4 446.4 L57.8 444.9 L59.1 443.4 L60.5 441.9 L61.8 440.4 L63.2 439 L64.5 437.6 L65.9 436.1 L67.2 434.7 L68.6 433.3 L69.9 432 L71.3 430.6 L72.6 429.2 L74 427.9 L75.3 426.6 L76.7 425.2 L78 423.9 L79.4 422.6 L80.7 421.4 L82.1 420.1 L83.4 418.8 L84.8 417.5 L86.1 416.3 L87.5 415 L88.8 413.8 L90.2 412.6 L91.5 411.4 L92.9 410.3 L94.2 409.1 L95.6 408 L96.9 406.9 L98.3 405.9 L99.6 404.8 L101 403.8 L102.3 402.8 L103.7 401.8 L105 400.8 L106.4 399.9 L107.7 398.9 L109.1 397.9 L110.4 397 L111.8 396 L113.1 395 L114.5 394 L115.8 393.1 L117.2 392.1 L118.5 391.2 L119.9 390.2 L121.2 389.3 L122.6 388.4 L123.9 387.6 L125.3 386.8 L126.6 386 L128 385.2 L129.3 384.4 L130.7 383.7 L132 382.9 L133.4 382.2 L134.7 381.5 L136.1 380.8 L137.4 380.1 L138.8 379.5 L140.1 378.9 L141.5 378.2 L142.8 377.6 L144.2 376.9 L145.5 376.4 L146.9 376 L148.2 375.6 L149.6 375.4 L150.9 375.1 L152.3 374.9 L153.6 374.7 L155 374.6 L156.3 374.5 L157.7 374.4 L159 374.4 L160.4 374.3 L161.7 374.3 L163.1 374.3 L164.4 374.3 L165.8 374.3 L167.1 374.3 L168.5 374.3 L169.8 374.3 L171.2 374.3 L172.5 374.3 L173.9 374.3 L175.2 374.3 L176.6 374.3 L177.9 374.3 L179.3 374.3 L180.6 374.3 L182 374.3 L183.3 374.3 L184.7 374.3 L186 374.3 L187.4 374.3 L188.7 374.3 L190 374.3 L191.4 374.3 L192.7 374.3 L194.1 374.2 L195.4 374.2 L196.8 374.2 L198.1 374.2 L199.5 374.2 L200.8 374.2 L202.2 374.2 L203.5 374.2 L204.9 374.1 L206.2 374.1 L207.6 374.1 L208.9 374.1 L210.3 374 L211.6 374 L213 374 L214.3 373.9 L215.7 373.9 L217 373.8 L218.4 373.7 L219.7 373.5 L221.1 373.3 L222.4 373.1 L223.8 372.9 L225.1 372.7 L226.5 372.4 L227.8 372.1 L229.2 371.7 L230.5 371.1 L231.9 370.5 L233.2 369.9 L234.6 369.3 L235.9 368.6 L237.3 368 L238.6 367.3 L240 366.5 L241.3 365.8 L242.7 365 L244 364.2 L245.4 363.4 L246.7 362.6 L248.1 361.8 L249.4 361 L250.8 360.3 L252.1 359.5 L253.5 358.7 L254.8 358 L256.2 357.2 L257.5 356.5 L258.9 355.7 L260.2 354.9 L261.6 354.1 L262.9 353.3 L264.3 352.4 L265.6 351.5 L267 350.6 L268.3 349.6 L269.7 348.6 L271 347.6 L272.4 346.6 L273.7 345.5 L275.1 344.5 L276.4 343.4 L277.8 342.3 L279.1 341.1 L280.5 340 L281.8 338.8 L283.2 337.6 L284.5 336.4 L285.9 335.1 L287.2 333.8 L288.6 332.5 L289.9 331.2 L291.3 329.8 L292.6 328.5 L294 327.1 L295.3 325.6 L296.7 324.2 L298 322.7 L299.4 321.2 L300.7 319.7 L302.1 318.2 L303.4 316.5 L304.8 314.8 L306.1 313 L307.5 311.1 L308.8 309.1 L310.2 307 L311.5 304.8 L312.9 302.3 L314.2 299.7 L315.6 296.9 L316.9 293.6 L318.3 290.1 L319.6 286.5 L321 282.7 L322.3 278.8" fill="none" stroke="#cfdc58" stroke-width="1.2" stroke-opacity="0.25" stroke-linejoin="round" stroke-linecap="round"/>
<path d="M53.8 451.5 L55.1 450 L56.4 448.4 L57.8 446.9 L59.1 445.3 L60.5 443.8 L61.8 442.3 L63.2 440.8 L64.5 439.4 L65.9 437.9 L67.2 436.5 L68.6 435 L69.9 433.6 L71.3 432.2 L72.6 430.8 L74 429.4 L75.3 428.1 L76.7 426.7 L78 425.4 L79.4 424 L80.7 422.7 L82.1 421.4 L83.4 420.1 L84.8 418.8 L86.1 417.5 L87.5 416.2 L88.8 415 L90.2 413.7 L91.5 412.5 L92.9 411.3 L94.2 410.1 L95.6 409 L96.9 407.9 L98.3 406.8 L99.6 405.7 L101 404.7 L102.3 403.6 L103.7 402.6 L105 401.6 L106.4 400.6 L107.7 399.6 L109.1 398.6 L110.4 397.6 L111.8 396.6 L113.1 395.6 L114.5 394.6 L115.8 393.6 L117.2 392.6 L118.5 391.6 L119.9 390.7 L121.2 389.7 L122.6 388.8 L123.9 387.9 L125.3 387.1 L126.6 386.2 L128 385.4 L129.3 384.6 L130.7 383.9 L132 383.1 L133.4 382.4 L134.7 381.6 L136.1 380.9 L137.4 380.2 L138.8 379.6 L140.1 378.9 L141.5 378.2 L142.8 377.6 L144.2 376.9 L145.5 376.4 L146.9 376 L148.2 375.6 L149.6 375.4 L150.9 375.1 L152.3 374.9 L153.6 374.7 L155 374.6 L156.3 374.5 L157.7 374.4 L159 374.4 L160.4 374.3 L161.7 374.3 L163.1 374.3 L164.4 374.3 L165.8 374.3 L167.1 374.3 L168.5 374.3 L169.8 374.3 L171.2 374.3 L172.5 374.3 L173.9 374.3 L175.2 374.3 L176.6 374.3 L177.9 374.3 L179.3 374.3 L180.6 374.3 L182 374.3 L183.3 374.3 L184.7 374.3 L186 374.3 L187.4 374.3 L188.7 374.3 L190 374.3 L191.4 374.3 L192.7 374.3 L194.1 374.2 L195.4 374.2 L196.8 374.2 L198.1 374.2 L199.5 374.2 L200.8 374.2 L202.2 374.2 L203.5 374.2 L204.9 374.1 L206.2 374.1 L207.6 374.1 L208.9 374.1 L210.3 374 L211.6 374 L213 374 L214.3 373.9 L215.7 373.9 L217 373.8 L218.4 373.7 L219.7 373.5 L221.1 373.3 L222.4 373.1 L223.8 372.9 L225.1 372.8 L226.5 372.6 L227.8 372.4 L229.2 372 L230.5 371.5 L231.9 371 L233.2 370.4 L234.6 369.9 L235.9 369.3 L237.3 368.7 L238.6 368.1 L240 367.4 L241.3 366.7 L242.7 366 L244 365.3 L245.4 364.6 L246.7 363.8 L248.1 363.1 L249.4 362.4 L250.8 361.6 L252.1 360.9 L253.5 360.2 L254.8 359.5 L256.2 358.8 L257.5 358.1 L258.9 357.4 L260.2 356.6 L261.6 355.9 L262.9 355.1 L264.3 354.2 L265.6 353.4 L267 352.5 L268.3 351.5 L269.7 350.6 L271 349.6 L272.4 348.6 L273.7 347.6 L275.1 346.5 L276.4 345.4 L277.8 344.3 L279.1 343.2 L280.5 342 L281.8 340.9 L283.2 339.7 L284.5 338.4 L285.9 337.2 L287.2 335.9 L288.6 334.6 L289.9 333.3 L291.3 331.9 L292.6 330.5 L294 329.1 L295.3 327.6 L296.7 326.1 L298 324.6 L299.4 323.1 L300.7 321.6 L302.1 320 L303.4 318.3 L304.8 316.6 L306.1 314.7 L307.5 312.8 L308.8 310.7 L310.2 308.5 L311.5 306.2 L312.9 303.7 L314.2 301.1 L315.6 298.1 L316.9 294.8 L318.3 291.2 L319.6 287.6 L321 283.7 L322.3 279.7" fill="none" stroke="#cfdc58" stroke-width="1.2" stroke-opacity="0.25" stroke-linejoin="round" stroke-linecap="round"/>
<path d="M53.8 453.6 L55.1 452 L56.4 450.4 L57.8 448.8 L59.1 447.3 L60.5 445.7 L61.8 444.2 L63.2 442.7 L64.5 441.2 L65.9 439.7 L67.2 438.2 L68.6 436.7 L69.9 435.3 L71.3 433.8 L72.6 432.4 L74 431 L75.3 429.6 L76.7 428.2 L78 426.8 L79.4 425.4 L80.7 424.1 L82.1 422.7 L83.4 421.4 L84.8 420 L86.1 418.7 L87.5 417.4 L88.8 416.1 L90.2 414.8 L91.5 413.6 L92.9 412.3 L94.2 411.1 L95.6 410 L96.9 408.8 L98.3 407.7 L99.6 406.6 L101 405.5 L102.3 404.4 L103.7 403.4 L105 402.3 L106.4 401.3 L107.7 400.3 L109.1 399.2 L110.4 398.2 L111.8 397.2 L113.1 396.1 L114.5 395.1 L115.8 394.1 L117.2 393.1 L118.5 392.1 L119.9 391.1 L121.2 390.1 L122.6 389.2 L123.9 388.3 L125.3 387.4 L126.6 386.5 L128 385.7 L129.3 384.9 L130.7 384.1 L132 383.3 L133.4 382.5 L134.7 381.8 L136.1 381 L137.4 380.3 L138.8 379.6 L140.1 379 L141.5 378.3 L142.8 377.6 L144.2 376.9 L145.5 376.4 L146.9 376 L148.2 375.6 L149.6 375.4 L150.9 375.1 L152.3 374.9 L153.6 374.7 L155 374.6 L156.3 374.5 L157.7 374.4 L159 374.4 L160.4 374.3 L161.7 374.3 L163.1 374.3 L164.4 374.3 L165.8 374.3 L167.1 374.3 L168.5 374.3 L169.8 374.3 L171.2 374.3 L172.5 374.3 L173.9 374.3 L175.2 374.3 L176.6 374.3 L177.9 374.3 L179.3 374.3 L180.6 374.3 L182 374.3 L183.3 374.3 L184.7 374.3 L186 374.3 L187.4 374.3 L188.7 374.3 L190 374.3 L191.4 374.3 L192.7 374.3 L194.1 374.2 L195.4 374.2 L196.8 374.2 L198.1 374.2 L199.5 374.2 L200.8 374.2 L202.2 374.2 L203.5 374.2 L204.9 374.1 L206.2 374.1 L207.6 374.1 L208.9 374.1 L210.3 374 L211.6 374 L213 374 L214.3 373.9 L215.7 373.9 L217 373.8 L218.4 373.7 L219.7 373.5 L221.1 373.3 L222.4 373.1 L223.8 373 L225.1 372.9 L226.5 372.8 L227.8 372.6 L229.2 372.3 L230.5 371.9 L231.9 371.5 L233.2 371 L234.6 370.5 L235.9 370 L237.3 369.5 L238.6 368.9 L240 368.3 L241.3 367.7 L242.7 367 L244 366.4 L245.4 365.7 L246.7 365 L248.1 364.4 L249.4 363.7 L250.8 363 L252.1 362.4 L253.5 361.7 L254.8 361.1 L256.2 360.4 L257.5 359.8 L258.9 359.1 L260.2 358.4 L261.6 357.6 L262.9 356.9 L264.3 356.1 L265.6 355.2 L267 354.4 L268.3 353.5 L269.7 352.5 L271 351.6 L272.4 350.6 L273.7 349.6 L275.1 348.5 L276.4 347.5 L277.8 346.4 L279.1 345.3 L280.5 344.1 L281.8 343 L283.2 341.8 L284.5 340.5 L285.9 339.3 L287.2 338 L288.6 336.7 L289.9 335.3 L291.3 333.9 L292.6 332.5 L294 331.1 L295.3 329.6 L296.7 328.1 L298 326.6 L299.4 325 L300.7 323.4 L302.1 321.8 L303.4 320.1 L304.8 318.3 L306.1 316.4 L307.5 314.4 L308.8 312.3 L310.2 310.1 L311.5 307.7 L312.9 305.1 L314.2 302.4 L315.6 299.4 L316.9 296 L318.3 292.3 L319.6 288.6 L321 284.6 L322.3 280.6" fill="none" stroke="#cfdc58" stroke-width="1.2" stroke-opacity="0.25" stroke-linejoin="round" stroke-linecap="round"/>
<path d="M53.8 443.2 L55.1 441.7 L56.4 440.3 L57.8 438.9 L59.1 437.5 L60.5 436.1 L61.8 434.7 L63.2 433.3 L64.5 432 L65.9 430.6 L67.2 429.3 L68.6 428 L69.9 426.7 L71.3 425.4 L72.6 424.1 L74 422.8 L75.3 421.6 L76.7 420.3 L78 419.1 L79.4 417.8 L80.7 416.6 L82.1 415.4 L83.4 414.2 L84.8 413 L86.1 411.8 L87.5 410.7 L88.8 409.5 L90.2 408.4 L91.5 407.3 L92.9 406.2 L94.2 405.1 L95.6 404.1 L96.9 403 L98.3 402 L99.6 401.1 L101 400.1 L102.3 399.2 L103.7 398.3 L105 397.3 L106.4 396.4 L107.7 395.5 L109.1 394.6 L110.4 393.7 L111.8 392.8 L113.1 391.9 L114.5 391 L115.8 390.1 L117.2 389.2 L118.5 388.3 L119.9 387.4 L121.2 386.5 L122.6 385.7 L123.9 384.9 L125.3 384.1 L126.6 383.4 L128 382.7 L129.3 381.9 L130.7 381.2 L132 380.6 L133.4 379.9 L134.7 379.2 L136.1 378.6 L137.4 378 L138.8 377.3 L140.1 376.7 L141.5 376.1 L142.8 375.5 L144.2 374.9 L145.5 374.4 L146.9 374 L148.2 373.6 L149.6 373.4 L150.9 373.1 L152.3 372.9 L153.6 372.7 L155 372.6 L156.3 372.5 L157.7 372.4 L159 372.4 L160.4 372.3 L161.7 372.3 L163.1 372.3 L164.4 372.3 L165.8 372.3 L167.1 372.3 L168.5 372.3 L169.8 372.3 L171.2 372.3 L172.5 372.3 L173.9 372.3 L175.2 372.3 L176.6 372.3 L177.9 372.3 L179.3 372.3 L180.6 372.3 L182 372.3 L183.3 372.3 L184.7 372.3 L186 372.3 L187.4 372.3 L188.7 372.3 L190 372.3 L191.4 372.3 L192.7 372.3 L194.1 372.2 L195.4 372.2 L196.8 372.2 L198.1 372.2 L199.5 372.2 L200.8 372.2 L202.2 372.2 L203.5 372.2 L204.9 372.1 L206.2 372.1 L207.6 372.1 L208.9 372.1 L210.3 372 L211.6 372 L213 372 L214.3 371.9 L215.7 371.9 L217 371.8 L218.4 371.7 L219.7 371.5 L221.1 371.3 L222.4 371.1 L223.8 370.8 L225.1 370.4 L226.5 370.1 L227.8 369.6 L229.2 369 L230.5 368.3 L231.9 367.6 L233.2 366.8 L234.6 366 L235.9 365.3 L237.3 364.5 L238.6 363.6 L240 362.8 L241.3 361.9 L242.7 361 L244 360 L245.4 359.1 L246.7 358.2 L248.1 357.3 L249.4 356.4 L250.8 355.5 L252.1 354.6 L253.5 353.8 L254.8 352.9 L256.2 352.1 L257.5 351.2 L258.9 350.3 L260.2 349.5 L261.6 348.6 L262.9 347.7 L264.3 346.7 L265.6 345.8 L267 344.8 L268.3 343.7 L269.7 342.7 L271 341.7 L272.4 340.6 L273.7 339.5 L275.1 338.4 L276.4 337.3 L277.8 336.1 L279.1 335 L280.5 333.8 L281.8 332.6 L283.2 331.4 L284.5 330.2 L285.9 328.9 L287.2 327.7 L288.6 326.4 L289.9 325.1 L291.3 323.8 L292.6 322.4 L294 321.1 L295.3 319.7 L296.7 318.3 L298 316.9 L299.4 315.5 L300.7 314 L302.1 312.5 L303.4 311 L304.8 309.4 L306.1 307.7 L307.5 305.9 L308.8 304 L310.2 302 L311.5 299.8 L312.9 297.5 L314.2 295.1 L315.6 292.3 L316.9 289.2 L318.3 285.9 L319.6 282.5 L321 278.8 L322.3 275 L322.3 279 L321 282.8 L319.6 286.5 L318.3 289.9 L316.9 293.2 L315.6 296.3 L314.2 299.1 L312.9 301.5 L311.5 303.8 L310.2 306 L308.8 308 L307.5 309.9 L306.1 311.7 L304.8 313.4 L303.4 315 L302.1 316.5 L300.7 318 L299.4 319.5 L298 320.9 L296.7 322.3 L295.3 323.7 L294 325.1 L292.6 326.4 L291.3 327.8 L289.9 329.1 L288.6 330.4 L287.2 331.7 L285.9 332.9 L284.5 334.2 L283.2 335.4 L281.8 336.6 L280.5 337.8 L279.1 339 L277.8 340.1 L276.4 341.3 L275.1 342.4 L273.7 343.5 L272.4 344.6 L271 345.7 L269.7 346.7 L268.3 347.7 L267 348.8 L265.6 349.8 L264.3 350.7 L262.9 351.7 L261.6 352.6 L260.2 353.5 L258.9 354.3 L257.5 355.2 L256.2 356.1 L254.8 356.9 L253.5 357.8 L252.1 358.6 L250.8 359.5 L249.4 360.4 L248.1 361.3 L246.7 362.2 L245.4 363.1 L244 364 L242.7 365 L241.3 365.9 L240 366.8 L238.6 367.6 L237.3 368.5 L235.9 369.3 L234.6 370 L233.2 370.8 L231.9 371.6 L230.5 372.3 L229.2 373 L227.8 373.6 L226.5 374.1 L225.1 374.4 L223.8 374.8 L222.4 375.1 L221.1 375.3 L219.7 375.5 L218.4 375.7 L217 375.8 L215.7 375.9 L214.3 375.9 L213 376 L211.6 376 L210.3 376 L208.9 376.1 L207.6 376.1 L206.2 376.1 L204.9 376.1 L203.5 376.2 L202.2 376.2 L200.8 376.2 L199.5 376.2 L198.1 376.2 L196.8 376.2 L195.4 376.2 L194.1 376.2 L192.7 376.3 L191.4 376.3 L190 376.3 L188.7 376.3 L187.4 376.3 L186 376.3 L184.7 376.3 L183.3 376.3 L182 376.3 L180.6 376.3 L179.3 376.3 L177.9 376.3 L176.6 376.3 L175.2 376.3 L173.9 376.3 L172.5 376.3 L171.2 376.3 L169.8 376.3 L168.5 376.3 L167.1 376.3 L165.8 376.3 L164.4 376.3 L163.1 376.3 L161.7 376.3 L160.4 376.3 L159 376.4 L157.7 376.4 L156.3 376.5 L155 376.6 L153.6 376.7 L152.3 376.9 L150.9 377.1 L149.6 377.4 L148.2 377.6 L146.9 378 L145.5 378.4 L144.2 378.9 L142.8 379.5 L141.5 380.1 L140.1 380.7 L138.8 381.3 L137.4 382 L136.1 382.6 L134.7 383.2 L133.4 383.9 L132 384.6 L130.7 385.2 L129.3 385.9 L128 386.7 L126.6 387.4 L125.3 388.1 L123.9 388.9 L122.6 389.7 L121.2 390.5 L119.9 391.4 L118.5 392.3 L117.2 393.2 L115.8 394.1 L114.5 395 L113.1 395.9 L111.8 396.8 L110.4 397.7 L109.1 398.6 L107.7 399.5 L106.4 400.4 L105 401.3 L103.7 402.3 L102.3 403.2 L101 404.1 L99.6 405.1 L98.3 406 L96.9 407 L95.6 408.1 L94.2 409.1 L92.9 410.2 L91.5 411.3 L90.2 412.4 L88.8 413.5 L87.5 414.7 L86.1 415.8 L84.8 417 L83.4 418.2 L82.1 419.4 L80.7 420.6 L79.4 421.8 L78 423.1 L76.7 424.3 L75.3 425.6 L74 426.8 L72.6 428.1 L71.3 429.4 L69.9 430.7 L68.6 432 L67.2 433.3 L65.9 434.6 L64.5 436 L63.2 437.3 L61.8 438.7 L60.5 440.1 L59.1 441.5 L57.8 442.9 L56.4 444.3 L55.1 445.7 L53.8 447.2Z" fill="#f2d24a" fill-opacity="0.5" filter="url(#b1)"/>
<path d="M53.8 445.2 L55.1 443.7 L56.4 442.3 L57.8 440.9 L59.1 439.5 L60.5 438.1 L61.8 436.7 L63.2 435.3 L64.5 434 L65.9 432.6 L67.2 431.3 L68.6 430 L69.9 428.7 L71.3 427.4 L72.6 426.1 L74 424.8 L75.3 423.6 L76.7 422.3 L78 421.1 L79.4 419.8 L80.7 418.6 L82.1 417.4 L83.4 416.2 L84.8 415 L86.1 413.8 L87.5 412.7 L88.8 411.5 L90.2 410.4 L91.5 409.3 L92.9 408.2 L94.2 407.1 L95.6 406.1 L96.9 405 L98.3 404 L99.6 403.1 L101 402.1 L102.3 401.2 L103.7 400.3 L105 399.3 L106.4 398.4 L107.7 397.5 L109.1 396.6 L110.4 395.7 L111.8 394.8 L113.1 393.9 L114.5 393 L115.8 392.1 L117.2 391.2 L118.5 390.3 L119.9 389.4 L121.2 388.5 L122.6 387.7 L123.9 386.9 L125.3 386.1 L126.6 385.4 L128 384.7 L129.3 383.9 L130.7 383.2 L132 382.6 L133.4 381.9 L134.7 381.2 L136.1 380.6 L137.4 380 L138.8 379.3 L140.1 378.7 L141.5 378.1 L142.8 377.5 L144.2 376.9 L145.5 376.4 L146.9 376 L148.2 375.6 L149.6 375.4 L150.9 375.1 L152.3 374.9 L153.6 374.7 L155 374.6 L156.3 374.5 L157.7 374.4 L159 374.4 L160.4 374.3 L161.7 374.3 L163.1 374.3 L164.4 374.3 L165.8 374.3 L167.1 374.3 L168.5 374.3 L169.8 374.3 L171.2 374.3 L172.5 374.3 L173.9 374.3 L175.2 374.3 L176.6 374.3 L177.9 374.3 L179.3 374.3 L180.6 374.3 L182 374.3 L183.3 374.3 L184.7 374.3 L186 374.3 L187.4 374.3 L188.7 374.3 L190 374.3 L191.4 374.3 L192.7 374.3 L194.1 374.2 L195.4 374.2 L196.8 374.2 L198.1 374.2 L199.5 374.2 L200.8 374.2 L202.2 374.2 L203.5 374.2 L204.9 374.1 L206.2 374.1 L207.6 374.1 L208.9 374.1 L210.3 374 L211.6 374 L213 374 L214.3 373.9 L215.7 373.9 L217 373.8 L218.4 373.7 L219.7 373.5 L221.1 373.3 L222.4 373.1 L223.8 372.8 L225.1 372.4 L226.5 372.1 L227.8 371.6 L229.2 371 L230.5 370.3 L231.9 369.6 L233.2 368.8 L234.6 368 L235.9 367.3 L237.3 366.5 L238.6 365.6 L240 364.8 L241.3 363.9 L242.7 363 L244 362 L245.4 361.1 L246.7 360.2 L248.1 359.3 L249.4 358.4 L250.8 357.5 L252.1 356.6 L253.5 355.8 L254.8 354.9 L256.2 354.1 L257.5 353.2 L258.9 352.3 L260.2 351.5 L261.6 350.6 L262.9 349.7 L264.3 348.7 L265.6 347.8 L267 346.8 L268.3 345.7 L269.7 344.7 L271 343.7 L272.4 342.6 L273.7 341.5 L275.1 340.4 L276.4 339.3 L277.8 338.1 L279.1 337 L280.5 335.8 L281.8 334.6 L283.2 333.4 L284.5 332.2 L285.9 330.9 L287.2 329.7 L288.6 328.4 L289.9 327.1 L291.3 325.8 L292.6 324.4 L294 323.1 L295.3 321.7 L296.7 320.3 L298 318.9 L299.4 317.5 L300.7 316 L302.1 314.5 L303.4 313 L304.8 311.4 L306.1 309.7 L307.5 307.9 L308.8 306 L310.2 304 L311.5 301.8 L312.9 299.5 L314.2 297.1 L315.6 294.3 L316.9 291.2 L318.3 287.9 L319.6 284.5 L321 280.8 L322.3 277" fill="none" stroke="#f0b030" stroke-width="2.5" stroke-opacity="0.6" stroke-linejoin="round" stroke-linecap="round"/>
<path d="M53.8 445.2 L55.1 443.7 L56.4 442.3 L57.8 440.9 L59.1 439.5 L60.5 438.1 L61.8 436.7 L63.2 435.3 L64.5 434 L65.9 432.6 L67.2 431.3 L68.6 430 L69.9 428.7 L71.3 427.4 L72.6 426.1 L74 424.8 L75.3 423.6 L76.7 422.3 L78 421.1 L79.4 419.8 L80.7 418.6 L82.1 417.4 L83.4 416.2 L84.8 415 L86.1 413.8 L87.5 412.7 L88.8 411.5 L90.2 410.4 L91.5 409.3 L92.9 408.2 L94.2 407.1 L95.6 406.1 L96.9 405 L98.3 404 L99.6 403.1 L101 402.1 L102.3 401.2 L103.7 400.3 L105 399.3 L106.4 398.4 L107.7 397.5 L109.1 396.6 L110.4 395.7 L111.8 394.8 L113.1 393.9 L114.5 393 L115.8 392.1 L117.2 391.2 L118.5 390.3 L119.9 389.4 L121.2 388.5 L122.6 387.7 L123.9 386.9 L125.3 386.1 L126.6 385.4 L128 384.7 L129.3 383.9 L130.7 383.2 L132 382.6 L133.4 381.9 L134.7 381.2 L136.1 380.6 L137.4 380 L138.8 379.3 L140.1 378.7 L141.5 378.1 L142.8 377.5 L144.2 376.9 L145.5 376.4 L146.9 376 L148.2 375.6 L149.6 375.4 L150.9 375.1 L152.3 374.9 L153.6 374.7 L155 374.6 L156.3 374.5 L157.7 374.4 L159 374.4 L160.4 374.3 L161.7 374.3 L163.1 374.3 L164.4 374.3 L165.8 374.3 L167.1 374.3 L168.5 374.3 L169.8 374.3 L171.2 374.3 L172.5 374.3 L173.9 374.3 L175.2 374.3 L176.6 374.3 L177.9 374.3 L179.3 374.3 L180.6 374.3 L182 374.3 L183.3 374.3 L184.7 374.3 L186 374.3 L187.4 374.3 L188.7 374.3 L190 374.3 L191.4 374.3 L192.7 374.3 L194.1 374.2 L195.4 374.2 L196.8 374.2 L198.1 374.2 L199.5 374.2 L200.8 374.2 L202.2 374.2 L203.5 374.2 L204.9 374.1 L206.2 374.1 L207.6 374.1 L208.9 374.1 L210.3 374 L211.6 374 L213 374 L214.3 373.9 L215.7 373.9 L217 373.8 L218.4 373.7 L219.7 373.5 L221.1 373.3 L222.4 373.1 L223.8 372.8 L225.1 372.4 L226.5 372.1 L227.8 371.6 L229.2 371 L230.5 370.3 L231.9 369.6 L233.2 368.8 L234.6 368 L235.9 367.3 L237.3 366.5 L238.6 365.6 L240 364.8 L241.3 363.9 L242.7 363 L244 362 L245.4 361.1 L246.7 360.2 L248.1 359.3 L249.4 358.4 L250.8 357.5 L252.1 356.6 L253.5 355.8 L254.8 354.9 L256.2 354.1 L257.5 353.2 L258.9 352.3 L260.2 351.5 L261.6 350.6 L262.9 349.7 L264.3 348.7 L265.6 347.8 L267 346.8 L268.3 345.7 L269.7 344.7 L271 343.7 L272.4 342.6 L273.7 341.5 L275.1 340.4 L276.4 339.3 L277.8 338.1 L279.1 337 L280.5 335.8 L281.8 334.6 L283.2 333.4 L284.5 332.2 L285.9 330.9 L287.2 329.7 L288.6 328.4 L289.9 327.1 L291.3 325.8 L292.6 324.4 L294 323.1 L295.3 321.7 L296.7 320.3 L298 318.9 L299.4 317.5 L300.7 316 L302.1 314.5 L303.4 313 L304.8 311.4 L306.1 309.7 L307.5 307.9 L308.8 306 L310.2 304 L311.5 301.8 L312.9 299.5 L314.2 297.1 L315.6 294.3 L316.9 291.2 L318.3 287.9 L319.6 284.5 L321 280.8 L322.3 277" fill="none" stroke="#bd240c" stroke-width="1.35" stroke-opacity="1" stroke-linejoin="round" stroke-linecap="round"/>
</g>
<rect x="51.8" y="265.6" width="273.2" height="202.4" fill="none" stroke="#111" stroke-width="1.3"/>
<line x1="54" y1="468" x2="54" y2="470.6" stroke="#1a1a1a" stroke-width="1.1"/>
<text x="55.1" y="484" font-size="13" text-anchor="middle">-1.0</text>
<line x1="121" y1="468" x2="121" y2="470.6" stroke="#1a1a1a" stroke-width="1.1"/>
<text x="122.1" y="484" font-size="13" text-anchor="middle">-0.5</text>
<line x1="188" y1="468" x2="188" y2="470.6" stroke="#1a1a1a" stroke-width="1.1"/>
<text x="189.1" y="484" font-size="13" text-anchor="middle">0.0</text>
<line x1="255" y1="468" x2="255" y2="470.6" stroke="#1a1a1a" stroke-width="1.1"/>
<text x="256.1" y="484" font-size="13" text-anchor="middle">0.5</text>
<line x1="322" y1="468" x2="322" y2="470.6" stroke="#1a1a1a" stroke-width="1.1"/>
<text x="323.1" y="484" font-size="13" text-anchor="middle">1.0</text>
<line x1="49.4" y1="283.8" x2="51.8" y2="283.8" stroke="#1a1a1a" stroke-width="1.1"/>
<text x="44" y="288.5" font-size="13" text-anchor="end">100</text>
<line x1="49.4" y1="374.6" x2="51.8" y2="374.6" stroke="#1a1a1a" stroke-width="1.1"/>
<text x="44" y="379.3" font-size="13" text-anchor="end">0</text>
<line x1="49.4" y1="465.6" x2="51.8" y2="465.6" stroke="#1a1a1a" stroke-width="1.1"/>
<text x="44" y="470.3" font-size="13" text-anchor="end">-100</text>
<text x="188.8" y="501" font-size="14.4" text-anchor="middle">Voltage (V)</text>
<text transform="translate(14 364.3) rotate(-90)" font-size="14.4" text-anchor="middle">Current (pA)</text>
<text x="4" y="284.5" font-size="20" font-weight="bold">d</text>
<g clip-path="url(#ce)">
<path d="M394.5 364 L395.5 365.1 L396.6 365.6 L397.6 366.4 L398.6 369.1 L399.7 368.8 L400.7 370 L401.8 371.2 L402.8 371.6 L403.8 372.1 L404.9 373 L405.9 374.7 L406.9 374.8 L408 373.9 L409 376.8 L410.1 378 L411.1 377.5 L412.1 378 L413.2 378.9 L414.2 380.7 L415.2 379.9 L416.3 381.8 L417.3 382.7 L418.3 383 L419.4 383.2 L420.4 383.2 L421.5 383.7 L422.5 384.7 L423.5 384.5 L424.6 385.5 L425.6 385.4 L426.6 387.4 L427.7 388 L428.7 386.8 L429.7 388.6 L430.8 388.3 L431.8 388.5 L432.9 389.1 L433.9 389.4 L434.9 388.5 L436 391.5 L437 389.4 L438 388.7 L439.1 390.5 L440.1 390.8 L441.2 390.5 L442.2 390 L443.2 392.3 L444.3 391.7 L445.3 392.1 L446.3 391.8 L447.4 392.4 L448.4 392.4 L449.4 393.5 L450.5 393.5 L451.5 394.4 L452.6 394.9 L453.6 395 L454.6 395.5 L455.7 396.7 L456.7 395.4 L457.7 397 L458.8 398.3 L459.8 397.3 L460.8 399 L461.9 398.7 L462.9 399.6 L464 399.9 L465 400.5 L466 401.4 L467.1 401.5 L468.1 400.8 L469.1 403.8 L470.2 402.9 L471.2 403.1 L472.3 404.5 L473.3 405.2 L474.3 403.7 L475.4 405.9 L476.4 405.1 L477.4 406.8 L478.5 407.8 L479.5 408.4 L480.5 409.2 L481.6 409.9 L482.6 411.3 L483.7 412.5 L484.7 413.5 L485.7 414.2 L486.8 415.8 L487.8 418.1 L488.8 419.5 L489.9 420.6 L490.9 422.6 L491.9 424 L493 425.8 L494 426.9 L495.1 428.2 L496.1 429.5 L497.1 431.3 L498.2 431.9 L499.2 433.8 L500.2 433.7 L501.3 435.4 L502.3 436.4 L503.4 437.5 L504.4 438.8 L505.4 438.5 L506.5 438.8 L507.5 438.7 L508.5 440 L509.6 439.3 L510.6 440.1 L511.6 440 L512.7 441 L513.7 440.2 L514.8 440.4 L515.8 440.1 L516.8 440.3 L517.9 440.7 L518.9 440.1 L519.9 440.2 L521 440.3 L522 440.2 L523 440.1 L524.1 440.5 L525.1 440.9 L526.2 440.9 L527.2 440.1 L528.2 440.3 L529.3 440.5 L530.3 440.6 L531.3 440.5 L532.4 440.5 L533.4 440.6 L534.5 440.7 L535.5 439.9 L536.5 440.4 L537.6 440.7 L538.6 440.9 L539.6 440.7 L540.7 440.3 L541.7 440.3 L542.7 440.5 L543.8 440.5 L544.8 440.6 L545.9 440.8 L546.9 440.1 L547.9 440.4 L549 439.7 L550 440.7 L551 440.5 L552.1 440.2 L553.1 440.5 L554.1 440.8 L555.2 440.7 L556.2 440.4 L557.3 440.2 L558.3 439.9 L559.3 438.8 L560.4 437.8 L561.4 436.8 L562.4 435.3 L563.5 432.8 L564.5 429.4 L565.6 426 L566.6 423.4 L567.6 420.3 L568.7 417.6 L569.7 415.1 L570.7 412 L571.8 408.4 L572.8 406.3 L573.8 404 L574.9 403.5 L575.9 401.7 L577 400.3 L578 399.5 L579 399.6 L580.1 398.5 L581.1 397.5 L582.1 397.5 L583.2 395.9 L584.2 394.9 L585.2 395.2 L586.3 393 L587.3 393.9 L588.4 393.3 L589.4 392.8 L590.4 392.7 L591.5 391.5 L592.5 391.4 L593.5 389.9 L594.6 390.2 L595.6 390 L596.7 390.1 L597.7 390.7 L598.7 389.5 L599.8 389.7 L600.8 388.2 L601.8 388.6 L602.9 387.2 L603.9 387.6 L604.9 387.3 L606 387.5 L607 387.3 L608.1 386.8 L609.1 386.4 L610.1 387.3 L611.2 386.2 L612.2 384.5 L613.2 386.1 L614.3 386 L615.3 386 L616.3 386.2 L617.4 384 L618.4 384.5 L619.5 384 L620.5 382.5 L621.5 381.7 L622.6 383.7 L623.6 381.9 L624.6 381.8 L625.7 381.5 L626.7 380.9 L627.8 380.8 L628.8 379.3 L629.8 379.5 L630.9 379.1 L631.9 378 L632.9 377.6 L634 377.2 L635 376.6 L636 374.8 L637.1 374.7 L638.1 374.1 L639.2 373.5 L640.2 371.9 L641.2 370.8 L642.3 368.2 L643.3 365.9 L644.3 364.8 L645.4 361 L646.4 357.8 L647.4 355.1 L648.5 352.2 L649.5 347 L650.6 343.4 L651.6 338.7 L652.6 333.1 L653.7 326.5 L654.7 319.5 L655.7 312.3 L656.8 305 L657.8 297.6 L658.9 288.6 L659.9 279.8 L660.9 269.7 L662 260.5 L663 248.5 L663 290.1 L662 298.3 L660.9 307.3 L659.9 315 L658.9 321.7 L657.8 330.6 L656.8 337.7 L655.7 342.7 L654.7 348.9 L653.7 353.5 L652.6 359.6 L651.6 365.2 L650.6 369.3 L649.5 373.9 L648.5 375.7 L647.4 379.4 L646.4 381.7 L645.4 385.8 L644.3 388.5 L643.3 391.8 L642.3 394 L641.2 395.3 L640.2 397.9 L639.2 397.8 L638.1 400.5 L637.1 401.7 L636 402.5 L635 402 L634 403.2 L632.9 405 L631.9 406.1 L630.9 407.1 L629.8 406.9 L628.8 407.8 L627.8 409.3 L626.7 410.2 L625.7 409.8 L624.6 410.6 L623.6 410.6 L622.6 411.1 L621.5 411 L620.5 411.7 L619.5 412.7 L618.4 412.1 L617.4 412.3 L616.3 412.3 L615.3 413.4 L614.3 413.1 L613.2 413.5 L612.2 413.6 L611.2 414.1 L610.1 414.4 L609.1 414.7 L608.1 413.9 L607 414.8 L606 416.5 L604.9 414.9 L603.9 414.3 L602.9 417 L601.8 417.2 L600.8 416.2 L599.8 416.5 L598.7 417 L597.7 418.1 L596.7 417.5 L595.6 418.9 L594.6 416.8 L593.5 418.4 L592.5 420.1 L591.5 420.1 L590.4 418.7 L589.4 419.5 L588.4 421.6 L587.3 421.1 L586.3 420.8 L585.2 420.9 L584.2 422.5 L583.2 422.7 L582.1 421.4 L581.1 424.7 L580.1 423.7 L579 424.5 L578 424.6 L577 425.2 L575.9 427.5 L574.9 427.1 L573.8 428.2 L572.8 429.9 L571.8 431.7 L570.7 434.6 L569.7 435.8 L568.7 437.6 L567.6 439.8 L566.6 441.6 L565.6 444.4 L564.5 446.2 L563.5 448.4 L562.4 449.2 L561.4 449.4 L560.4 450.5 L559.3 451.3 L558.3 451.3 L557.3 452.4 L556.2 451.5 L555.2 451.7 L554.1 451.4 L553.1 452.4 L552.1 451.6 L551 452.1 L550 451.5 L549 452.3 L547.9 452.1 L546.9 452.1 L545.9 452 L544.8 452.3 L543.8 451.8 L542.7 452.4 L541.7 452.1 L540.7 452.4 L539.6 452.1 L538.6 452.2 L537.6 451.9 L536.5 452.3 L535.5 451.8 L534.5 452.1 L533.4 452 L532.4 452.1 L531.3 452.2 L530.3 452.5 L529.3 452 L528.2 452.2 L527.2 452 L526.2 452.7 L525.1 452.5 L524.1 451.8 L523 452.1 L522 451.9 L521 452.1 L519.9 452 L518.9 451.7 L517.9 452.1 L516.8 452.1 L515.8 452.2 L514.8 452.2 L513.7 452 L512.7 451.9 L511.6 451.9 L510.6 451.4 L509.6 451.6 L508.5 451.6 L507.5 451.2 L506.5 450.7 L505.4 451.4 L504.4 450.5 L503.4 450 L502.3 449.2 L501.3 449.3 L500.2 448.3 L499.2 447.4 L498.2 447.9 L497.1 446 L496.1 445.3 L495.1 444.7 L494 443.2 L493 442.2 L491.9 442 L490.9 439.4 L489.9 439.4 L488.8 438.2 L487.8 436.5 L486.8 435.7 L485.7 435.2 L484.7 433.7 L483.7 433 L482.6 432.2 L481.6 432.1 L480.5 431.6 L479.5 430.9 L478.5 430.9 L477.4 429.7 L476.4 429.3 L475.4 428.8 L474.3 428.3 L473.3 427.7 L472.3 428.2 L471.2 427.1 L470.2 426.8 L469.1 426.6 L468.1 426.4 L467.1 426 L466 424.6 L465 426.5 L464 425.4 L462.9 424.5 L461.9 424 L460.8 423.9 L459.8 423.1 L458.8 422.7 L457.7 424 L456.7 422.4 L455.7 421.7 L454.6 422 L453.6 421.9 L452.6 420.6 L451.5 420.5 L450.5 419.4 L449.4 420.2 L448.4 420.6 L447.4 420.2 L446.3 420.8 L445.3 419.1 L444.3 419.2 L443.2 418.4 L442.2 419.1 L441.2 419.6 L440.1 419.2 L439.1 417.4 L438 417.5 L437 416.9 L436 416.4 L434.9 416.6 L433.9 417.4 L432.9 416.3 L431.8 416.9 L430.8 415.2 L429.7 415.8 L428.7 414 L427.7 415.6 L426.6 414.1 L425.6 414.1 L424.6 412.8 L423.5 411.6 L422.5 412.5 L421.5 412.8 L420.4 412.2 L419.4 410.3 L418.3 409.9 L417.3 410.6 L416.3 408.7 L415.2 408.2 L414.2 407.5 L413.2 407 L412.1 405.1 L411.1 404.7 L410.1 404 L409 404.3 L408 402.6 L406.9 402.5 L405.9 402.4 L404.9 400.3 L403.8 400.5 L402.8 398.6 L401.8 398.7 L400.7 398 L399.7 395.8 L398.6 394.4 L397.6 393.8 L396.6 393.9 L395.5 392.5 L394.5 392.1Z" fill="#d3f8f6" fill-opacity="0.85" filter="url(#b2)"/>
<path d="M394.5 366.6 L395.5 369.2 L396.6 370.1 L397.6 372.5 L398.6 371.7 L399.7 372.9 L400.7 375.1 L401.8 374.1 L402.8 374.7 L403.8 376.6 L404.9 377.1 L405.9 378.4 L406.9 377.8 L408 380.4 L409 380.3 L410.1 379.3 L411.1 381.6 L412.1 382 L413.2 383.3 L414.2 384.8 L415.2 384.6 L416.3 384.9 L417.3 386.7 L418.3 386.2 L419.4 386.1 L420.4 386.8 L421.5 389.4 L422.5 389.4 L423.5 390.4 L424.6 388.7 L425.6 389.5 L426.6 389.9 L427.7 391.5 L428.7 392.2 L429.7 391.6 L430.8 391.9 L431.8 393.1 L432.9 392.6 L433.9 392.6 L434.9 393.2 L436 394.5 L437 395.6 L438 394.5 L439.1 394.4 L440.1 395 L441.2 395.3 L442.2 395.8 L443.2 394.9 L444.3 395.7 L445.3 395.8 L446.3 396.9 L447.4 396.9 L448.4 396.7 L449.4 397.9 L450.5 398.5 L451.5 398.1 L452.6 397.4 L453.6 398.6 L454.6 398.1 L455.7 399.8 L456.7 400.4 L457.7 401.7 L458.8 401.7 L459.8 400.7 L460.8 402 L461.9 402.3 L462.9 402.8 L464 403.8 L465 404.4 L466 404.7 L467.1 404.7 L468.1 405.3 L469.1 405.7 L470.2 406.4 L471.2 407.5 L472.3 407.6 L473.3 408.6 L474.3 407.9 L475.4 410.5 L476.4 410 L477.4 409 L478.5 411.5 L479.5 412.8 L480.5 413 L481.6 413.1 L482.6 414.9 L483.7 415.5 L484.7 416.8 L485.7 418.3 L486.8 417.7 L487.8 420.7 L488.8 422.5 L489.9 424 L490.9 425.1 L491.9 426.6 L493 427.9 L494 429.6 L495.1 431.7 L496.1 432.4 L497.1 434.1 L498.2 435.4 L499.2 436.9 L500.2 437.5 L501.3 438.5 L502.3 439.1 L503.4 440.2 L504.4 440.4 L505.4 440.8 L506.5 441.6 L507.5 441.8 L508.5 442.2 L509.6 442 L510.6 443.1 L511.6 442.6 L512.7 443 L513.7 442.7 L514.8 442.4 L515.8 442.9 L516.8 442.7 L517.9 443 L518.9 442.2 L519.9 442.5 L521 442.5 L522 443.2 L523 443.1 L524.1 442.5 L525.1 442.9 L526.2 442.9 L527.2 442.8 L528.2 443.2 L529.3 442.6 L530.3 442.9 L531.3 442.7 L532.4 443 L533.4 442.7 L534.5 443.1 L535.5 442.6 L536.5 442.5 L537.6 442.6 L538.6 442.7 L539.6 442.7 L540.7 443.6 L541.7 442.6 L542.7 442.9 L543.8 442.8 L544.8 442.9 L545.9 443.2 L546.9 443 L547.9 442.6 L549 442.4 L550 443 L551 443.1 L552.1 442.4 L553.1 443 L554.1 442.2 L555.2 442.8 L556.2 443 L557.3 442.4 L558.3 441.7 L559.3 441.9 L560.4 440 L561.4 439.5 L562.4 437.3 L563.5 435.5 L564.5 433 L565.6 429 L566.6 425.9 L567.6 422.6 L568.7 419.7 L569.7 417.2 L570.7 414.9 L571.8 412.5 L572.8 410.3 L573.8 409 L574.9 407.3 L575.9 407.6 L577 404.7 L578 403.8 L579 401.1 L580.1 401.6 L581.1 401.7 L582.1 400.3 L583.2 400.9 L584.2 399.8 L585.2 400.2 L586.3 397.1 L587.3 397.2 L588.4 398 L589.4 396.7 L590.4 395.4 L591.5 395.3 L592.5 395.1 L593.5 395.7 L594.6 395.1 L595.6 394.2 L596.7 393.2 L597.7 394.3 L598.7 394.2 L599.8 392.2 L600.8 393.5 L601.8 391.7 L602.9 392.1 L603.9 391.4 L604.9 390.5 L606 391.1 L607 390.8 L608.1 391.9 L609.1 391.5 L610.1 390.3 L611.2 389.3 L612.2 389.2 L613.2 388.2 L614.3 389.5 L615.3 389.3 L616.3 388.4 L617.4 388.8 L618.4 388.5 L619.5 389 L620.5 387 L621.5 388.3 L622.6 386.6 L623.6 387.7 L624.6 385.3 L625.7 386.5 L626.7 384.6 L627.8 386 L628.8 384.6 L629.8 382.9 L630.9 383.9 L631.9 382.6 L632.9 382.4 L634 383.1 L635 380.4 L636 379.4 L637.1 379.6 L638.1 377.4 L639.2 377.2 L640.2 376.1 L641.2 373.8 L642.3 372.3 L643.3 368.1 L644.3 368.2 L645.4 364 L646.4 361 L647.4 359.7 L648.5 356.1 L649.5 350.6 L650.6 346.6 L651.6 341.1 L652.6 335.2 L653.7 330 L654.7 324.1 L655.7 318.3 L656.8 308.6 L657.8 301.3 L658.9 291.8 L659.9 283 L660.9 274.8 L662 261.9 L663 251.9 L663 283.5 L662 292.1 L660.9 299.2 L659.9 307.2 L658.9 317.6 L657.8 324.8 L656.8 331.4 L655.7 337.3 L654.7 343.9 L653.7 348 L652.6 354.9 L651.6 359.7 L650.6 365.4 L649.5 369.1 L648.5 373.2 L647.4 376 L646.4 378 L645.4 382.1 L644.3 384.3 L643.3 387.3 L642.3 390.9 L641.2 391.1 L640.2 394.2 L639.2 395.4 L638.1 396.2 L637.1 396.8 L636 398.5 L635 398.6 L634 401.1 L632.9 401.2 L631.9 403 L630.9 403.4 L629.8 403.7 L628.8 402.8 L627.8 403.8 L626.7 404.9 L625.7 406.3 L624.6 405.5 L623.6 405.4 L622.6 408.6 L621.5 406.9 L620.5 406.8 L619.5 408.3 L618.4 408.7 L617.4 408.8 L616.3 409.2 L615.3 409.9 L614.3 408.9 L613.2 410.2 L612.2 409.4 L611.2 409.1 L610.1 410.4 L609.1 411.5 L608.1 412.2 L607 410.7 L606 411.3 L604.9 411.6 L603.9 412.8 L602.9 412.2 L601.8 411.9 L600.8 411.7 L599.8 413.5 L598.7 412.1 L597.7 411.8 L596.7 412.9 L595.6 414.6 L594.6 414.9 L593.5 412.7 L592.5 414.9 L591.5 416 L590.4 417 L589.4 416.2 L588.4 416.8 L587.3 416.7 L586.3 417.6 L585.2 417.9 L584.2 418.9 L583.2 418.7 L582.1 418.6 L581.1 420.2 L580.1 420.2 L579 420.5 L578 423 L577 422.2 L575.9 421.5 L574.9 424.6 L573.8 424.5 L572.8 426.4 L571.8 428 L570.7 431.3 L569.7 431.1 L568.7 434 L567.6 435.9 L566.6 439.1 L565.6 440.2 L564.5 443.8 L563.5 445.4 L562.4 446.4 L561.4 447.4 L560.4 448 L559.3 449.2 L558.3 449.7 L557.3 449.4 L556.2 449.9 L555.2 449.4 L554.1 449.9 L553.1 449.5 L552.1 449.4 L551 449.8 L550 449.2 L549 449.4 L547.9 450.1 L546.9 449.6 L545.9 449.5 L544.8 449.9 L543.8 449.6 L542.7 450 L541.7 449.4 L540.7 449.6 L539.6 449.4 L538.6 449.8 L537.6 449.7 L536.5 450.4 L535.5 449.5 L534.5 449.8 L533.4 449.3 L532.4 449.8 L531.3 449.9 L530.3 450 L529.3 449.7 L528.2 449.5 L527.2 450.2 L526.2 449.4 L525.1 450.2 L524.1 449.7 L523 449.5 L522 449.6 L521 449.5 L519.9 450 L518.9 449.7 L517.9 450.1 L516.8 449.7 L515.8 449.3 L514.8 449.5 L513.7 450 L512.7 449.3 L511.6 449.3 L510.6 449.4 L509.6 449.1 L508.5 448.9 L507.5 449.1 L506.5 448.7 L505.4 448.7 L504.4 448.2 L503.4 447.5 L502.3 446.9 L501.3 446.6 L500.2 445.8 L499.2 444.9 L498.2 443.9 L497.1 443.7 L496.1 442.5 L495.1 441.6 L494 440.9 L493 439.1 L491.9 438.9 L490.9 437.8 L489.9 436.2 L488.8 434.9 L487.8 434.5 L486.8 432.1 L485.7 430.9 L484.7 430.4 L483.7 429.1 L482.6 428.9 L481.6 429.3 L480.5 427.6 L479.5 427.8 L478.5 426.8 L477.4 425.9 L476.4 425.8 L475.4 425.7 L474.3 425.6 L473.3 425.8 L472.3 424.8 L471.2 423.7 L470.2 422.2 L469.1 423 L468.1 422.4 L467.1 423 L466 422.2 L465 423.2 L464 421.3 L462.9 420.7 L461.9 421.1 L460.8 420.5 L459.8 419.4 L458.8 420.3 L457.7 419.8 L456.7 419 L455.7 417.5 L454.6 417.5 L453.6 416.8 L452.6 417.4 L451.5 417.5 L450.5 416.9 L449.4 415.1 L448.4 416 L447.4 416.8 L446.3 417.2 L445.3 415.2 L444.3 414.9 L443.2 416 L442.2 413.6 L441.2 415.1 L440.1 414.9 L439.1 414.2 L438 414 L437 413.7 L436 414.6 L434.9 411.5 L433.9 412.5 L432.9 413.5 L431.8 412.4 L430.8 413 L429.7 410.3 L428.7 410.8 L427.7 410.1 L426.6 411 L425.6 410.7 L424.6 409.6 L423.5 409.1 L422.5 407.8 L421.5 408.3 L420.4 406 L419.4 406.4 L418.3 406.7 L417.3 405 L416.3 404.5 L415.2 403.9 L414.2 404.1 L413.2 402.3 L412.1 401.9 L411.1 401.1 L410.1 401.3 L409 399.7 L408 398.5 L406.9 396 L405.9 397.5 L404.9 397.6 L403.8 395.3 L402.8 395.2 L401.8 394.2 L400.7 393.5 L399.7 391.4 L398.6 391.1 L397.6 390.1 L396.6 389.2 L395.5 387.7 L394.5 388.4Z" fill="#8eeaea" fill-opacity="0.75" filter="url(#b2)"/>
<path d="M394.5 372 L395.5 372.6 L396.6 373.2 L397.6 374.7 L398.6 376 L399.7 377.5 L400.7 378.4 L401.8 378.9 L402.8 379.3 L403.8 380.1 L404.9 381.1 L405.9 382 L406.9 382.3 L408 383.4 L409 384.1 L410.1 384.9 L411.1 386.3 L412.1 387.4 L413.2 387.1 L414.2 387.9 L415.2 389 L416.3 389.8 L417.3 388.7 L418.3 391.3 L419.4 391.5 L420.4 391.7 L421.5 393.2 L422.5 392.9 L423.5 392.2 L424.6 393.3 L425.6 393.9 L426.6 394.4 L427.7 395.1 L428.7 394.9 L429.7 396.1 L430.8 396.6 L431.8 396.6 L432.9 396.4 L433.9 397.1 L434.9 397.2 L436 399.3 L437 397.5 L438 397 L439.1 397.9 L440.1 399.3 L441.2 399.9 L442.2 399.3 L443.2 400.4 L444.3 399.5 L445.3 400.6 L446.3 399.8 L447.4 399.8 L448.4 402.4 L449.4 401.2 L450.5 402.2 L451.5 403 L452.6 402.9 L453.6 403.1 L454.6 402.7 L455.7 404.8 L456.7 403.6 L457.7 403.5 L458.8 404.9 L459.8 405.4 L460.8 406.2 L461.9 407.4 L462.9 406.8 L464 407.4 L465 407.7 L466 407 L467.1 408.5 L468.1 409.1 L469.1 408.9 L470.2 410.9 L471.2 411.3 L472.3 411.3 L473.3 411.9 L474.3 411.7 L475.4 412.8 L476.4 412.4 L477.4 413.2 L478.5 414.3 L479.5 415.6 L480.5 415.9 L481.6 416.7 L482.6 418.5 L483.7 418.8 L484.7 419.6 L485.7 420.9 L486.8 421.6 L487.8 423.1 L488.8 425.3 L489.9 426.3 L490.9 428.2 L491.9 429 L493 430.9 L494 431.6 L495.1 433.2 L496.1 434.4 L497.1 436 L498.2 437.7 L499.2 437.7 L500.2 439.2 L501.3 439.6 L502.3 440.7 L503.4 441.3 L504.4 441.6 L505.4 442.4 L506.5 442.5 L507.5 443.5 L508.5 443.3 L509.6 443.8 L510.6 444 L511.6 444 L512.7 444 L513.7 443.7 L514.8 444.6 L515.8 444.2 L516.8 444.4 L517.9 444 L518.9 444.4 L519.9 444.2 L521 444.4 L522 444.2 L523 444.1 L524.1 444.4 L525.1 444.3 L526.2 444.7 L527.2 444.3 L528.2 444.2 L529.3 444.5 L530.3 444.1 L531.3 444.8 L532.4 444.8 L533.4 444.7 L534.5 444.5 L535.5 444.4 L536.5 444.4 L537.6 444.4 L538.6 444.2 L539.6 444.5 L540.7 444.6 L541.7 444.6 L542.7 443.9 L543.8 444.9 L544.8 444.4 L545.9 444 L546.9 444.2 L547.9 444.5 L549 444.3 L550 444.1 L551 444 L552.1 444.5 L553.1 444.1 L554.1 444.2 L555.2 444 L556.2 443.9 L557.3 444.2 L558.3 444.1 L559.3 442.9 L560.4 441.7 L561.4 440.9 L562.4 439.6 L563.5 436.6 L564.5 434.8 L565.6 431.2 L566.6 429.1 L567.6 426.2 L568.7 423.4 L569.7 419.9 L570.7 418.4 L571.8 415.8 L572.8 414.4 L573.8 411.8 L574.9 411 L575.9 409.4 L577 409.2 L578 407.9 L579 406.2 L580.1 406.2 L581.1 405 L582.1 404.4 L583.2 404.3 L584.2 404.5 L585.2 402.3 L586.3 402.3 L587.3 401.2 L588.4 402.7 L589.4 402 L590.4 401.9 L591.5 400.6 L592.5 399 L593.5 398.9 L594.6 399 L595.6 398.5 L596.7 397.8 L597.7 398.1 L598.7 397.4 L599.8 397.3 L600.8 398.6 L601.8 397.1 L602.9 395.7 L603.9 396.7 L604.9 396.3 L606 396.4 L607 396.1 L608.1 394.8 L609.1 395.5 L610.1 395.8 L611.2 396.9 L612.2 395 L613.2 395.6 L614.3 395.3 L615.3 393.2 L616.3 393 L617.4 394.4 L618.4 392.2 L619.5 392.1 L620.5 392.6 L621.5 391.2 L622.6 392.4 L623.6 391.7 L624.6 391.4 L625.7 390.8 L626.7 389 L627.8 390 L628.8 389.3 L629.8 388.7 L630.9 387.3 L631.9 387.1 L632.9 385.7 L634 385.9 L635 385.5 L636 384.1 L637.1 382.8 L638.1 382.3 L639.2 380.4 L640.2 378.1 L641.2 377.9 L642.3 375.5 L643.3 372.5 L644.3 371.1 L645.4 368.4 L646.4 365.6 L647.4 361.6 L648.5 358 L649.5 354.2 L650.6 349.5 L651.6 343.8 L652.6 338.5 L653.7 333.7 L654.7 326.8 L655.7 320 L656.8 312.1 L657.8 304.7 L658.9 296.6 L659.9 287.8 L660.9 279.4 L662 268.2 L663 258.2 L663 274.9 L662 283.5 L660.9 294 L659.9 303.3 L658.9 309.4 L657.8 315.6 L656.8 325.1 L655.7 331.6 L654.7 338 L653.7 345.4 L652.6 349.7 L651.6 355.6 L650.6 360.2 L649.5 364.4 L648.5 367.8 L647.4 372.3 L646.4 375.4 L645.4 376.4 L644.3 380.7 L643.3 383.1 L642.3 386.6 L641.2 386.5 L640.2 389.4 L639.2 390.9 L638.1 393.5 L637.1 392.9 L636 394.8 L635 393.8 L634 395.6 L632.9 396.6 L631.9 398.8 L630.9 398.2 L629.8 400.4 L628.8 400.6 L627.8 399.9 L626.7 399.5 L625.7 401.3 L624.6 401.4 L623.6 401.5 L622.6 403 L621.5 403.2 L620.5 402.4 L619.5 402.5 L618.4 403.9 L617.4 405.2 L616.3 405.1 L615.3 406.1 L614.3 405.1 L613.2 403.8 L612.2 406.4 L611.2 406.3 L610.1 405.9 L609.1 406.3 L608.1 405.7 L607 406.2 L606 407.2 L604.9 406 L603.9 408 L602.9 407.7 L601.8 408 L600.8 408.3 L599.8 409.1 L598.7 408.9 L597.7 408.5 L596.7 409.1 L595.6 408.8 L594.6 409.1 L593.5 410.7 L592.5 409.7 L591.5 410.7 L590.4 411.4 L589.4 411.9 L588.4 412.1 L587.3 413.2 L586.3 412.3 L585.2 413.5 L584.2 413.1 L583.2 415 L582.1 415.5 L581.1 417.1 L580.1 416.3 L579 416.2 L578 417 L577 418.1 L575.9 418.9 L574.9 419.7 L573.8 421.9 L572.8 421.4 L571.8 423.8 L570.7 426.5 L569.7 428.6 L568.7 430.8 L567.6 434.6 L566.6 435.6 L565.6 438 L564.5 441.1 L563.5 442.9 L562.4 444.8 L561.4 446.2 L560.4 446.5 L559.3 447.3 L558.3 447.6 L557.3 448.1 L556.2 447.9 L555.2 448.6 L554.1 448.4 L553.1 448 L552.1 448.6 L551 447.9 L550 448.2 L549 448.5 L547.9 448.6 L546.9 448.1 L545.9 448.3 L544.8 448.3 L543.8 448.3 L542.7 448.2 L541.7 447.8 L540.7 448.4 L539.6 448.5 L538.6 448.6 L537.6 448.2 L536.5 448 L535.5 447.8 L534.5 448.2 L533.4 448.3 L532.4 447.9 L531.3 448 L530.3 448.3 L529.3 448.1 L528.2 448.4 L527.2 448.3 L526.2 448.3 L525.1 448.1 L524.1 448.3 L523 447.9 L522 448.4 L521 448.2 L519.9 448.3 L518.9 448 L517.9 447.6 L516.8 448.1 L515.8 448.2 L514.8 448 L513.7 447.7 L512.7 447.9 L511.6 447.7 L510.6 447.9 L509.6 448 L508.5 447.3 L507.5 447.2 L506.5 446.6 L505.4 446.6 L504.4 445.9 L503.4 446 L502.3 445.4 L501.3 444.7 L500.2 444.1 L499.2 443.6 L498.2 442.1 L497.1 441.2 L496.1 440.6 L495.1 438.9 L494 438.1 L493 437.3 L491.9 436 L490.9 435 L489.9 433.5 L488.8 432.1 L487.8 430.5 L486.8 429.1 L485.7 428.4 L484.7 426.9 L483.7 427.1 L482.6 425.8 L481.6 425 L480.5 425.8 L479.5 423.6 L478.5 423.5 L477.4 423 L476.4 421.6 L475.4 421.9 L474.3 421.2 L473.3 421 L472.3 420.6 L471.2 420.7 L470.2 420.2 L469.1 419.3 L468.1 419.3 L467.1 418.6 L466 417.9 L465 417.9 L464 417.4 L462.9 417.9 L461.9 417.5 L460.8 415.5 L459.8 416.8 L458.8 415 L457.7 414.2 L456.7 413.8 L455.7 413.8 L454.6 414.1 L453.6 413.2 L452.6 413.5 L451.5 413.2 L450.5 412 L449.4 411.2 L448.4 411.4 L447.4 410.7 L446.3 411.7 L445.3 412.2 L444.3 411.2 L443.2 410.7 L442.2 410.6 L441.2 410 L440.1 410.2 L439.1 409.9 L438 410 L437 408.7 L436 409.2 L434.9 409.2 L433.9 409.4 L432.9 409.2 L431.8 407.6 L430.8 407.1 L429.7 407.5 L428.7 406.5 L427.7 406 L426.6 406.5 L425.6 405.3 L424.6 404.9 L423.5 403.6 L422.5 403.7 L421.5 404.1 L420.4 403.7 L419.4 402.7 L418.3 401.6 L417.3 401.5 L416.3 400.4 L415.2 399.9 L414.2 399.8 L413.2 398.9 L412.1 397.9 L411.1 397.6 L410.1 396.1 L409 395.5 L408 395 L406.9 393.5 L405.9 392.7 L404.9 391.1 L403.8 391.4 L402.8 389.8 L401.8 390 L400.7 388.5 L399.7 388.4 L398.6 386.3 L397.6 385.5 L396.6 384.9 L395.5 383.6 L394.5 383.6Z" fill="#62dede" fill-opacity="0.6" filter="url(#b1)"/>
<path d="M394.5 377.8 L395.5 378.7 L396.6 379.6 L397.6 380.6 L398.6 381.5 L399.7 382.4 L400.7 383.3 L401.8 384.1 L402.8 385 L403.8 385.8 L404.9 386.6 L405.9 387.5 L406.9 388.3 L408 389.1 L409 389.9 L410.1 390.7 L411.1 391.5 L412.1 392.2 L413.2 393 L414.2 393.7 L415.2 394.4 L416.3 395.1 L417.3 395.7 L418.3 396.4 L419.4 396.9 L420.4 397.5 L421.5 398 L422.5 398.5 L423.5 398.9 L424.6 399.4 L425.6 399.9 L426.6 400.3 L427.7 400.7 L428.7 401.1 L429.7 401.5 L430.8 401.9 L431.8 402.2 L432.9 402.6 L433.9 402.9 L434.9 403.2 L436 403.5 L437 403.8 L438 404.1 L439.1 404.3 L440.1 404.6 L441.2 404.8 L442.2 405.1 L443.2 405.3 L444.3 405.5 L445.3 405.8 L446.3 406 L447.4 406.3 L448.4 406.5 L449.4 406.8 L450.5 407.2 L451.5 407.5 L452.6 407.9 L453.6 408.2 L454.6 408.6 L455.7 409.1 L456.7 409.5 L457.7 409.9 L458.8 410.4 L459.8 410.8 L460.8 411.3 L461.9 411.7 L462.9 412.1 L464 412.6 L465 413 L466 413.4 L467.1 413.8 L468.1 414.2 L469.1 414.5 L470.2 414.9 L471.2 415.3 L472.3 415.7 L473.3 416.2 L474.3 416.7 L475.4 417.2 L476.4 417.8 L477.4 418.4 L478.5 419 L479.5 419.7 L480.5 420.5 L481.6 421.3 L482.6 422.1 L483.7 422.9 L484.7 423.9 L485.7 424.9 L486.8 426 L487.8 427.2 L488.8 428.5 L489.9 429.8 L490.9 431.1 L491.9 432.4 L493 433.6 L494 434.8 L495.1 436.1 L496.1 437.4 L497.1 438.6 L498.2 439.7 L499.2 440.7 L500.2 441.5 L501.3 442.3 L502.3 443 L503.4 443.6 L504.4 444.1 L505.4 444.5 L506.5 444.9 L507.5 445.2 L508.5 445.5 L509.6 445.7 L510.6 445.9 L511.6 446 L512.7 446 L513.7 446.1 L514.8 446.1 L515.8 446.1 L516.8 446.1 L517.9 446.2 L518.9 446.2 L519.9 446.2 L521 446.2 L522 446.2 L523 446.3 L524.1 446.3 L525.1 446.3 L526.2 446.3 L527.2 446.3 L528.2 446.3 L529.3 446.3 L530.3 446.3 L531.3 446.3 L532.4 446.3 L533.4 446.3 L534.5 446.3 L535.5 446.3 L536.5 446.3 L537.6 446.3 L538.6 446.3 L539.6 446.3 L540.7 446.3 L541.7 446.3 L542.7 446.3 L543.8 446.3 L544.8 446.3 L545.9 446.3 L546.9 446.3 L547.9 446.3 L549 446.3 L550 446.3 L551 446.2 L552.1 446.2 L553.1 446.2 L554.1 446.2 L555.2 446.2 L556.2 446.2 L557.3 446.1 L558.3 445.7 L559.3 445.1 L560.4 444.2 L561.4 443.3 L562.4 441.9 L563.5 439.8 L564.5 437.2 L565.6 434.5 L566.6 432 L567.6 429.6 L568.7 427.1 L569.7 424.5 L570.7 422 L571.8 419.8 L572.8 418 L573.8 416.6 L574.9 415.4 L575.9 414.4 L577 413.4 L578 412.6 L579 411.8 L580.1 411.1 L581.1 410.5 L582.1 409.9 L583.2 409.3 L584.2 408.8 L585.2 408.3 L586.3 407.8 L587.3 407.3 L588.4 406.8 L589.4 406.4 L590.4 406 L591.5 405.6 L592.5 405.2 L593.5 404.8 L594.6 404.5 L595.6 404.1 L596.7 403.8 L597.7 403.5 L598.7 403.2 L599.8 402.9 L600.8 402.7 L601.8 402.4 L602.9 402.2 L603.9 401.9 L604.9 401.7 L606 401.5 L607 401.3 L608.1 401.1 L609.1 400.8 L610.1 400.6 L611.2 400.4 L612.2 400.1 L613.2 399.9 L614.3 399.6 L615.3 399.3 L616.3 399 L617.4 398.7 L618.4 398.3 L619.5 398 L620.5 397.6 L621.5 397.3 L622.6 396.9 L623.6 396.5 L624.6 396 L625.7 395.6 L626.7 395.1 L627.8 394.6 L628.8 394.1 L629.8 393.5 L630.9 392.9 L631.9 392.2 L632.9 391.5 L634 390.8 L635 389.9 L636 389 L637.1 387.9 L638.1 386.8 L639.2 385.5 L640.2 384.1 L641.2 382.4 L642.3 380.3 L643.3 378 L644.3 375.3 L645.4 372.4 L646.4 369.3 L647.4 366 L648.5 362.4 L649.5 358.2 L650.6 353.5 L651.6 348.4 L652.6 342.9 L653.7 337.1 L654.7 331.1 L655.7 324.6 L656.8 317.4 L657.8 309.6 L658.9 301.4 L659.9 292.9 L660.9 283.9 L662 274.2 L663 264" fill="none" stroke="#1420d4" stroke-width="1.9" stroke-opacity="1" stroke-linejoin="round" stroke-linecap="round"/>
</g>
<rect x="392" y="264.3" width="273.8" height="203.3" fill="none" stroke="#151515" stroke-width="1.3"/>
<line x1="394.4" y1="467.6" x2="394.4" y2="470.2" stroke="#1a1a1a" stroke-width="1.1"/>
<text x="394.4" y="484" font-size="13" text-anchor="middle">-1.0</text>
<line x1="461.4" y1="467.6" x2="461.4" y2="470.2" stroke="#1a1a1a" stroke-width="1.1"/>
<text x="461.4" y="484" font-size="13" text-anchor="middle">-0.5</text>
<line x1="528.4" y1="467.6" x2="528.4" y2="470.2" stroke="#1a1a1a" stroke-width="1.1"/>
<text x="528.4" y="484" font-size="13" text-anchor="middle">0.0</text>
<line x1="595.4" y1="467.6" x2="595.4" y2="470.2" stroke="#1a1a1a" stroke-width="1.1"/>
<text x="595.4" y="484" font-size="13" text-anchor="middle">0.5</text>
<line x1="662.4" y1="467.6" x2="662.4" y2="470.2" stroke="#1a1a1a" stroke-width="1.1"/>
<text x="662.4" y="484" font-size="13" text-anchor="middle">1.0</text>
<line x1="389.6" y1="284.4" x2="392" y2="284.4" stroke="#1a1a1a" stroke-width="1.1"/>
<text x="382.2" y="289.1" font-size="13" text-anchor="end">0.4</text>
<line x1="389.6" y1="448" x2="392" y2="448" stroke="#1a1a1a" stroke-width="1.1"/>
<text x="382.2" y="457.7" font-size="13" text-anchor="end">0.0</text>
<text x="533" y="503" font-size="14.4" text-anchor="middle">Voltage (V)</text>
<text transform="translate(358 366) rotate(-90)" font-size="14.4" text-anchor="middle">dI/dV (nS)</text>
<text x="345" y="284.8" font-size="20" font-weight="bold">e</text>
<line x1="497" y1="382.3" x2="497" y2="419.5" stroke="#8c1a12" stroke-width="1.8"/>
<path d="M493.9 418.5 L500.1 418.5 L497 425 Z" fill="#8c1a12"/>
<line x1="564.9" y1="382.3" x2="564.9" y2="419.5" stroke="#8c1a12" stroke-width="1.8"/>
<path d="M561.8 418.5 L568 418.5 L564.9 425 Z" fill="#8c1a12"/>
<g clip-path="url(#cf)">
<path d="M720.5 405.7 L722.1 420.7 L723.6 425.5 L725.1 427.5 L726.7 429 L728.2 425.3 L729.8 421.1 L731.3 424.5 L732.8 423.6 L734.4 425.2 L735.9 423.9 L737.5 417.1 L739 417.9 L740.5 422.6 L742.1 422 L743.6 420 L745.1 416.2 L746.7 421.3 L748.2 417.7 L749.8 423.4 L751.3 420 L752.8 413.9 L754.4 411.6 L755.9 417.3 L757.5 415.4 L759 409.9 L760.5 413.2 L762.1 413.4 L763.6 410 L765.2 410.9 L766.7 407.9 L768.2 408.8 L769.8 413.1 L771.3 411.6 L772.9 411.3 L774.4 415.4 L775.9 414.1 L777.5 408 L779 416 L780.6 408 L782.1 410.3 L783.6 411.7 L785.2 409.8 L786.7 410.2 L788.2 408.1 L789.8 413.5 L791.3 413.3 L792.9 413.7 L794.4 407.4 L795.9 410.7 L797.5 417.2 L799 416.1 L800.6 418.3 L802.1 417.1 L803.6 417.8 L805.2 412.6 L806.7 427.3 L808.3 420 L809.8 424.6 L811.3 431.5 L812.9 432.4 L814.4 435.4 L816 434.5 L817.5 432 L819 440.2 L820.6 431.2 L822.1 435.2 L823.6 427 L825.2 428.2 L826.7 423.1 L828.3 422.2 L829.8 416.8 L831.3 417 L832.9 417.2 L834.4 409.9 L836 407.4 L837.5 400.6 L839 412.2 L840.6 405.2 L842.1 400.9 L843.7 408 L845.2 404.7 L846.7 397.3 L848.3 399.5 L849.8 406.6 L851.4 399.4 L852.9 400.1 L854.4 401.3 L856 402.6 L857.5 403 L859 406.4 L860.6 405.3 L862.1 401.3 L863.7 403.1 L865.2 397.7 L866.7 404.5 L868.3 410.9 L869.8 404.3 L871.4 402.3 L872.9 401.9 L874.4 402.7 L876 405.3 L877.5 397.8 L879.1 403.6 L880.6 396.7 L882.1 396.4 L883.7 392.9 L885.2 368.2 L886.8 377.8 L888.3 363.6 L889.8 352.3 L891.4 351.7 L892.9 347.3 L894.4 350.6 L896 353.1 L897.5 346.3 L899.1 356.2 L900.6 359.8 L902.1 369.1 L903.7 374.2 L905.2 374.1 L906.8 378.2 L908.3 383.5 L909.8 388.7 L911.4 386.3 L912.9 395 L914.5 391.7 L916 392.2 L917.5 394.8 L919.1 392.2 L920.6 395.2 L922.2 395.8 L923.7 387.9 L925.2 391.4 L926.8 390.1 L928.3 393.8 L929.8 391.1 L931.4 391.8 L932.9 390.5 L934.5 387 L936 395.2 L937.5 393.7 L939.1 394.7 L940.6 405.6 L942.2 399 L943.7 394.3 L945.2 391.6 L946.8 394.3 L948.3 387.7 L949.9 386.1 L951.4 390.6 L952.9 384.1 L954.5 382.6 L956 386.3 L957.6 390.4 L959.1 382.3 L960.6 386.9 L962.2 386.8 L963.7 383.6 L965.2 382.5 L966.8 372.5 L968.3 368.4 L969.9 359.9 L971.4 352.4 L972.9 347.1 L974.5 328.7 L976 300.2 L977.6 284.8 L979.1 222.5 L980.6 222.6 L980.6 297.2 L979.1 328.2 L977.6 340.7 L976 377.7 L974.5 384.5 L972.9 388.2 L971.4 397.6 L969.9 401 L968.3 401.8 L966.8 404.1 L965.2 409.9 L963.7 417.3 L962.2 409.2 L960.6 412.8 L959.1 414.6 L957.6 409.7 L956 415.8 L954.5 415.3 L952.9 419 L951.4 411.4 L949.9 419.1 L948.3 419.3 L946.8 418.5 L945.2 423.6 L943.7 419.2 L942.2 419 L940.6 419.9 L939.1 418.4 L937.5 418.1 L936 424.8 L934.5 415.9 L932.9 419.4 L931.4 414.1 L929.8 420 L928.3 421.1 L926.8 416.1 L925.2 417.9 L923.7 417.6 L922.2 417.7 L920.6 415.6 L919.1 415.3 L917.5 412.1 L916 417.8 L914.5 416 L912.9 413.9 L911.4 415.2 L909.8 414.1 L908.3 410.5 L906.8 406.6 L905.2 402.6 L903.7 400.2 L902.1 398.1 L900.6 392.5 L899.1 387.7 L897.5 378.9 L896 380.7 L894.4 375.9 L892.9 369.7 L891.4 380.1 L889.8 392.7 L888.3 396.4 L886.8 400.6 L885.2 419.1 L883.7 419.4 L882.1 421.9 L880.6 422.7 L879.1 428.2 L877.5 427.8 L876 424.7 L874.4 429.8 L872.9 427.3 L871.4 430.9 L869.8 427.3 L868.3 430 L866.7 430.2 L865.2 428.6 L863.7 431.4 L862.1 432.3 L860.6 426.7 L859 430.2 L857.5 426.3 L856 428.6 L854.4 432.3 L852.9 427.9 L851.4 433.6 L849.8 428 L848.3 427.7 L846.7 431.5 L845.2 421.6 L843.7 428.4 L842.1 434.7 L840.6 429.4 L839 435.6 L837.5 429.9 L836 433.5 L834.4 436.3 L832.9 440.7 L831.3 449.6 L829.8 439.7 L828.3 444.1 L826.7 451.5 L825.2 460.9 L823.6 455 L822.1 462.2 L820.6 462 L819 458.3 L817.5 458.7 L816 452.6 L814.4 459.3 L812.9 454.4 L811.3 456.9 L809.8 450.6 L808.3 449.3 L806.7 450.3 L805.2 442 L803.6 437.7 L802.1 445.7 L800.6 439 L799 443 L797.5 436.7 L795.9 438.8 L794.4 438.3 L792.9 437.9 L791.3 437 L789.8 437 L788.2 436.1 L786.7 440.6 L785.2 432.4 L783.6 433.2 L782.1 436.1 L780.6 434.5 L779 434.8 L777.5 436.7 L775.9 436.9 L774.4 436.3 L772.9 437.4 L771.3 438.8 L769.8 435.3 L768.2 437.7 L766.7 439.6 L765.2 436 L763.6 435.3 L762.1 437.8 L760.5 430.4 L759 438.4 L757.5 442.8 L755.9 439.6 L754.4 437.5 L752.8 445.8 L751.3 441 L749.8 441.2 L748.2 444 L746.7 445.4 L745.1 443.4 L743.6 442.4 L742.1 441 L740.5 441 L739 434.5 L737.5 447.1 L735.9 447.8 L734.4 447.1 L732.8 445.4 L731.3 449.5 L729.8 450.5 L728.2 450.2 L726.7 449.7 L725.1 452.2 L723.6 455.7 L722.1 459.4 L720.5 446.3Z" fill="#e6e3e0" fill-opacity="0.8" filter="url(#b2)"/>
<path d="M720.5 412.6 L722.1 422 L723.6 430.7 L725.1 433.4 L726.7 429.5 L728.2 424.8 L729.8 428.1 L731.3 426.2 L732.8 424.4 L734.4 429.3 L735.9 422.1 L737.5 422.7 L739 421.7 L740.5 425.2 L742.1 424.4 L743.6 423.6 L745.1 421.1 L746.7 421.2 L748.2 420.7 L749.8 415.9 L751.3 416.4 L752.8 420.9 L754.4 419.9 L755.9 413.1 L757.5 417.6 L759 412.6 L760.5 411.7 L762.1 416.9 L763.6 416.1 L765.2 415.1 L766.7 417.4 L768.2 417.6 L769.8 416.1 L771.3 412.8 L772.9 416.1 L774.4 415.4 L775.9 416.1 L777.5 418.3 L779 411.1 L780.6 420.9 L782.1 416.6 L783.6 413.7 L785.2 418.8 L786.7 413.9 L788.2 412.6 L789.8 418.2 L791.3 415.8 L792.9 419.6 L794.4 415.8 L795.9 417.3 L797.5 417.5 L799 415.3 L800.6 418.6 L802.1 417.5 L803.6 420.7 L805.2 426.9 L806.7 424.5 L808.3 425.8 L809.8 434 L811.3 429.2 L812.9 435.6 L814.4 436.7 L816 440.7 L817.5 438.8 L819 438.5 L820.6 440 L822.1 437.6 L823.6 441.4 L825.2 429.7 L826.7 434.1 L828.3 434.2 L829.8 427.1 L831.3 423.4 L832.9 416.7 L834.4 418.5 L836 412.8 L837.5 413.9 L839 403.7 L840.6 407 L842.1 403 L843.7 410.5 L845.2 406.2 L846.7 410.3 L848.3 406.3 L849.8 406 L851.4 411.8 L852.9 410.6 L854.4 410.6 L856 411.4 L857.5 409.4 L859 410 L860.6 411.2 L862.1 407.2 L863.7 406 L865.2 410.7 L866.7 408.7 L868.3 407.2 L869.8 407.7 L871.4 408.8 L872.9 404.9 L874.4 404.6 L876 404.9 L877.5 406.9 L879.1 400.1 L880.6 398.2 L882.1 400.5 L883.7 392.1 L885.2 373.3 L886.8 373.2 L888.3 362.2 L889.8 357.8 L891.4 356.5 L892.9 354.2 L894.4 358.2 L896 356.9 L897.5 362.8 L899.1 352.3 L900.6 357.8 L902.1 364.4 L903.7 374.2 L905.2 377.3 L906.8 380.3 L908.3 384.5 L909.8 387.8 L911.4 394.8 L912.9 392.5 L914.5 395.9 L916 398.4 L917.5 399 L919.1 395.5 L920.6 394.3 L922.2 400.7 L923.7 393 L925.2 393.9 L926.8 398.7 L928.3 399.1 L929.8 398.2 L931.4 395.7 L932.9 399.3 L934.5 401.2 L936 397.6 L937.5 403.8 L939.1 398.2 L940.6 395.6 L942.2 397.8 L943.7 396.3 L945.2 396.3 L946.8 394.6 L948.3 394.9 L949.9 396.3 L951.4 393.8 L952.9 392.7 L954.5 388.9 L956 387.5 L957.6 390.3 L959.1 392.8 L960.6 392.2 L962.2 390 L963.7 384.2 L965.2 383.7 L966.8 380.5 L968.3 377.8 L969.9 365.6 L971.4 357.8 L972.9 347.2 L974.5 331.1 L976 297.6 L977.6 286.7 L979.1 237.5 L980.6 209.2 L980.6 302.6 L979.1 350.3 L977.6 355.4 L976 364.6 L974.5 362.2 L972.9 373.2 L971.4 385.5 L969.9 389.3 L968.3 398.1 L966.8 405.6 L965.2 404 L963.7 409 L962.2 406.1 L960.6 409.6 L959.1 408.6 L957.6 403.9 L956 407.3 L954.5 408.3 L952.9 415 L951.4 412.3 L949.9 411.8 L948.3 412.7 L946.8 413.1 L945.2 410 L943.7 411.6 L942.2 419.8 L940.6 414.4 L939.1 415.6 L937.5 412.6 L936 413.6 L934.5 417.5 L932.9 418.4 L931.4 413 L929.8 413 L928.3 413.4 L926.8 416.2 L925.2 410.6 L923.7 416.7 L922.2 415.5 L920.6 416.4 L919.1 413.1 L917.5 412.4 L916 413.2 L914.5 409.4 L912.9 409.8 L911.4 409.7 L909.8 409.9 L908.3 406.7 L906.8 406.9 L905.2 401.7 L903.7 396.1 L902.1 391.5 L900.6 388.5 L899.1 381.3 L897.5 371.1 L896 372.9 L894.4 374.1 L892.9 367.6 L891.4 368 L889.8 373.2 L888.3 392.7 L886.8 398 L885.2 410.2 L883.7 413 L882.1 420.5 L880.6 417.6 L879.1 418.6 L877.5 426.8 L876 427.7 L874.4 421.5 L872.9 420.9 L871.4 425.4 L869.8 422.8 L868.3 420 L866.7 423.8 L865.2 424.6 L863.7 421.6 L862.1 421.5 L860.6 423.7 L859 423.3 L857.5 421.1 L856 427.8 L854.4 427.3 L852.9 423.5 L851.4 425.8 L849.8 422.5 L848.3 424.4 L846.7 425.6 L845.2 427.1 L843.7 422.3 L842.1 429.8 L840.6 425.5 L839 425.4 L837.5 433.6 L836 429.3 L834.4 437.9 L832.9 441.8 L831.3 445.3 L829.8 446.1 L828.3 443.8 L826.7 449.4 L825.2 450.5 L823.6 453.6 L822.1 455.9 L820.6 455.7 L819 459.6 L817.5 458 L816 456 L814.4 456.7 L812.9 454.2 L811.3 454.1 L809.8 449.5 L808.3 442.7 L806.7 449.4 L805.2 441.9 L803.6 439.4 L802.1 441.4 L800.6 439.9 L799 437.6 L797.5 434 L795.9 435.1 L794.4 434.7 L792.9 431.4 L791.3 435.3 L789.8 434.3 L788.2 431.2 L786.7 437.8 L785.2 432.9 L783.6 432.2 L782.1 431.2 L780.6 433.2 L779 434.1 L777.5 430.9 L775.9 429.9 L774.4 428.5 L772.9 430.8 L771.3 433.4 L769.8 429.5 L768.2 432 L766.7 431.3 L765.2 431.4 L763.6 430.1 L762.1 428 L760.5 431.8 L759 441.5 L757.5 432.1 L755.9 433.3 L754.4 435.5 L752.8 437.9 L751.3 432.1 L749.8 437.4 L748.2 438.6 L746.7 434.1 L745.1 442.3 L743.6 439.4 L742.1 437.2 L740.5 440.2 L739 435.6 L737.5 441.5 L735.9 433.2 L734.4 443.9 L732.8 443.8 L731.3 443.1 L729.8 445.2 L728.2 442.5 L726.7 445.7 L725.1 446.1 L723.6 449.1 L722.1 454 L720.5 445.5Z" fill="#c8c4c1" fill-opacity="0.62" filter="url(#b2)"/>
<path d="M720.5 428.1 L721.3 429.1 L722.1 443.6 L722.9 441.8 L723.7 438.1 L724.5 443.3 L725.3 441.9 L726.1 429.7 L726.8 440.8 L727.6 437.3 L728.4 434.3 L729.2 433.7 L730 443.2 L730.8 441.9 L731.6 442.8 L732.4 428.8 L733.2 430.7 L734 437.5 L734.8 427.5 L735.5 429.5 L736.3 424.2 L737.1 440.8 L737.9 436.9 L738.7 433.9 L739.5 432.6 L740.3 429.4 L741.1 429.3 L741.9 433.8 L742.7 427.6 L743.5 436.3 L744.2 428.2 L745 426.3 L745.8 436.1 L746.6 429.3 L747.4 432.3 L748.2 427.7 L749 419 L749.8 431.6 L750.6 422.5 L751.4 433.4 L752.1 420.9 L752.9 419 L753.7 428.6 L754.5 428.8 L755.3 426.9 L756.1 420.4 L756.9 429.7 L757.7 418.5 L758.5 422.8 L759.3 421.1 L760.1 422.7 L760.8 428.2 L761.6 421.2 L762.4 426.7 L763.2 427.2 L764 416.1 L764.8 418.5 L765.6 422.1 L766.4 421.1 L767.2 425.2 L768 414.8 L768.8 427 L769.5 427.1 L770.3 422.8 L771.1 417.2 L771.9 423.6 L772.7 421 L773.5 426.1 L774.3 423.1 L775.1 426.8 L775.9 421.4 L776.7 430.1 L777.4 412.8 L778.2 418.7 L779 425.7 L779.8 416.5 L780.6 426.8 L781.4 417.9 L782.2 424 L783 419.4 L783.8 421.6 L784.6 424.6 L785.4 423.4 L786.1 422.2 L786.9 434 L787.7 424.3 L788.5 419.9 L789.3 428.8 L790.1 428.5 L790.9 430.5 L791.7 433.2 L792.5 420.9 L793.3 430.3 L794.1 430.9 L794.8 425.8 L795.6 427.2 L796.4 412.5 L797.2 423.9 L798 435.2 L798.8 419.2 L799.6 425.4 L800.4 429.7 L801.2 431.7 L802 437.1 L802.7 422.2 L803.5 431.2 L804.3 435.7 L805.1 426.5 L805.9 433.2 L806.7 442.8 L807.5 441.4 L808.3 439 L809.1 426 L809.9 438.9 L810.7 442.8 L811.4 441.1 L812.2 443.5 L813 459.2 L813.8 444.8 L814.6 442 L815.4 447.9 L816.2 445.7 L817 446 L817.8 447.2 L818.6 451.3 L819.4 448.9 L820.1 442.2 L820.9 446.9 L821.7 449.1 L822.5 444 L823.3 450.5 L824.1 447.7 L824.9 438.4 L825.7 443.3 L826.5 449.8 L827.3 446.5 L828 437.6 L828.8 440.4 L829.6 431.4 L830.4 426.1 L831.2 433.6 L832 430.5 L832.8 430.2 L833.6 426.4 L834.4 426.8 L835.2 421.7 L836 424.9 L836.7 425.4 L837.5 420.1 L838.3 423.1 L839.1 410.2 L839.9 414.1 L840.7 423.7 L841.5 424.9 L842.3 417.7 L843.1 416.1 L843.9 410.7 L844.7 418.1 L845.4 420 L846.2 409.6 L847 418.9 L847.8 418.6 L848.6 418.3 L849.4 411.1 L850.2 418.7 L851 409.3 L851.8 423.1 L852.6 416.8 L853.3 410.8 L854.1 422.4 L854.9 421.5 L855.7 413.2 L856.5 426.3 L857.3 411.5 L858.1 417.6 L858.9 421.5 L859.7 405.6 L860.5 420.7 L861.3 415.7 L862 415.9 L862.8 411 L863.6 417.5 L864.4 410.8 L865.2 411.4 L866 413.8 L866.8 410.2 L867.6 423 L868.4 409.6 L869.2 412.2 L870 414.2 L870.7 415.6 L871.5 419.2 L872.3 419.3 L873.1 414.1 L873.9 413.6 L874.7 415.5 L875.5 419 L876.3 418.3 L877.1 412.6 L877.9 405.3 L878.6 424.2 L879.4 418 L880.2 413.8 L881 412.9 L881.8 407.5 L882.6 403.3 L883.4 404 L884.2 400.5 L885 393.9 L885.8 384.9 L886.6 384.8 L887.3 384.5 L888.1 375.6 L888.9 374.4 L889.7 361.2 L890.5 366.8 L891.3 364.3 L892.1 357.8 L892.9 354.3 L893.7 364.4 L894.5 359.1 L895.3 365.9 L896 362.6 L896.8 368.5 L897.6 365.2 L898.4 361.4 L899.2 369.6 L900 371.1 L900.8 378.3 L901.6 376.3 L902.4 379.6 L903.2 388.2 L903.9 392.3 L904.7 392.5 L905.5 395.8 L906.3 394.9 L907.1 398 L907.9 400.1 L908.7 399.3 L909.5 399.1 L910.3 400.5 L911.1 411.8 L911.9 401.5 L912.6 400.9 L913.4 400.8 L914.2 402.9 L915 404.6 L915.8 398.7 L916.6 395.1 L917.4 405.9 L918.2 397.5 L919 406.3 L919.8 406 L920.6 410.8 L921.3 413.3 L922.1 407.5 L922.9 403.3 L923.7 400.6 L924.5 402.4 L925.3 406.3 L926.1 396.7 L926.9 406.6 L927.7 406.3 L928.5 409.4 L929.2 405 L930 407.1 L930.8 403.3 L931.6 404.6 L932.4 398.6 L933.2 407.4 L934 414 L934.8 407.6 L935.6 408.6 L936.4 402.5 L937.2 413.6 L937.9 403.5 L938.7 410.7 L939.5 407.6 L940.3 402.7 L941.1 411.8 L941.9 407.2 L942.7 407.8 L943.5 409 L944.3 406.5 L945.1 404.5 L945.9 407.9 L946.6 403.4 L947.4 404.9 L948.2 401 L949 396.6 L949.8 399.8 L950.6 400.1 L951.4 401.9 L952.2 406.9 L953 393.3 L953.8 401.4 L954.5 390.4 L955.3 395.6 L956.1 397.8 L956.9 389.6 L957.7 391.3 L958.5 400.3 L959.3 399.7 L960.1 398.6 L960.9 395.1 L961.7 408.3 L962.5 397.2 L963.2 393.3 L964 404 L964.8 397.8 L965.6 391.7 L966.4 397 L967.2 390.2 L968 390.1 L968.8 385.7 L969.6 377.2 L970.4 383.1 L971.2 375.6 L971.9 365.7 L972.7 361.8 L973.5 364 L974.3 351.9 L975.1 346.2 L975.9 340.9 L976.7 328.4 L977.5 310.4 L978.3 308.3 L979.1 297.4 L979.8 282.4 L980.6 271" fill="none" stroke="#bcb5b0" stroke-width="1.6" stroke-opacity="0.4" stroke-linejoin="round" stroke-linecap="round"/>
<path d="M720.5 430.9 L721.3 437.8 L722.1 446.4 L722.9 438.7 L723.7 448.8 L724.5 448.1 L725.3 442.9 L726.1 446.8 L726.8 441.3 L727.6 432.7 L728.4 441.3 L729.2 437.1 L730 437.1 L730.8 435.5 L731.6 440.7 L732.4 436.6 L733.2 430.5 L734 435.6 L734.8 436.4 L735.5 429.4 L736.3 430.5 L737.1 430.5 L737.9 429.2 L738.7 433.4 L739.5 436.2 L740.3 440.1 L741.1 436.7 L741.9 435.7 L742.7 436.1 L743.5 436.8 L744.2 428.8 L745 433.5 L745.8 431.7 L746.6 429.4 L747.4 427.7 L748.2 427.3 L749 428.1 L749.8 423.4 L750.6 431.1 L751.4 428.3 L752.1 428.5 L752.9 429.2 L753.7 430.5 L754.5 424.1 L755.3 425.9 L756.1 418.6 L756.9 415.4 L757.7 416.3 L758.5 432 L759.3 416.3 L760.1 426.6 L760.8 431.1 L761.6 422 L762.4 431.6 L763.2 432.5 L764 428.3 L764.8 434.8 L765.6 426.7 L766.4 420.4 L767.2 426.2 L768 421.7 L768.8 417.7 L769.5 417.8 L770.3 434.3 L771.1 421.1 L771.9 423.5 L772.7 420.5 L773.5 424.2 L774.3 422.4 L775.1 421.6 L775.9 417.9 L776.7 417 L777.4 420 L778.2 424.8 L779 433 L779.8 428.3 L780.6 431.9 L781.4 425.8 L782.2 423.2 L783 417.6 L783.8 423.8 L784.6 414 L785.4 422.6 L786.1 431.5 L786.9 425.7 L787.7 429.5 L788.5 422.7 L789.3 418.3 L790.1 422.6 L790.9 423.1 L791.7 430.7 L792.5 434.4 L793.3 422.1 L794.1 424.1 L794.8 425.3 L795.6 424.5 L796.4 420.7 L797.2 427.1 L798 428.7 L798.8 429.3 L799.6 422.4 L800.4 428 L801.2 421.1 L802 434 L802.7 425.8 L803.5 429.9 L804.3 429.8 L805.1 430 L805.9 428.6 L806.7 426.2 L807.5 443.5 L808.3 437.9 L809.1 439.4 L809.9 449.3 L810.7 440.7 L811.4 445.2 L812.2 444 L813 450.6 L813.8 448.2 L814.6 448 L815.4 445.8 L816.2 448.5 L817 452.9 L817.8 438.2 L818.6 447.3 L819.4 446.1 L820.1 446.5 L820.9 438.5 L821.7 450.4 L822.5 442.4 L823.3 444.3 L824.1 441.9 L824.9 435.4 L825.7 439.9 L826.5 432.3 L827.3 435.1 L828 436.6 L828.8 436.4 L829.6 434.9 L830.4 432.3 L831.2 441 L832 431.6 L832.8 422.4 L833.6 423.9 L834.4 422.4 L835.2 423.4 L836 420.1 L836.7 417.8 L837.5 428.1 L838.3 419.7 L839.1 417 L839.9 416.7 L840.7 416.2 L841.5 423.4 L842.3 418.9 L843.1 421.9 L843.9 402.3 L844.7 418.1 L845.4 421.4 L846.2 425.6 L847 416.6 L847.8 408.6 L848.6 419.2 L849.4 413.7 L850.2 408.2 L851 413.6 L851.8 421.2 L852.6 421.9 L853.3 419.7 L854.1 411.5 L854.9 427.9 L855.7 410.9 L856.5 416 L857.3 409.6 L858.1 422.3 L858.9 418.3 L859.7 420.3 L860.5 416.6 L861.3 415.9 L862 417 L862.8 407.5 L863.6 420.7 L864.4 420.3 L865.2 414.3 L866 416 L866.8 417.4 L867.6 423.2 L868.4 417.9 L869.2 416.1 L870 413.5 L870.7 408.9 L871.5 413 L872.3 416 L873.1 414.5 L873.9 415.9 L874.7 418.9 L875.5 417.4 L876.3 416.6 L877.1 418.2 L877.9 415.8 L878.6 414.4 L879.4 416 L880.2 404.9 L881 417.3 L881.8 404.2 L882.6 412 L883.4 405.8 L884.2 406.9 L885 397.1 L885.8 387.4 L886.6 391.4 L887.3 383 L888.1 378.7 L888.9 374.9 L889.7 375.6 L890.5 371.7 L891.3 366.1 L892.1 356.6 L892.9 360.6 L893.7 363.2 L894.5 371.3 L895.3 365.7 L896 364.3 L896.8 371.4 L897.6 366.5 L898.4 368.4 L899.2 371 L900 365.9 L900.8 379.9 L901.6 380.6 L902.4 380.3 L903.2 379.3 L903.9 388.2 L904.7 395.7 L905.5 388.3 L906.3 388.1 L907.1 396.6 L907.9 388.9 L908.7 387.5 L909.5 397 L910.3 397 L911.1 399.8 L911.9 399.2 L912.6 403.8 L913.4 401.8 L914.2 400.5 L915 401.6 L915.8 407 L916.6 408.9 L917.4 409 L918.2 408.3 L919 390.2 L919.8 401 L920.6 404.3 L921.3 406.9 L922.1 398.6 L922.9 412.7 L923.7 407.6 L924.5 403.5 L925.3 407.2 L926.1 404.9 L926.9 403.1 L927.7 409 L928.5 404.6 L929.2 400.3 L930 403.9 L930.8 406.4 L931.6 402 L932.4 412.8 L933.2 402.1 L934 415.2 L934.8 411.3 L935.6 402.9 L936.4 407.9 L937.2 412.7 L937.9 406.4 L938.7 401.8 L939.5 407.9 L940.3 416.5 L941.1 400.5 L941.9 409.9 L942.7 407.3 L943.5 406.6 L944.3 405.1 L945.1 405 L945.9 410.8 L946.6 408.3 L947.4 400.4 L948.2 411.5 L949 397.8 L949.8 406.2 L950.6 403.5 L951.4 407.7 L952.2 403.4 L953 406.3 L953.8 401 L954.5 405.4 L955.3 402.3 L956.1 410.4 L956.9 397.1 L957.7 405.6 L958.5 402.1 L959.3 400.5 L960.1 396.8 L960.9 401.2 L961.7 392 L962.5 392 L963.2 400.9 L964 389.5 L964.8 401.9 L965.6 392.5 L966.4 393 L967.2 390.1 L968 389.4 L968.8 383.7 L969.6 380.6 L970.4 378.4 L971.2 380.1 L971.9 375.9 L972.7 371.5 L973.5 361.6 L974.3 353 L975.1 338.6 L975.9 341.2 L976.7 332.1 L977.5 315.9 L978.3 309.4 L979.1 299.4 L979.8 279.2 L980.6 268.8" fill="none" stroke="#c4bfba" stroke-width="1.6" stroke-opacity="0.4" stroke-linejoin="round" stroke-linecap="round"/>
<path d="M720.5 431 L721.3 426.6 L722.1 437.2 L722.9 438.5 L723.7 443.6 L724.5 436.5 L725.3 437.7 L726.1 434.3 L726.8 437.6 L727.6 437.4 L728.4 440.9 L729.2 439.6 L730 436.3 L730.8 436.2 L731.6 435.3 L732.4 434.9 L733.2 441.2 L734 422.3 L734.8 432.6 L735.5 434.6 L736.3 438.1 L737.1 427.6 L737.9 434 L738.7 436.1 L739.5 429.9 L740.3 422.9 L741.1 429.9 L741.9 425.8 L742.7 434.2 L743.5 427.1 L744.2 439.1 L745 431.4 L745.8 426.8 L746.6 428 L747.4 425.1 L748.2 431.7 L749 436.5 L749.8 428.4 L750.6 433.3 L751.4 424.4 L752.1 429.8 L752.9 438.6 L753.7 421.1 L754.5 432.8 L755.3 432.1 L756.1 417.7 L756.9 419.4 L757.7 421.1 L758.5 429.8 L759.3 423.1 L760.1 424 L760.8 427.9 L761.6 425 L762.4 425.5 L763.2 422.9 L764 429.5 L764.8 420.7 L765.6 431.9 L766.4 422.6 L767.2 420.4 L768 427 L768.8 426.1 L769.5 414.9 L770.3 425 L771.1 417.7 L771.9 420.1 L772.7 427.5 L773.5 419.9 L774.3 425.4 L775.1 422 L775.9 432.7 L776.7 423.3 L777.4 418.3 L778.2 418.7 L779 419.6 L779.8 424.3 L780.6 423.8 L781.4 428.3 L782.2 424.6 L783 424.5 L783.8 425.5 L784.6 423.5 L785.4 425.5 L786.1 427.9 L786.9 428 L787.7 422 L788.5 416.5 L789.3 421.1 L790.1 426.3 L790.9 413.7 L791.7 423.1 L792.5 427.6 L793.3 423.1 L794.1 420.8 L794.8 434.2 L795.6 432.7 L796.4 425.4 L797.2 432.9 L798 433.2 L798.8 422.5 L799.6 440.5 L800.4 424.4 L801.2 428.1 L802 424.9 L802.7 431 L803.5 425.3 L804.3 432 L805.1 437.8 L805.9 434.6 L806.7 433.2 L807.5 442.7 L808.3 432.7 L809.1 442.7 L809.9 438.4 L810.7 442.3 L811.4 442.9 L812.2 444.6 L813 445 L813.8 442.4 L814.6 444.1 L815.4 449.1 L816.2 446.8 L817 442.3 L817.8 444.6 L818.6 444.8 L819.4 447.8 L820.1 448.8 L820.9 448.1 L821.7 444.1 L822.5 446.4 L823.3 439.1 L824.1 431 L824.9 442.9 L825.7 434.4 L826.5 436.5 L827.3 433.9 L828 441 L828.8 430.9 L829.6 436 L830.4 430.7 L831.2 425.5 L832 422.3 L832.8 430.1 L833.6 428.5 L834.4 429 L835.2 432.6 L836 424.1 L836.7 423 L837.5 419.9 L838.3 419.9 L839.1 416.9 L839.9 413.7 L840.7 426.3 L841.5 408.3 L842.3 417.8 L843.1 418.7 L843.9 417.3 L844.7 412.1 L845.4 415.6 L846.2 414.3 L847 411.5 L847.8 416.2 L848.6 414.5 L849.4 413.8 L850.2 419.4 L851 411.4 L851.8 418.3 L852.6 413.4 L853.3 418.2 L854.1 416.5 L854.9 417.3 L855.7 411.7 L856.5 412.6 L857.3 412.2 L858.1 416.9 L858.9 419.5 L859.7 421 L860.5 413.7 L861.3 416.4 L862 408.6 L862.8 405.8 L863.6 411.9 L864.4 412.8 L865.2 408.7 L866 407.6 L866.8 418.2 L867.6 412 L868.4 408 L869.2 426.3 L870 416.4 L870.7 414.1 L871.5 418.6 L872.3 412 L873.1 422.7 L873.9 408.2 L874.7 409.2 L875.5 414.5 L876.3 411.5 L877.1 421.4 L877.9 407.3 L878.6 410.9 L879.4 414.6 L880.2 415.1 L881 415.8 L881.8 411.4 L882.6 417.9 L883.4 403.2 L884.2 402.2 L885 400.6 L885.8 390 L886.6 384.7 L887.3 379.6 L888.1 374.8 L888.9 369 L889.7 368 L890.5 360.5 L891.3 366.4 L892.1 356 L892.9 371.5 L893.7 370.1 L894.5 367.7 L895.3 362.5 L896 361.6 L896.8 371 L897.6 367.4 L898.4 370.7 L899.2 366.5 L900 377.3 L900.8 371.4 L901.6 378.6 L902.4 373.2 L903.2 381.1 L903.9 389 L904.7 386.8 L905.5 388.7 L906.3 396.2 L907.1 393.9 L907.9 401.5 L908.7 386.2 L909.5 401.2 L910.3 402 L911.1 393.5 L911.9 395.3 L912.6 405.8 L913.4 397.4 L914.2 399.9 L915 405.9 L915.8 402.1 L916.6 406.2 L917.4 400.3 L918.2 406 L919 409.8 L919.8 406.6 L920.6 395.2 L921.3 408.4 L922.1 405.8 L922.9 401.5 L923.7 412.1 L924.5 397.8 L925.3 414.5 L926.1 403.1 L926.9 413.3 L927.7 405.9 L928.5 400.1 L929.2 406.7 L930 407.9 L930.8 408.9 L931.6 411.3 L932.4 402.4 L933.2 408.8 L934 410 L934.8 405.4 L935.6 402.4 L936.4 402.3 L937.2 410.2 L937.9 410.4 L938.7 403 L939.5 400.7 L940.3 412.5 L941.1 399.7 L941.9 407.6 L942.7 403.1 L943.5 398.6 L944.3 406.9 L945.1 405.1 L945.9 412.1 L946.6 415.4 L947.4 403.5 L948.2 408.5 L949 408 L949.8 400.2 L950.6 398.1 L951.4 408.9 L952.2 399.5 L953 400.7 L953.8 399.2 L954.5 399.7 L955.3 397.4 L956.1 403.4 L956.9 405.5 L957.7 397.8 L958.5 393 L959.3 399.3 L960.1 392 L960.9 395.6 L961.7 403.8 L962.5 408.3 L963.2 398.7 L964 391.2 L964.8 398.3 L965.6 382.9 L966.4 388.1 L967.2 396.2 L968 390.3 L968.8 378.1 L969.6 374.1 L970.4 382.3 L971.2 374.4 L971.9 367.3 L972.7 366.9 L973.5 356.7 L974.3 344.5 L975.1 349.4 L975.9 334.7 L976.7 323 L977.5 311 L978.3 306.2 L979.1 289.2 L979.8 281 L980.6 262.1" fill="none" stroke="#b9bec4" stroke-width="1.6" stroke-opacity="0.4" stroke-linejoin="round" stroke-linecap="round"/>
<path d="M720.5 433.9 L721.3 432.2 L722.1 435.8 L722.9 430.8 L723.7 435.5 L724.5 443.1 L725.3 453.1 L726.1 432.4 L726.8 432.4 L727.6 438 L728.4 438 L729.2 432.3 L730 435.3 L730.8 427.2 L731.6 432.8 L732.4 437.9 L733.2 440.9 L734 432.4 L734.8 431.6 L735.5 434.6 L736.3 437.3 L737.1 434.2 L737.9 428.3 L738.7 433.1 L739.5 435.7 L740.3 427.8 L741.1 424.8 L741.9 433.1 L742.7 432.3 L743.5 434.9 L744.2 430.7 L745 427.2 L745.8 427.9 L746.6 425 L747.4 425.2 L748.2 426.8 L749 426.9 L749.8 433.9 L750.6 422.9 L751.4 427.9 L752.1 425.1 L752.9 434.2 L753.7 428.2 L754.5 424.9 L755.3 429.9 L756.1 426.1 L756.9 423.2 L757.7 432.1 L758.5 428 L759.3 432.4 L760.1 429.5 L760.8 427.6 L761.6 424.5 L762.4 418.9 L763.2 427 L764 424.1 L764.8 426.8 L765.6 423.6 L766.4 420.4 L767.2 418.9 L768 426.7 L768.8 429.4 L769.5 422.1 L770.3 425.5 L771.1 429.7 L771.9 419.5 L772.7 421.8 L773.5 418.2 L774.3 428.7 L775.1 424.5 L775.9 421.1 L776.7 415.7 L777.4 422.4 L778.2 427.8 L779 421.9 L779.8 421.3 L780.6 426.2 L781.4 417.7 L782.2 423.6 L783 426.1 L783.8 419.9 L784.6 419.8 L785.4 424.8 L786.1 423.3 L786.9 422.8 L787.7 425 L788.5 425.2 L789.3 420.1 L790.1 421.5 L790.9 426.7 L791.7 430 L792.5 431.2 L793.3 421.4 L794.1 430.4 L794.8 429.1 L795.6 425.7 L796.4 428.3 L797.2 430.2 L798 434.9 L798.8 422.4 L799.6 430.5 L800.4 427.6 L801.2 427.9 L802 434.7 L802.7 433.9 L803.5 426.2 L804.3 430.3 L805.1 433.4 L805.9 426.8 L806.7 438 L807.5 434.9 L808.3 437.2 L809.1 439.4 L809.9 447.6 L810.7 441 L811.4 440.7 L812.2 451.6 L813 442.5 L813.8 443.2 L814.6 440 L815.4 451.6 L816.2 448.2 L817 449.4 L817.8 448.2 L818.6 447 L819.4 444.1 L820.1 444.1 L820.9 449.3 L821.7 447.3 L822.5 453.4 L823.3 441.6 L824.1 441.8 L824.9 438.2 L825.7 447.9 L826.5 434.9 L827.3 442.7 L828 444.3 L828.8 435.5 L829.6 437.7 L830.4 423 L831.2 429.1 L832 421.7 L832.8 428.5 L833.6 426.5 L834.4 421.7 L835.2 428.2 L836 424.3 L836.7 419.1 L837.5 417.9 L838.3 412.5 L839.1 417.4 L839.9 427.2 L840.7 413.7 L841.5 418.6 L842.3 414 L843.1 420.1 L843.9 418.4 L844.7 415.3 L845.4 408.2 L846.2 413.9 L847 421.7 L847.8 415.1 L848.6 419 L849.4 414 L850.2 407.7 L851 418.1 L851.8 417.6 L852.6 413.5 L853.3 414.4 L854.1 417.4 L854.9 413.4 L855.7 417.6 L856.5 415.1 L857.3 405.3 L858.1 415.3 L858.9 413.3 L859.7 412.2 L860.5 417.8 L861.3 413.7 L862 418.4 L862.8 420.8 L863.6 416.5 L864.4 408.8 L865.2 412.4 L866 419.9 L866.8 414.5 L867.6 412 L868.4 415.2 L869.2 417.9 L870 416.7 L870.7 418.5 L871.5 411.7 L872.3 414.2 L873.1 414.2 L873.9 415.2 L874.7 405.7 L875.5 414 L876.3 408.9 L877.1 421.2 L877.9 421.7 L878.6 421.9 L879.4 417.2 L880.2 410.3 L881 415.6 L881.8 408.9 L882.6 410.6 L883.4 401.3 L884.2 398.8 L885 398.8 L885.8 399.5 L886.6 386 L887.3 392 L888.1 390.4 L888.9 368.4 L889.7 370.5 L890.5 363.3 L891.3 364.1 L892.1 361 L892.9 361.9 L893.7 366.8 L894.5 367 L895.3 364.8 L896 364.4 L896.8 366.1 L897.6 367.3 L898.4 370.8 L899.2 369.9 L900 374.8 L900.8 369.3 L901.6 381.9 L902.4 389.3 L903.2 385.1 L903.9 380.4 L904.7 395.1 L905.5 389.5 L906.3 379.1 L907.1 393.4 L907.9 398.7 L908.7 399.2 L909.5 404.4 L910.3 402.6 L911.1 401.3 L911.9 392.4 L912.6 396.9 L913.4 403.3 L914.2 406 L915 398.7 L915.8 401 L916.6 406.3 L917.4 395.8 L918.2 395.9 L919 404 L919.8 406.4 L920.6 403.3 L921.3 395.1 L922.1 405.8 L922.9 399.8 L923.7 408.9 L924.5 405.5 L925.3 407.3 L926.1 409.1 L926.9 403.8 L927.7 410.1 L928.5 412.1 L929.2 408.3 L930 412.6 L930.8 403.7 L931.6 410.8 L932.4 407.9 L933.2 402.3 L934 406.4 L934.8 404.4 L935.6 404.4 L936.4 407.3 L937.2 411.8 L937.9 405.5 L938.7 407.6 L939.5 400.3 L940.3 407.5 L941.1 412.3 L941.9 410.7 L942.7 409.1 L943.5 404.4 L944.3 402.1 L945.1 405.7 L945.9 399.6 L946.6 399.5 L947.4 408.9 L948.2 399.8 L949 411.6 L949.8 396.3 L950.6 404.2 L951.4 396.4 L952.2 402.2 L953 396.3 L953.8 401 L954.5 399.8 L955.3 398.3 L956.1 402.5 L956.9 406.8 L957.7 397.1 L958.5 403.6 L959.3 399.7 L960.1 398.9 L960.9 408.7 L961.7 388.5 L962.5 394.8 L963.2 389 L964 394.8 L964.8 393.9 L965.6 410.7 L966.4 393.1 L967.2 397.6 L968 393 L968.8 382.6 L969.6 384.1 L970.4 386.2 L971.2 375.6 L971.9 371.2 L972.7 367.6 L973.5 352.7 L974.3 349.8 L975.1 347.4 L975.9 340.3 L976.7 323.6 L977.5 315.9 L978.3 304.7 L979.1 292.3 L979.8 281.5 L980.6 264" fill="none" stroke="#cbbcab" stroke-width="1.6" stroke-opacity="0.4" stroke-linejoin="round" stroke-linecap="round"/>
<path d="M720.5 429.9 L721.3 427.7 L722.1 434.2 L722.9 441.4 L723.7 433.5 L724.5 441.3 L725.3 436.3 L726.1 434.6 L726.8 440.3 L727.6 433.6 L728.4 432.1 L729.2 432.5 L730 435.4 L730.8 447.2 L731.6 424.7 L732.4 433.9 L733.2 432.5 L734 437.6 L734.8 431.3 L735.5 421.4 L736.3 438.5 L737.1 427.2 L737.9 431.6 L738.7 425.4 L739.5 426.5 L740.3 429 L741.1 435 L741.9 434.8 L742.7 428 L743.5 432.9 L744.2 428.7 L745 430.8 L745.8 430.8 L746.6 432.7 L747.4 426.9 L748.2 428.9 L749 430.2 L749.8 429.4 L750.6 425 L751.4 436.1 L752.1 425.8 L752.9 430.9 L753.7 428 L754.5 432.3 L755.3 416.3 L756.1 435.2 L756.9 424.5 L757.7 419.5 L758.5 425.4 L759.3 434.9 L760.1 426.6 L760.8 418.5 L761.6 421.9 L762.4 430 L763.2 417.5 L764 423 L764.8 422.4 L765.6 433.6 L766.4 422.3 L767.2 429.6 L768 420.5 L768.8 419.9 L769.5 428.1 L770.3 426.3 L771.1 415.5 L771.9 426.3 L772.7 426.3 L773.5 420.5 L774.3 424.3 L775.1 424.5 L775.9 421.1 L776.7 420.6 L777.4 420.2 L778.2 422 L779 417.2 L779.8 423.1 L780.6 416.5 L781.4 423.7 L782.2 423 L783 418.7 L783.8 427.4 L784.6 432.5 L785.4 429.8 L786.1 417.6 L786.9 429.8 L787.7 425.1 L788.5 424 L789.3 421.6 L790.1 424.5 L790.9 431 L791.7 427.4 L792.5 423.2 L793.3 422.2 L794.1 423.6 L794.8 428.3 L795.6 434.4 L796.4 421.3 L797.2 426.4 L798 425 L798.8 423.8 L799.6 429.5 L800.4 430.8 L801.2 422.4 L802 424.8 L802.7 435.6 L803.5 432.3 L804.3 434 L805.1 430.1 L805.9 431.5 L806.7 436.1 L807.5 432.9 L808.3 431.3 L809.1 437.9 L809.9 443.5 L810.7 436.2 L811.4 447.2 L812.2 446.8 L813 440.9 L813.8 445.6 L814.6 446.1 L815.4 449.5 L816.2 450 L817 441.3 L817.8 441.3 L818.6 452.3 L819.4 448.2 L820.1 449.5 L820.9 448.8 L821.7 453.7 L822.5 440.5 L823.3 450 L824.1 440.2 L824.9 446.1 L825.7 447.7 L826.5 434.2 L827.3 441 L828 436.5 L828.8 434.8 L829.6 434.6 L830.4 427.8 L831.2 426.5 L832 432.2 L832.8 431.5 L833.6 423.8 L834.4 418.5 L835.2 434.4 L836 427.6 L836.7 423 L837.5 415.5 L838.3 416.5 L839.1 419.3 L839.9 413.1 L840.7 424.2 L841.5 417.3 L842.3 418.2 L843.1 411.7 L843.9 412.2 L844.7 412.7 L845.4 417.5 L846.2 415 L847 414.9 L847.8 417.6 L848.6 417.2 L849.4 422.9 L850.2 415.2 L851 411.5 L851.8 416 L852.6 422.7 L853.3 413.5 L854.1 416.2 L854.9 414.4 L855.7 417.8 L856.5 417.2 L857.3 412.3 L858.1 414.9 L858.9 420.2 L859.7 420.9 L860.5 420.1 L861.3 419.8 L862 414.3 L862.8 414.2 L863.6 420 L864.4 410.5 L865.2 415.5 L866 407.3 L866.8 413.9 L867.6 412.4 L868.4 410.1 L869.2 418.2 L870 412.2 L870.7 413.8 L871.5 414.3 L872.3 412 L873.1 421.7 L873.9 413 L874.7 416 L875.5 409.2 L876.3 412.8 L877.1 413.4 L877.9 413.2 L878.6 411.5 L879.4 414.1 L880.2 419.5 L881 410.6 L881.8 409.1 L882.6 406 L883.4 416.8 L884.2 408.7 L885 399.1 L885.8 394.6 L886.6 382.8 L887.3 381 L888.1 378.7 L888.9 374.7 L889.7 366.7 L890.5 364.1 L891.3 367 L892.1 364.7 L892.9 352.6 L893.7 362.8 L894.5 368.4 L895.3 360.6 L896 365.5 L896.8 358.9 L897.6 370.4 L898.4 363.1 L899.2 364.2 L900 371 L900.8 385.8 L901.6 375.5 L902.4 375.6 L903.2 386.2 L903.9 387.8 L904.7 396.4 L905.5 385.2 L906.3 385.4 L907.1 392.9 L907.9 397.6 L908.7 399 L909.5 403.5 L910.3 393 L911.1 396.9 L911.9 400.7 L912.6 405.7 L913.4 404.5 L914.2 401 L915 398.7 L915.8 407.7 L916.6 408.4 L917.4 416.7 L918.2 403.9 L919 412.3 L919.8 399.7 L920.6 402.9 L921.3 402.5 L922.1 403.5 L922.9 401.8 L923.7 403.4 L924.5 405.7 L925.3 404 L926.1 409.1 L926.9 405.8 L927.7 406.2 L928.5 413 L929.2 407.8 L930 407.1 L930.8 406.4 L931.6 406.8 L932.4 409.2 L933.2 403.1 L934 411.9 L934.8 413.8 L935.6 412 L936.4 404.6 L937.2 399.7 L937.9 404.9 L938.7 407.6 L939.5 410.7 L940.3 406.1 L941.1 405.6 L941.9 413.8 L942.7 403.8 L943.5 411.5 L944.3 410.5 L945.1 400.1 L945.9 406.9 L946.6 402.6 L947.4 400.2 L948.2 395.6 L949 396.3 L949.8 404.6 L950.6 400.5 L951.4 402.9 L952.2 396.5 L953 399.5 L953.8 399.5 L954.5 393.5 L955.3 392.8 L956.1 402 L956.9 400.5 L957.7 395.5 L958.5 399 L959.3 402.2 L960.1 407.2 L960.9 394.7 L961.7 401.1 L962.5 407.3 L963.2 397.4 L964 402.8 L964.8 383.2 L965.6 399.8 L966.4 391.4 L967.2 380.8 L968 390.5 L968.8 389.2 L969.6 387.3 L970.4 383.9 L971.2 374.6 L971.9 366.8 L972.7 363.1 L973.5 359.3 L974.3 355.3 L975.1 343.7 L975.9 338 L976.7 331.7 L977.5 318.7 L978.3 315.6 L979.1 302.7 L979.8 273.1 L980.6 260.9" fill="none" stroke="#bfbfbf" stroke-width="1.6" stroke-opacity="0.4" stroke-linejoin="round" stroke-linecap="round"/>
<path d="M720.5 423.1 L721.3 428.8 L722.1 441.4 L722.9 435.4 L723.7 436 L724.5 438.7 L725.3 442.8 L726.1 436.6 L726.8 435.7 L727.6 440.7 L728.4 438.1 L729.2 437.6 L730 439.3 L730.8 430.1 L731.6 435.2 L732.4 431 L733.2 438.2 L734 436.9 L734.8 428.2 L735.5 438.7 L736.3 427.1 L737.1 437.4 L737.9 432.8 L738.7 427.7 L739.5 426.4 L740.3 429.8 L741.1 430.9 L741.9 427.7 L742.7 433.2 L743.5 424.2 L744.2 430.3 L745 430.2 L745.8 421.6 L746.6 431.3 L747.4 423.9 L748.2 418.2 L749 426.4 L749.8 427.9 L750.6 432.7 L751.4 426 L752.1 434.5 L752.9 434 L753.7 432 L754.5 432.7 L755.3 427.8 L756.1 423.3 L756.9 428.4 L757.7 429.5 L758.5 425.9 L759.3 423.4 L760.1 417.2 L760.8 427.2 L761.6 425.6 L762.4 418 L763.2 424.3 L764 427.1 L764.8 423.3 L765.6 427.3 L766.4 427.1 L767.2 416.9 L768 422.2 L768.8 425.7 L769.5 427.7 L770.3 429.9 L771.1 414.7 L771.9 423.1 L772.7 426.6 L773.5 428.9 L774.3 431 L775.1 419.1 L775.9 421.6 L776.7 418.5 L777.4 427 L778.2 417.3 L779 428.6 L779.8 427.5 L780.6 425.5 L781.4 413.5 L782.2 420.3 L783 426.9 L783.8 417.1 L784.6 422.5 L785.4 423.2 L786.1 427.9 L786.9 425.2 L787.7 425.3 L788.5 422.2 L789.3 424.4 L790.1 423.9 L790.9 428 L791.7 424.1 L792.5 429.8 L793.3 417.5 L794.1 430.9 L794.8 424.9 L795.6 431 L796.4 426.5 L797.2 430.3 L798 433.6 L798.8 424.7 L799.6 428.1 L800.4 427.5 L801.2 429.8 L802 422.1 L802.7 429.4 L803.5 429.8 L804.3 428.1 L805.1 431.5 L805.9 426.2 L806.7 440.4 L807.5 437.2 L808.3 445 L809.1 433.9 L809.9 434.1 L810.7 442.2 L811.4 434.8 L812.2 444.7 L813 441.6 L813.8 444.1 L814.6 447.5 L815.4 446.9 L816.2 455.4 L817 450.1 L817.8 441.6 L818.6 452.1 L819.4 441.6 L820.1 448 L820.9 441.7 L821.7 443 L822.5 452 L823.3 442.5 L824.1 441 L824.9 440.2 L825.7 440.2 L826.5 447 L827.3 433.8 L828 432.1 L828.8 438.7 L829.6 427.1 L830.4 430.9 L831.2 436 L832 429.2 L832.8 425.5 L833.6 423.2 L834.4 421 L835.2 421.2 L836 423.2 L836.7 427 L837.5 424.6 L838.3 416.6 L839.1 414.8 L839.9 420.6 L840.7 408.6 L841.5 414.6 L842.3 414.9 L843.1 411.3 L843.9 411.8 L844.7 417.8 L845.4 408.7 L846.2 412 L847 413.2 L847.8 416.5 L848.6 409.8 L849.4 421 L850.2 414.6 L851 414.8 L851.8 414.3 L852.6 412.9 L853.3 411.5 L854.1 421.1 L854.9 416.8 L855.7 415.4 L856.5 420.4 L857.3 412.6 L858.1 418.7 L858.9 415.9 L859.7 411.7 L860.5 419.2 L861.3 409 L862 418.7 L862.8 411.7 L863.6 417.5 L864.4 421.9 L865.2 418.1 L866 412.8 L866.8 415.4 L867.6 413.8 L868.4 410.1 L869.2 410.4 L870 415.5 L870.7 417.7 L871.5 407.2 L872.3 414.8 L873.1 417.4 L873.9 415.5 L874.7 410.4 L875.5 419.5 L876.3 409.2 L877.1 417.6 L877.9 421.6 L878.6 404.7 L879.4 414.4 L880.2 413.6 L881 412 L881.8 406.1 L882.6 406.1 L883.4 398.8 L884.2 401.8 L885 398.8 L885.8 388.2 L886.6 381.6 L887.3 379.3 L888.1 377.5 L888.9 374.2 L889.7 369.9 L890.5 367.6 L891.3 358.5 L892.1 350.7 L892.9 364.6 L893.7 368.5 L894.5 356 L895.3 360.2 L896 365.4 L896.8 369.5 L897.6 369.3 L898.4 373.6 L899.2 369.3 L900 374 L900.8 376.7 L901.6 376 L902.4 386.4 L903.2 386.7 L903.9 390.9 L904.7 386.8 L905.5 395.2 L906.3 387.6 L907.1 395.8 L907.9 383.8 L908.7 392.5 L909.5 401.7 L910.3 397.4 L911.1 401.1 L911.9 393.7 L912.6 408.5 L913.4 404.8 L914.2 402.4 L915 404.9 L915.8 404.9 L916.6 410.1 L917.4 405.1 L918.2 397.8 L919 403.5 L919.8 410.6 L920.6 407.6 L921.3 403.3 L922.1 408.1 L922.9 405.9 L923.7 408.2 L924.5 398.4 L925.3 401.6 L926.1 408.8 L926.9 404.8 L927.7 407.5 L928.5 414.8 L929.2 404.7 L930 407.2 L930.8 403.7 L931.6 403.4 L932.4 406 L933.2 399.8 L934 396.9 L934.8 412.6 L935.6 406 L936.4 411.6 L937.2 407.1 L937.9 407.2 L938.7 409.6 L939.5 409.8 L940.3 401.2 L941.1 412.1 L941.9 402.3 L942.7 407.5 L943.5 417.9 L944.3 406.5 L945.1 413.3 L945.9 403.7 L946.6 407.5 L947.4 404.4 L948.2 405.5 L949 399.2 L949.8 398.3 L950.6 403.4 L951.4 394.3 L952.2 397.2 L953 403.5 L953.8 397.6 L954.5 396.1 L955.3 394.9 L956.1 400.4 L956.9 397.9 L957.7 400 L958.5 398.3 L959.3 407.2 L960.1 396.7 L960.9 389.5 L961.7 398.5 L962.5 397.5 L963.2 397.5 L964 388.7 L964.8 399.6 L965.6 392.8 L966.4 390.9 L967.2 381.9 L968 388.8 L968.8 383.9 L969.6 387.6 L970.4 376.3 L971.2 368.9 L971.9 370.4 L972.7 360.8 L973.5 361 L974.3 348.3 L975.1 344.9 L975.9 336.4 L976.7 327.2 L977.5 314.7 L978.3 301.3 L979.1 292.4 L979.8 275.4 L980.6 263.8" fill="none" stroke="#c6c2bd" stroke-width="1.6" stroke-opacity="0.4" stroke-linejoin="round" stroke-linecap="round"/>
<path d="M720.5 421.2 L722.1 437 L723.6 436.8 L725.1 433.2 L726.7 432.8 L728.2 431.1 L729.8 430.5 L731.3 430.9 L732.8 431.3 L734.4 427.9 L735.9 427.1 L737.5 427.2 L739 426.9 L740.5 426.6 L742.1 426.8 L743.6 426.1 L745.1 426.1 L746.7 425.3 L748.2 426.5 L749.8 425.6 L751.3 423.4 L752.8 423.8 L754.4 425.7 L755.9 421.7 L757.5 424 L759 418.1 L760.5 419.2 L762.1 419 L763.6 420.6 L765.2 421.1 L766.7 419.8 L768.2 419.5 L769.8 420.4 L771.3 419.1 L772.9 418.4 L774.4 418.5 L775.9 420.5 L777.5 421.9 L779 419.2 L780.6 420 L782.1 418.7 L783.6 417.4 L785.2 417.6 L786.7 419.5 L788.2 418.7 L789.8 418.3 L791.3 420.7 L792.9 420.7 L794.4 420.4 L795.9 421.9 L797.5 423 L799 424.2 L800.6 424.2 L802.1 426.2 L803.6 425.7 L805.2 428.6 L806.7 427.7 L808.3 430.1 L809.8 436.3 L811.3 436.1 L812.9 440.8 L814.4 440.3 L816 442.1 L817.5 443.4 L819 442.8 L820.6 444.2 L822.1 441.8 L823.6 439.7 L825.2 438.1 L826.7 435 L828.3 434.1 L829.8 428.3 L831.3 427.5 L832.9 422 L834.4 419.9 L836 417.1 L837.5 416.6 L839 410 L840.6 413.1 L842.1 412.2 L843.7 413.2 L845.2 410.4 L846.7 412.7 L848.3 410.8 L849.8 413.2 L851.4 411.6 L852.9 412.4 L854.4 410.8 L856 412.3 L857.5 412.9 L859 411.3 L860.6 413.3 L862.1 412.9 L863.7 410.7 L865.2 413.9 L866.7 410.6 L868.3 412 L869.8 412.5 L871.4 411 L872.9 410.4 L874.4 411.8 L876 411.1 L877.5 409.6 L879.1 408.7 L880.6 407.5 L882.1 405.3 L883.7 399.6 L885.2 387.9 L886.8 374.8 L888.3 368.7 L889.8 363.1 L891.4 357.1 L892.9 358.2 L894.4 358.9 L896 360.4 L897.5 359.2 L899.1 367.3 L900.6 367.9 L902.1 373.4 L903.7 380.3 L905.2 381.6 L906.8 387 L908.3 390.9 L909.8 395.9 L911.4 396 L912.9 398.3 L914.5 398.7 L916 399.4 L917.5 400.9 L919.1 400 L920.6 399.2 L922.2 400.2 L923.7 401.4 L925.2 404.2 L926.8 400.6 L928.3 400.8 L929.8 402.5 L931.4 403 L932.9 401.7 L934.5 403.6 L936 401.7 L937.5 404 L939.1 403.9 L940.6 402.7 L942.2 404.6 L943.7 402.5 L945.2 401.1 L946.8 402.4 L948.3 398.4 L949.9 399.1 L951.4 396.8 L952.9 396.5 L954.5 396.8 L956 396.5 L957.6 397.6 L959.1 395.9 L960.6 395.5 L962.2 391.7 L963.7 391 L965.2 391.2 L966.8 384 L968.3 380 L969.9 375.1 L971.4 364.5 L972.9 352.2 L974.5 342.4 L976 322.7 L977.6 297.2 L979.1 276.8 L980.6 238.8 L980.6 274.9 L979.1 311.2 L977.6 329 L976 350.4 L974.5 367.3 L972.9 376.2 L971.4 378.1 L969.9 388.7 L968.3 390.9 L966.8 394.3 L965.2 401.4 L963.7 399.3 L962.2 402.2 L960.6 402.5 L959.1 403.4 L957.6 404.2 L956 402.8 L954.5 404.1 L952.9 406.4 L951.4 408 L949.9 409.5 L948.3 409.1 L946.8 410.5 L945.2 412.2 L943.7 410.3 L942.2 411.3 L940.6 409.7 L939.1 411.6 L937.5 410.4 L936 412.9 L934.5 411.2 L932.9 412.1 L931.4 410.9 L929.8 410.4 L928.3 411.1 L926.8 410.6 L925.2 409.8 L923.7 412 L922.2 410.2 L920.6 410 L919.1 410.6 L917.5 407.2 L916 407.8 L914.5 407.3 L912.9 406.4 L911.4 404.4 L909.8 406 L908.3 404.3 L906.8 399.1 L905.2 396.5 L903.7 394.9 L902.1 389.4 L900.6 380.3 L899.1 376 L897.5 373.2 L896 367.4 L894.4 368.5 L892.9 366.2 L891.4 368.6 L889.8 377.1 L888.3 387.3 L886.8 391.6 L885.2 404.5 L883.7 413.4 L882.1 413.4 L880.6 419.9 L879.1 418.5 L877.5 420.3 L876 418.5 L874.4 418.9 L872.9 420.1 L871.4 420.4 L869.8 420.1 L868.3 419 L866.7 419.7 L865.2 418.9 L863.7 421.4 L862.1 422.9 L860.6 418.2 L859 420.6 L857.5 422.2 L856 420.2 L854.4 420.4 L852.9 420.3 L851.4 420.8 L849.8 422.6 L848.3 419.1 L846.7 422.5 L845.2 422.7 L843.7 418.6 L842.1 419.7 L840.6 421.6 L839 424.7 L837.5 423.3 L836 428.4 L834.4 428.4 L832.9 432.6 L831.3 436.6 L829.8 438.2 L828.3 443.6 L826.7 443.4 L825.2 447.5 L823.6 452 L822.1 448.8 L820.6 452.1 L819 449.5 L817.5 452.2 L816 452.7 L814.4 450.1 L812.9 446.1 L811.3 446.2 L809.8 444.4 L808.3 441.7 L806.7 439.2 L805.2 436.4 L803.6 436 L802.1 436.2 L800.6 433.8 L799 431.3 L797.5 430.5 L795.9 430.7 L794.4 432.2 L792.9 430.6 L791.3 430.3 L789.8 428.8 L788.2 428.3 L786.7 427.5 L785.2 428.7 L783.6 426 L782.1 428.3 L780.6 427.8 L779 427.2 L777.5 428.4 L775.9 426.7 L774.4 427.4 L772.9 426.3 L771.3 428.8 L769.8 427.4 L768.2 427.9 L766.7 428.1 L765.2 426.8 L763.6 428.9 L762.1 428.3 L760.5 428.4 L759 429.2 L757.5 430.2 L755.9 430.6 L754.4 431 L752.8 432.1 L751.3 434.2 L749.8 432.7 L748.2 434.5 L746.7 432.2 L745.1 435.8 L743.6 437.4 L742.1 434.2 L740.5 434.9 L739 435.9 L737.5 435.4 L735.9 438.4 L734.4 438.3 L732.8 438.4 L731.3 439.8 L729.8 438.6 L728.2 441 L726.7 443.2 L725.1 444.4 L723.6 444.2 L722.1 444.2 L720.5 438Z" fill="#c2bdb9" fill-opacity="0.45" filter="url(#b1)"/>
<path d="M720.5 426.9 L722.1 438.6 L723.6 441.4 L725.1 440.2 L726.7 436.7 L728.2 437.1 L729.8 437.3 L731.3 434 L732.8 434.6 L734.4 431.4 L735.9 430.4 L737.5 432.8 L739 431.7 L740.5 431.5 L742.1 430.3 L743.6 430.3 L745.1 431.2 L746.7 431.8 L748.2 429.3 L749.8 427.2 L751.3 429.8 L752.8 428.3 L754.4 427.6 L755.9 426.2 L757.5 427.9 L759 424.8 L760.5 424.8 L762.1 422 L763.6 423.3 L765.2 423.1 L766.7 423.7 L768.2 424 L769.8 422.7 L771.3 425.4 L772.9 422.3 L774.4 422.9 L775.9 423.6 L777.5 422 L779 424 L780.6 424.1 L782.1 423.1 L783.6 425.7 L785.2 423.9 L786.7 424.3 L788.2 423.2 L789.8 422.7 L791.3 424.2 L792.9 424.9 L794.4 425.1 L795.9 426.9 L797.5 424 L799 426.2 L800.6 426.5 L802.1 431.2 L803.6 430.4 L805.2 432 L806.7 432.9 L808.3 437.4 L809.8 438.9 L811.3 442.5 L812.9 442.5 L814.4 447.6 L816 447.4 L817.5 448.1 L819 449.2 L820.6 447.5 L822.1 446.4 L823.6 445.5 L825.2 442.9 L826.7 439.9 L828.3 437.5 L829.8 433.6 L831.3 431.4 L832.9 428.6 L834.4 425.2 L836 424.8 L837.5 418.7 L839 418.1 L840.6 418.9 L842.1 416.1 L843.7 414.7 L845.2 417.9 L846.7 416.9 L848.3 414.9 L849.8 417.1 L851.4 415.1 L852.9 414.7 L854.4 416 L856 415.6 L857.5 414.9 L859 415.6 L860.6 414.9 L862.1 416 L863.7 415.9 L865.2 416.6 L866.7 415.3 L868.3 414.2 L869.8 414.2 L871.4 415.3 L872.9 417.1 L874.4 416.2 L876 414.4 L877.5 415.9 L879.1 412.8 L880.6 413.2 L882.1 408.9 L883.7 405.5 L885.2 395.9 L886.8 384.5 L888.3 377.5 L889.8 369 L891.4 364.4 L892.9 363.3 L894.4 367.3 L896 365.2 L897.5 366.6 L899.1 368.4 L900.6 375.7 L902.1 378.7 L903.7 385.3 L905.2 390.7 L906.8 392.4 L908.3 398.5 L909.8 400.5 L911.4 400.4 L912.9 401.5 L914.5 401.6 L916 402.4 L917.5 405.1 L919.1 405.8 L920.6 405.9 L922.2 406 L923.7 405.3 L925.2 406.5 L926.8 404.6 L928.3 406.4 L929.8 408.1 L931.4 408.1 L932.9 406.2 L934.5 406.5 L936 408.4 L937.5 408.9 L939.1 405.4 L940.6 406.6 L942.2 407.3 L943.7 408.1 L945.2 405.2 L946.8 405.8 L948.3 403.9 L949.9 403.3 L951.4 401.9 L952.9 401.1 L954.5 400.5 L956 400.4 L957.6 400 L959.1 399.2 L960.6 398.9 L962.2 397.9 L963.7 396.7 L965.2 394 L966.8 390.3 L968.3 386 L969.9 380.8 L971.4 373.8 L972.9 364.2 L974.5 352.2 L976 336.4 L977.6 316.5 L979.1 292 L980.6 263.2" fill="none" stroke="#0a0a0a" stroke-width="1.55" stroke-opacity="1" stroke-linejoin="round" stroke-linecap="round"/>
</g>
<rect x="717.6" y="263.1" width="273" height="203.3" fill="none" stroke="#151515" stroke-width="1.3"/>
<line x1="720.4" y1="466.4" x2="720.4" y2="469" stroke="#1a1a1a" stroke-width="1.1"/>
<text x="720.4" y="484" font-size="13" text-anchor="middle">-1.0</text>
<line x1="788" y1="466.4" x2="788" y2="469" stroke="#1a1a1a" stroke-width="1.1"/>
<text x="788" y="484" font-size="13" text-anchor="middle">-0.5</text>
<line x1="855.6" y1="466.4" x2="855.6" y2="469" stroke="#1a1a1a" stroke-width="1.1"/>
<text x="855.6" y="484" font-size="13" text-anchor="middle">0.0</text>
<line x1="923.2" y1="466.4" x2="923.2" y2="469" stroke="#1a1a1a" stroke-width="1.1"/>
<text x="923.2" y="484" font-size="13" text-anchor="middle">0.5</text>
<line x1="990.8" y1="466.4" x2="990.8" y2="469" stroke="#1a1a1a" stroke-width="1.1"/>
<text x="990.8" y="484" font-size="13" text-anchor="middle">1.0</text>
<line x1="715.2" y1="416.4" x2="717.6" y2="416.4" stroke="#1a1a1a" stroke-width="1.1"/>
<text x="710.6" y="424.6" font-size="13" text-anchor="end">0</text>
<text x="858" y="501" font-size="14.4" text-anchor="middle">Voltage (V)</text>
<text transform="translate(702.5 366.8) rotate(-90)" font-size="14.6" text-anchor="middle">d²I/dV² (Arb. U)</text>
<text x="680.5" y="283.5" font-size="20" font-weight="bold">f</text>
<line x1="817" y1="383" x2="817" y2="420.3" stroke="#8c1a12" stroke-width="1.8"/>
<path d="M813.9 419.3 L820.1 419.3 L817 425.8 Z" fill="#8c1a12"/>
<line x1="894.3" y1="307" x2="894.3" y2="344.8" stroke="#8c1a12" stroke-width="1.8"/>
<path d="M891.2 343.8 L897.4 343.8 L894.3 350.3 Z" fill="#8c1a12"/>
<defs><filter id="stm" x="0" y="0" width="100%" height="100%" color-interpolation-filters="sRGB">
<feGaussianBlur stdDeviation="4.5" result="h"/>
<feTurbulence type="fractalNoise" baseFrequency="0.022 0.06" numOctaves="2" seed="11" result="t"/>
<feColorMatrix in="t" type="matrix" values="1 0 0 0 0  1 0 0 0 0  1 0 0 0 0  0 0 0 0 1" result="n"/>
<feComposite in="h" in2="n" operator="arithmetic" k1="0" k2="1" k3="0.3" k4="-0.15"/>
<feComponentTransfer><feFuncR type="table" tableValues="0.000 0.034 0.092 0.186 0.278 0.368 0.449 0.523 0.601 0.683 0.753 0.818 0.867 0.912 0.948 0.979 1.000"/><feFuncG type="table" tableValues="0.000 0.002 0.010 0.024 0.047 0.080 0.126 0.183 0.267 0.365 0.469 0.575 0.668 0.758 0.838 0.911 0.973"/><feFuncB type="table" tableValues="0.000 0.000 0.001 0.003 0.007 0.013 0.020 0.028 0.052 0.085 0.132 0.185 0.258 0.336 0.436 0.561 0.745"/><feFuncA type="linear" slope="0" intercept="1"/></feComponentTransfer>
</filter><clipPath id="ca"><rect x="18.2" y="8.8" width="308.8" height="244.6"/></clipPath></defs>
<g clip-path="url(#ca)"><g filter="url(#stm)">
<rect x="-10" y="-20" width="370" height="300" fill="#454545"/>
<ellipse cx="107" cy="15" rx="10.5" ry="6.3" fill="rgb(182,182,182)" fill-opacity="0.8"/>
<ellipse cx="114" cy="36.5" rx="15.7" ry="7.2" fill="rgb(229,229,229)" fill-opacity="1"/>
<ellipse cx="112" cy="37" rx="8.4" ry="4.5" fill="rgb(255,255,255)" fill-opacity="0.9"/>
<ellipse cx="68" cy="49" rx="22" ry="5.8" fill="rgb(189,189,189)" fill-opacity="0.9" transform="rotate(5 68 49)"/>
<ellipse cx="119" cy="59.5" rx="32.5" ry="6.3" fill="rgb(198,198,198)" fill-opacity="0.95" transform="rotate(8 119 59.5)"/>
<ellipse cx="160" cy="74" rx="17.8" ry="6.3" fill="rgb(206,206,206)" fill-opacity="0.9" transform="rotate(-8 160 74)"/>
<ellipse cx="60" cy="87" rx="32.5" ry="6.3" fill="rgb(152,152,152)" fill-opacity="0.6400000000000001" transform="rotate(-3 60 87)"/>
<ellipse cx="145" cy="100" rx="27.2" ry="7.2" fill="rgb(206,206,206)" fill-opacity="0.95"/>
<ellipse cx="34" cy="116" rx="19.9" ry="6.3" fill="rgb(206,206,206)" fill-opacity="0.95" transform="rotate(8 34 116)"/>
<ellipse cx="105" cy="119" rx="16.8" ry="8" fill="rgb(166,166,166)" fill-opacity="0.68"/>
<ellipse cx="30" cy="68" rx="19.9" ry="4.5" fill="rgb(135,135,135)" fill-opacity="0.5599999999999999"/>
<ellipse cx="71" cy="24" rx="15.7" ry="5.4" fill="rgb(135,135,135)" fill-opacity="0.5599999999999999"/>
<ellipse cx="214" cy="61" rx="17.8" ry="8" fill="rgb(229,229,229)" fill-opacity="1"/>
<ellipse cx="213" cy="60" rx="9.4" ry="4.5" fill="rgb(255,255,255)" fill-opacity="0.8"/>
<ellipse cx="172" cy="75" rx="14.7" ry="7.2" fill="rgb(217,217,217)" fill-opacity="1"/>
<ellipse cx="170" cy="102" rx="16.8" ry="8" fill="rgb(213,213,213)" fill-opacity="1"/>
<ellipse cx="311" cy="45" rx="18.9" ry="8" fill="rgb(217,217,217)" fill-opacity="1"/>
<ellipse cx="293" cy="16" rx="19.9" ry="6.3" fill="rgb(213,213,213)" fill-opacity="0.95"/>
<ellipse cx="282" cy="86" rx="22" ry="6.3" fill="rgb(213,213,213)" fill-opacity="0.95"/>
<ellipse cx="276" cy="102" rx="17.8" ry="8.9" fill="rgb(229,229,229)" fill-opacity="1"/>
<ellipse cx="274" cy="102" rx="9.4" ry="4.5" fill="rgb(255,255,255)" fill-opacity="0.8"/>
<ellipse cx="301" cy="124" rx="17.8" ry="7.2" fill="rgb(206,206,206)" fill-opacity="0.9" transform="rotate(10 301 124)"/>
<ellipse cx="236" cy="29" rx="15.7" ry="5.4" fill="rgb(123,123,123)" fill-opacity="0.5599999999999999"/>
<ellipse cx="267" cy="42" rx="13.6" ry="7.2" fill="rgb(123,123,123)" fill-opacity="0.5599999999999999"/>
<ellipse cx="275" cy="52" rx="11.5" ry="5.4" fill="rgb(123,123,123)" fill-opacity="0.48"/>
<ellipse cx="105" cy="163" rx="19.9" ry="8" fill="rgb(250,250,250)" fill-opacity="1" transform="rotate(-5 105 163)"/>
<ellipse cx="105" cy="163" rx="10.5" ry="4.5" fill="rgb(255,255,255)" fill-opacity="1"/>
<ellipse cx="145" cy="147" rx="19.9" ry="8.9" fill="rgb(213,213,213)" fill-opacity="1" transform="rotate(-12 145 147)"/>
<ellipse cx="165" cy="137" rx="13.6" ry="7.2" fill="rgb(206,206,206)" fill-opacity="0.9" transform="rotate(-20 165 137)"/>
<ellipse cx="56" cy="174" rx="38.8" ry="8.9" fill="rgb(208,208,208)" fill-opacity="0.95"/>
<ellipse cx="85" cy="176" rx="22" ry="7.2" fill="rgb(206,206,206)" fill-opacity="0.9"/>
<ellipse cx="95" cy="212" rx="13.6" ry="6.3" fill="rgb(170,170,170)" fill-opacity="0.68"/>
<ellipse cx="48" cy="220" rx="30.4" ry="6.3" fill="rgb(217,217,217)" fill-opacity="1" transform="rotate(8 48 220)"/>
<ellipse cx="29" cy="247" rx="17.8" ry="7.2" fill="rgb(229,229,229)" fill-opacity="1"/>
<ellipse cx="29" cy="139" rx="11.5" ry="5.4" fill="rgb(147,147,147)" fill-opacity="0.5599999999999999"/>
<ellipse cx="166" cy="207" rx="9.4" ry="6.3" fill="rgb(159,159,159)" fill-opacity="0.6400000000000001"/>
<ellipse cx="129" cy="200" rx="13.6" ry="5.4" fill="rgb(112,112,112)" fill-opacity="0.48"/>
<ellipse cx="179" cy="136" rx="19.9" ry="8" fill="rgb(255,255,255)" fill-opacity="1"/>
<ellipse cx="180" cy="136" rx="10.5" ry="4.5" fill="rgb(255,255,255)" fill-opacity="1"/>
<ellipse cx="165" cy="145" rx="13.6" ry="8" fill="rgb(206,206,206)" fill-opacity="0.9"/>
<ellipse cx="223" cy="156" rx="30.4" ry="5.4" fill="rgb(194,194,194)" fill-opacity="0.95" transform="rotate(12 223 156)"/>
<ellipse cx="305" cy="128" rx="27.2" ry="5.4" fill="rgb(198,198,198)" fill-opacity="0.95" transform="rotate(3 305 128)"/>
<ellipse cx="257" cy="191" rx="30.4" ry="5.4" fill="rgb(206,206,206)" fill-opacity="0.95"/>
<ellipse cx="316" cy="198" rx="15.7" ry="7.2" fill="rgb(229,229,229)" fill-opacity="1"/>
<ellipse cx="289" cy="193" rx="17.8" ry="5.4" fill="rgb(194,194,194)" fill-opacity="0.9" transform="rotate(8 289 193)"/>
<ellipse cx="194" cy="208" rx="37.8" ry="7.2" fill="rgb(206,206,206)" fill-opacity="0.95" transform="rotate(8 194 208)"/>
<ellipse cx="231" cy="218" rx="22" ry="7.2" fill="rgb(250,250,250)" fill-opacity="1" transform="rotate(12 231 218)"/>
<ellipse cx="228" cy="217" rx="11.5" ry="4.1" fill="rgb(255,255,255)" fill-opacity="0.9" transform="rotate(12 228 217)"/>
<ellipse cx="177" cy="234" rx="27.2" ry="5.4" fill="rgb(170,170,170)" fill-opacity="0.68" transform="rotate(5 177 234)"/>
<ellipse cx="299" cy="229" rx="13.6" ry="5.4" fill="rgb(203,203,203)" fill-opacity="0.95"/>
<ellipse cx="235" cy="246" rx="15.7" ry="4.5" fill="rgb(123,123,123)" fill-opacity="0.48"/>
<ellipse cx="200" cy="170" rx="22" ry="5.4" fill="rgb(105,105,105)" fill-opacity="0.4"/>
<ellipse cx="130" cy="236" rx="27.2" ry="5.4" fill="rgb(105,105,105)" fill-opacity="0.4"/>
<ellipse cx="300" cy="180" rx="16.8" ry="4.5" fill="rgb(112,112,112)" fill-opacity="0.4"/>
<ellipse cx="42" cy="31" rx="14.6" ry="7.3" fill="rgb(13,13,13)" fill-opacity="0.9"/>
<ellipse cx="25" cy="51" rx="12.3" ry="8.4" fill="rgb(20,20,20)" fill-opacity="0.85"/>
<ellipse cx="82" cy="68" rx="27.3" ry="11.7" fill="rgb(0,0,0)" fill-opacity="1" transform="rotate(12 82 68)"/>
<ellipse cx="108" cy="81" rx="18.1" ry="9.5" fill="rgb(0,0,0)" fill-opacity="1" transform="rotate(15 108 81)"/>
<ellipse cx="65" cy="103" rx="34.2" ry="8.4" fill="rgb(0,0,0)" fill-opacity="1" transform="rotate(-3 65 103)"/>
<ellipse cx="156" cy="39" rx="18.1" ry="8.4" fill="rgb(0,0,0)" fill-opacity="1"/>
<ellipse cx="180" cy="42" rx="27.3" ry="9.5" fill="rgb(0,0,0)" fill-opacity="1"/>
<ellipse cx="153" cy="87" rx="11.2" ry="7.3" fill="rgb(26,26,26)" fill-opacity="0.8"/>
<ellipse cx="145" cy="127" rx="15.8" ry="7.3" fill="rgb(0,0,0)" fill-opacity="0.95"/>
<ellipse cx="145" cy="53" rx="13.5" ry="6.2" fill="rgb(31,31,31)" fill-opacity="0.7"/>
<ellipse cx="192" cy="25" rx="15.8" ry="8.4" fill="rgb(0,0,0)" fill-opacity="1"/>
<ellipse cx="233" cy="12" rx="31.9" ry="7.3" fill="rgb(0,0,0)" fill-opacity="1"/>
<ellipse cx="241" cy="46" rx="22.7" ry="8.4" fill="rgb(8,8,8)" fill-opacity="0.9"/>
<ellipse cx="210" cy="46" rx="18.1" ry="8.4" fill="rgb(13,13,13)" fill-opacity="0.9"/>
<ellipse cx="262" cy="65" rx="19.2" ry="8.4" fill="rgb(0,0,0)" fill-opacity="1"/>
<ellipse cx="245" cy="92" rx="14.6" ry="10.6" fill="rgb(0,0,0)" fill-opacity="1"/>
<ellipse cx="208" cy="114" rx="27.3" ry="17.2" fill="rgb(0,0,0)" fill-opacity="1"/>
<ellipse cx="293" cy="29" rx="19.2" ry="7.3" fill="rgb(31,31,31)" fill-opacity="0.8"/>
<ellipse cx="313" cy="116" rx="15.8" ry="6.2" fill="rgb(26,26,26)" fill-opacity="0.8"/>
<ellipse cx="225" cy="85" rx="15.8" ry="10.6" fill="rgb(38,38,38)" fill-opacity="0.6"/>
<ellipse cx="44" cy="150" rx="15.8" ry="7.3" fill="rgb(13,13,13)" fill-opacity="0.9"/>
<ellipse cx="85" cy="195" rx="31.9" ry="8.4" fill="rgb(0,0,0)" fill-opacity="1"/>
<ellipse cx="39" cy="207" rx="27.3" ry="9.5" fill="rgb(0,0,0)" fill-opacity="1"/>
<ellipse cx="139" cy="130" rx="18.1" ry="7.3" fill="rgb(0,0,0)" fill-opacity="1"/>
<ellipse cx="141" cy="208" rx="13.5" ry="8.4" fill="rgb(20,20,20)" fill-opacity="0.9"/>
<ellipse cx="136" cy="190" rx="18.1" ry="7.3" fill="rgb(20,20,20)" fill-opacity="0.8"/>
<ellipse cx="162" cy="164" rx="13.5" ry="8.4" fill="rgb(46,46,46)" fill-opacity="0.7"/>
<ellipse cx="34" cy="229" rx="15.8" ry="6.2" fill="rgb(26,26,26)" fill-opacity="0.8"/>
<ellipse cx="110" cy="225" rx="22.7" ry="6.2" fill="rgb(26,26,26)" fill-opacity="0.8"/>
<ellipse cx="153" cy="247" rx="18.1" ry="6.2" fill="rgb(13,13,13)" fill-opacity="0.9"/>
<ellipse cx="240" cy="178" rx="43.4" ry="9.5" fill="rgb(0,0,0)" fill-opacity="1" transform="rotate(-8 240 178)"/>
<ellipse cx="274" cy="156" rx="15.8" ry="7.3" fill="rgb(0,0,0)" fill-opacity="1"/>
<ellipse cx="308" cy="144" rx="19.2" ry="8.4" fill="rgb(20,20,20)" fill-opacity="0.9"/>
<ellipse cx="289" cy="217" rx="43.4" ry="8.4" fill="rgb(0,0,0)" fill-opacity="1"/>
<ellipse cx="310" cy="166" rx="18.1" ry="7.3" fill="rgb(20,20,20)" fill-opacity="0.85"/>
<ellipse cx="174" cy="247" rx="19.2" ry="7.3" fill="rgb(0,0,0)" fill-opacity="1"/>
<ellipse cx="216" cy="235" rx="18.1" ry="7.3" fill="rgb(31,31,31)" fill-opacity="0.8"/>
<ellipse cx="177" cy="167" rx="20.4" ry="8.4" fill="rgb(38,38,38)" fill-opacity="0.7"/>
<ellipse cx="231" cy="139" rx="18.1" ry="7.3" fill="rgb(31,31,31)" fill-opacity="0.8"/>
<ellipse cx="209" cy="127" rx="15.8" ry="6.2" fill="rgb(0,0,0)" fill-opacity="0.9"/>
<ellipse cx="231" cy="200" rx="15.8" ry="6.2" fill="rgb(38,38,38)" fill-opacity="0.7"/>
<ellipse cx="75" cy="140" rx="25" ry="7.3" fill="rgb(38,38,38)" fill-opacity="0.6"/>
<ellipse cx="30" cy="14" rx="18.1" ry="7.3" fill="rgb(38,38,38)" fill-opacity="0.7"/>
<ellipse cx="60" cy="36" rx="13.5" ry="6.2" fill="rgb(38,38,38)" fill-opacity="0.5"/>
<ellipse cx="22" cy="60" rx="8.9" ry="10.6" fill="rgb(26,26,26)" fill-opacity="0.6"/>
<ellipse cx="130" cy="30" rx="13.5" ry="6.2" fill="rgb(38,38,38)" fill-opacity="0.5"/>
<ellipse cx="95" cy="100" rx="13.5" ry="7.3" fill="rgb(46,46,46)" fill-opacity="0.5"/>
<ellipse cx="120" cy="140" rx="15.8" ry="6.2" fill="rgb(38,38,38)" fill-opacity="0.5"/>
<ellipse cx="250" cy="120" rx="30.7" ry="7.3" fill="rgb(38,38,38)" fill-opacity="0.6"/>
<ellipse cx="285" cy="70" rx="18.1" ry="6.2" fill="rgb(46,46,46)" fill-opacity="0.5"/>
<ellipse cx="200" cy="190" rx="22.7" ry="6.2" fill="rgb(38,38,38)" fill-opacity="0.5"/>
<ellipse cx="60" cy="236" rx="18.1" ry="6.2" fill="rgb(38,38,38)" fill-opacity="0.5"/>
<ellipse cx="255" cy="205" rx="20.4" ry="5.7" fill="rgb(38,38,38)" fill-opacity="0.6"/>
<ellipse cx="320" cy="230" rx="11.2" ry="10.6" fill="rgb(38,38,38)" fill-opacity="0.6"/>
<ellipse cx="270" cy="243" rx="27.3" ry="8.4" fill="rgb(20,20,20)" fill-opacity="0.85"/>
<ellipse cx="318" cy="240" rx="13.5" ry="10.6" fill="rgb(20,20,20)" fill-opacity="0.8"/>
<ellipse cx="320" cy="75" rx="11.2" ry="12.8" fill="rgb(51,51,51)" fill-opacity="0.6"/>
<ellipse cx="22" cy="95" rx="8.9" ry="10.6" fill="rgb(51,51,51)" fill-opacity="0.6"/>
</g></g>
<rect x="18.2" y="8.8" width="308.8" height="244.6" fill="none" stroke="#2a0800" stroke-width="1" stroke-opacity="0.8"/>
<rect x="45" y="231.9" width="63.8" height="2.7" fill="#fff"/>
<text x="75.5" y="250" font-size="13.5" text-anchor="middle" fill="#fff">1.6 nm</text>
<text x="1" y="28.5" font-size="20" font-weight="bold">a</text>
<text x="5" y="522.5" font-size="20" font-weight="bold">g</text>
<defs>
<filter id="gb10" filterUnits="userSpaceOnUse" x="0" y="560" width="420" height="310"><feGaussianBlur stdDeviation="9.5"/></filter>
<filter id="gb8" filterUnits="userSpaceOnUse" x="0" y="560" width="420" height="310"><feGaussianBlur stdDeviation="7"/></filter>
<filter id="gb4" x="-30%" y="-30%" width="160%" height="160%"><feGaussianBlur stdDeviation="3.5"/></filter>
<filter id="gb2" x="-30%" y="-60%" width="160%" height="220%"><feGaussianBlur stdDeviation="2.6"/></filter>
<filter id="gb1" x="-30%" y="-30%" width="160%" height="160%"><feGaussianBlur stdDeviation="0.8"/></filter>
<linearGradient id="wvg" x1="0" y1="0" x2="0.45" y2="1"><stop offset="0" stop-color="#5a6ed0"/><stop offset="0.5" stop-color="#5d55b0"/><stop offset="1" stop-color="#8a3560"/></linearGradient>
<linearGradient id="plate" x1="0" y1="0" x2="1" y2="0"><stop offset="0" stop-color="#bb7548"/><stop offset="1" stop-color="#b67245"/></linearGradient>
<linearGradient id="tipg" x1="0" y1="0" x2="1" y2="0"><stop offset="0" stop-color="#6486d3"/><stop offset="0.5" stop-color="#6c8dd8"/><stop offset="1" stop-color="#6183d0"/></linearGradient>
<linearGradient id="obeam" x1="313" y1="803" x2="386" y2="740" gradientUnits="userSpaceOnUse"><stop offset="0" stop-color="#e07a36" stop-opacity="0.95"/><stop offset="0.45" stop-color="#eaa877" stop-opacity="0.8"/><stop offset="1" stop-color="#fbe6d2" stop-opacity="0.25"/></linearGradient>
<linearGradient id="ptg" x1="0" y1="0" x2="1" y2="0"><stop offset="0" stop-color="#b4b4b4"/><stop offset="0.14" stop-color="#cccccc"/><stop offset="0.88" stop-color="#c9c9c9"/><stop offset="1" stop-color="#adadad"/></linearGradient>
<linearGradient id="ptt" x1="0" y1="0" x2="0" y2="1"><stop offset="0" stop-color="#6e6e6e"/><stop offset="0.4" stop-color="#9c9c9c" stop-opacity="0.85"/><stop offset="1" stop-color="#cccccc" stop-opacity="0"/></linearGradient>
<radialGradient id="ball" cx="0.4" cy="0.35" r="0.7"><stop offset="0" stop-color="#6f9a4c"/><stop offset="0.6" stop-color="#3f7a28"/><stop offset="1" stop-color="#245a14"/></radialGradient>
<radialGradient id="hole" cx="0.4" cy="0.35" r="0.7"><stop offset="0" stop-color="#ffffff"/><stop offset="0.6" stop-color="#e2e2e2"/><stop offset="1" stop-color="#9a9a9a"/></radialGradient>
</defs>
<path d="M186.5 843 L186.5 849.5 L326 871 L326 862 Z" fill="#9c5726"/>
<path d="M324 862 L326 872 L458.5 791.5 L458.5 784.5 Z" fill="#0a0705"/>
<path d="M186.5 843.5 L321.5 765.5 L458.5 785 L324.5 863.3 Z" fill="url(#plate)"/>
<path d="M321.5 765.5 L458.5 785 L324.5 863.3" fill="none" stroke="#d9813a" stroke-width="0.8" stroke-opacity="0.8"/>
<path d="M309 799 L382 735 L391 745 L318 808 Z" fill="url(#obeam)" filter="url(#gb1)"/>
<g filter="url(#gb10)"><line x1="79.5" y1="659" x2="280" y2="785" stroke="#6ab3fb" stroke-width="60" stroke-linecap="round" stroke-opacity="0.95"/></g>
<g filter="url(#gb8)"><line x1="78" y1="657.8" x2="290" y2="791.5" stroke="#5aa9f9" stroke-width="24" stroke-linecap="round" stroke-opacity="0.5"/></g>
<g filter="url(#gb8)"><ellipse cx="290" cy="792" rx="20" ry="12" fill="#4d8fe0" fill-opacity="0.4"/></g>
<line x1="70" y1="652" x2="284" y2="786.5" stroke="#3b6fc0" stroke-width="0.7" stroke-opacity="0.8"/>
<path d="M96 672.1 L96.4 672.2 L96.8 672.3 L97.2 672.4 L97.6 672.5 L98 672.6 L98.4 672.7 L98.8 672.8 L99.2 673 L99.6 673.1 L100 673.3 L100.4 673.5 L100.8 673.8 L101.2 674.1 L101.6 674.4 L102 674.8 L102.4 675.2 L102.8 675.7 L103.2 676.2 L103.6 676.8 L104 677.3 L104.4 677.9 L104.8 678.5 L105.2 679 L105.6 679.6 L106 680 L106.4 680.5 L106.8 680.8 L107.2 681.1 L107.6 681.3 L108 681.4 L108.4 681.4 L108.8 681.4 L109.2 681.2 L109.6 681 L110 680.7 L110.4 680.4 L110.8 680 L111.3 679.7 L111.7 679.4 L112.1 679.1 L112.5 678.9 L112.9 678.8 L113.3 678.8 L113.7 679 L114.1 679.3 L114.5 679.7 L114.9 680.3 L115.3 681.1 L115.7 681.9 L116.1 683 L116.5 684.1 L116.9 685.3 L117.3 686.6 L117.7 687.8 L118.1 689.1 L118.5 690.2 L118.9 691.3 L119.3 692.2 L119.7 692.9 L120.1 693.5 L120.5 693.8 L120.9 693.8 L121.3 693.6 L121.7 693.2 L122.1 692.5 L122.5 691.6 L122.9 690.5 L123.3 689.3 L123.7 688 L124.1 686.7 L124.5 685.4 L124.9 684.2 L125.3 683.1 L125.7 682.2 L126.1 681.6 L126.5 681.3 L126.9 681.4 L127.3 681.8 L127.7 682.5 L128.1 683.7 L128.5 685.2 L128.9 687 L129.3 689 L129.7 691.3 L130.1 693.8 L130.5 696.3 L130.9 698.8 L131.3 701.1 L131.7 703.4 L132.1 705.3 L132.5 706.9 L132.9 708.1 L133.3 708.8 L133.7 709.1 L134.1 708.9 L134.5 708.1 L134.9 706.9 L135.3 705.2 L135.7 703.2 L136.1 700.9 L136.5 698.3 L136.9 695.7 L137.3 693 L137.7 690.4 L138.1 688 L138.5 686 L138.9 684.3 L139.3 683.1 L139.7 682.5 L140.1 682.5 L140.5 683.1 L140.9 684.3 L141.4 686.2 L141.8 688.5 L142.2 691.4 L142.6 694.6 L143 698.2 L143.4 701.9 L143.8 705.7 L144.2 709.3 L144.6 712.8 L145 715.9 L145.4 718.6 L145.8 720.8 L146.2 722.3 L146.6 723.2 L147 723.3 L147.4 722.8 L147.8 721.5 L148.2 719.6 L148.6 717.2 L149 714.3 L149.4 711 L149.8 707.5 L150.2 703.9 L150.6 700.4 L151 697.1 L151.4 694 L151.8 691.5 L152.2 689.4 L152.6 688.1 L153 687.4 L153.4 687.4 L153.8 688.2 L154.2 689.7 L154.6 691.9 L155 694.7 L155.4 698 L155.8 701.7 L156.2 705.6 L156.6 709.7 L157 713.8 L157.4 717.7 L157.8 721.3 L158.2 724.5 L158.6 727.2 L159 729.3 L159.4 730.8 L159.8 731.5 L160.2 731.6 L160.6 730.9 L161 729.6 L161.4 727.7 L161.8 725.3 L162.2 722.5 L162.6 719.4 L163 716.2 L163.4 712.9 L163.8 709.8 L164.2 706.8 L164.6 704.3 L165 702.1 L165.4 700.5 L165.8 699.5 L166.2 699 L166.6 699.2 L167 700 L167.4 701.4 L167.8 703.3 L168.2 705.6 L168.6 708.4 L169 711.3 L169.4 714.5 L169.8 717.7 L170.2 720.8 L170.6 723.8 L171.1 726.5 L171.5 728.9 L171.9 730.8 L172.3 732.3 L172.7 733.4 L173.1 733.9 L173.5 733.9 L173.9 733.4 L174.3 732.6 L174.7 731.3 L175.1 729.7 L175.5 727.9 L175.9 726 L176.3 724 L176.7 722 L177.1 720.2 L177.5 718.5 L177.9 717 L178.3 715.8 L178.7 715 L179.1 714.6 L179.5 714.5 L179.9 714.7 L180.3 715.4 L180.7 716.3 L181.1 717.5 L181.5 719 L181.9 720.6 L182.3 722.4 L182.7 724.2 L183.1 726.1 L183.5 727.8 L183.9 729.5 L184.3 731 L184.7 732.3 L185.1 733.4 L185.5 734.2 L185.9 734.8 L186.3 735.2 L186.7 735.3 L187.1 735.1 L187.5 734.8 L187.9 734.3 L188.3 733.7 L188.7 733 L189.1 732.3 L189.5 731.5 L189.9 730.8 L190.3 730.1 L190.7 729.5 L191.1 729.1 L191.5 728.7 L191.9 728.6 L192.3 728.5 L192.7 728.7 L193.1 728.9 L193.5 729.4 L193.9 729.9 L194.3 730.6 L194.7 731.3 L195.1 732.1 L195.5 732.9 L195.9 733.8 L196.3 734.6 L196.7 735.4 L197.1 736.2 L197.5 736.9 L197.9 737.5 L198.3 738 L198.7 738.5 L199.1 738.8 L199.5 739.1 L199.9 739.3 L200.3 739.4 L200.7 739.5 L201.2 739.5 L201.6 739.4 L202 739.4 L202.4 739.3 L202.8 739.3 L203.2 739.2 L203.6 739.2 L204 739.2 L204.4 739.2 L204.8 739.3 L205.2 739.4 L205.6 739.6 L206 739.8 L206.4 740.1 L206.8 740.4 L207.2 740.8 L207.6 741.1 L208 741.5 L208.4 741.9 L208.8 742.3 L209.2 742.7 L209.6 743.1 L210 743.5 L210.4 743.9 L210.8 744.3 L211.2 744.6 L211.6 744.9 L212 745.2 L212.4 745.5 L212.8 745.8 L213.2 746 L213.6 746.2 L214 746.4 L214.4 746.6 L214.8 746.8 L215.2 747 L215.6 747.2 L216 747.3" fill="none" stroke="#6b5bb5" stroke-width="1.6" stroke-opacity="0.4" filter="url(#gb1)"/>
<path d="M96 672.1 L96.4 672.2 L96.8 672.3 L97.2 672.4 L97.6 672.5 L98 672.6 L98.4 672.7 L98.8 672.8 L99.2 673 L99.6 673.1 L100 673.3 L100.4 673.5 L100.8 673.8 L101.2 674.1 L101.6 674.4 L102 674.8 L102.4 675.2 L102.8 675.7 L103.2 676.2 L103.6 676.8 L104 677.3 L104.4 677.9 L104.8 678.5 L105.2 679 L105.6 679.6 L106 680 L106.4 680.5 L106.8 680.8 L107.2 681.1 L107.6 681.3 L108 681.4 L108.4 681.4 L108.8 681.4 L109.2 681.2 L109.6 681 L110 680.7 L110.4 680.4 L110.8 680 L111.3 679.7 L111.7 679.4 L112.1 679.1 L112.5 678.9 L112.9 678.8 L113.3 678.8 L113.7 679 L114.1 679.3 L114.5 679.7 L114.9 680.3 L115.3 681.1 L115.7 681.9 L116.1 683 L116.5 684.1 L116.9 685.3 L117.3 686.6 L117.7 687.8 L118.1 689.1 L118.5 690.2 L118.9 691.3 L119.3 692.2 L119.7 692.9 L120.1 693.5 L120.5 693.8 L120.9 693.8 L121.3 693.6 L121.7 693.2 L122.1 692.5 L122.5 691.6 L122.9 690.5 L123.3 689.3 L123.7 688 L124.1 686.7 L124.5 685.4 L124.9 684.2 L125.3 683.1 L125.7 682.2 L126.1 681.6 L126.5 681.3 L126.9 681.4 L127.3 681.8 L127.7 682.5 L128.1 683.7 L128.5 685.2 L128.9 687 L129.3 689 L129.7 691.3 L130.1 693.8 L130.5 696.3 L130.9 698.8 L131.3 701.1 L131.7 703.4 L132.1 705.3 L132.5 706.9 L132.9 708.1 L133.3 708.8 L133.7 709.1 L134.1 708.9 L134.5 708.1 L134.9 706.9 L135.3 705.2 L135.7 703.2 L136.1 700.9 L136.5 698.3 L136.9 695.7 L137.3 693 L137.7 690.4 L138.1 688 L138.5 686 L138.9 684.3 L139.3 683.1 L139.7 682.5 L140.1 682.5 L140.5 683.1 L140.9 684.3 L141.4 686.2 L141.8 688.5 L142.2 691.4 L142.6 694.6 L143 698.2 L143.4 701.9 L143.8 705.7 L144.2 709.3 L144.6 712.8 L145 715.9 L145.4 718.6 L145.8 720.8 L146.2 722.3 L146.6 723.2 L147 723.3 L147.4 722.8 L147.8 721.5 L148.2 719.6 L148.6 717.2 L149 714.3 L149.4 711 L149.8 707.5 L150.2 703.9 L150.6 700.4 L151 697.1 L151.4 694 L151.8 691.5 L152.2 689.4 L152.6 688.1 L153 687.4 L153.4 687.4 L153.8 688.2 L154.2 689.7 L154.6 691.9 L155 694.7 L155.4 698 L155.8 701.7 L156.2 705.6 L156.6 709.7 L157 713.8 L157.4 717.7 L157.8 721.3 L158.2 724.5 L158.6 727.2 L159 729.3 L159.4 730.8 L159.8 731.5 L160.2 731.6 L160.6 730.9 L161 729.6 L161.4 727.7 L161.8 725.3 L162.2 722.5 L162.6 719.4 L163 716.2 L163.4 712.9 L163.8 709.8 L164.2 706.8 L164.6 704.3 L165 702.1 L165.4 700.5 L165.8 699.5 L166.2 699 L166.6 699.2 L167 700 L167.4 701.4 L167.8 703.3 L168.2 705.6 L168.6 708.4 L169 711.3 L169.4 714.5 L169.8 717.7 L170.2 720.8 L170.6 723.8 L171.1 726.5 L171.5 728.9 L171.9 730.8 L172.3 732.3 L172.7 733.4 L173.1 733.9 L173.5 733.9 L173.9 733.4 L174.3 732.6 L174.7 731.3 L175.1 729.7 L175.5 727.9 L175.9 726 L176.3 724 L176.7 722 L177.1 720.2 L177.5 718.5 L177.9 717 L178.3 715.8 L178.7 715 L179.1 714.6 L179.5 714.5 L179.9 714.7 L180.3 715.4 L180.7 716.3 L181.1 717.5 L181.5 719 L181.9 720.6 L182.3 722.4 L182.7 724.2 L183.1 726.1 L183.5 727.8 L183.9 729.5 L184.3 731 L184.7 732.3 L185.1 733.4 L185.5 734.2 L185.9 734.8 L186.3 735.2 L186.7 735.3 L187.1 735.1 L187.5 734.8 L187.9 734.3 L188.3 733.7 L188.7 733 L189.1 732.3 L189.5 731.5 L189.9 730.8 L190.3 730.1 L190.7 729.5 L191.1 729.1 L191.5 728.7 L191.9 728.6 L192.3 728.5 L192.7 728.7 L193.1 728.9 L193.5 729.4 L193.9 729.9 L194.3 730.6 L194.7 731.3 L195.1 732.1 L195.5 732.9 L195.9 733.8 L196.3 734.6 L196.7 735.4 L197.1 736.2 L197.5 736.9 L197.9 737.5 L198.3 738 L198.7 738.5 L199.1 738.8 L199.5 739.1 L199.9 739.3 L200.3 739.4 L200.7 739.5 L201.2 739.5 L201.6 739.4 L202 739.4 L202.4 739.3 L202.8 739.3 L203.2 739.2 L203.6 739.2 L204 739.2 L204.4 739.2 L204.8 739.3 L205.2 739.4 L205.6 739.6 L206 739.8 L206.4 740.1 L206.8 740.4 L207.2 740.8 L207.6 741.1 L208 741.5 L208.4 741.9 L208.8 742.3 L209.2 742.7 L209.6 743.1 L210 743.5 L210.4 743.9 L210.8 744.3 L211.2 744.6 L211.6 744.9 L212 745.2 L212.4 745.5 L212.8 745.8 L213.2 746 L213.6 746.2 L214 746.4 L214.4 746.6 L214.8 746.8 L215.2 747 L215.6 747.2 L216 747.3" fill="none" stroke="url(#wvg)" stroke-width="0.9" stroke-opacity="0.75"/>
<path d="M214.5 744.5 L224 752 L212.5 749.6 Z" fill="#4a80d8"/>
<text x="182.5" y="663.4" font-size="23" text-anchor="middle" fill="#3c60b2" style="font-family:'Liberation Serif','Times New Roman',serif">hν</text>
<path d="M310 803.5 L315.5 799.5 L321 803 L315.5 807.5 Z" fill="#dc7a3a" fill-opacity="0.9" filter="url(#gb1)"/>
<circle cx="313.5" cy="803" r="12" fill="none" stroke="#6f6f78" stroke-width="0.9" stroke-dasharray="2.2 2"/>
<path d="M272.8 671.2 L272.9 675.7 L273.1 680.1 L273.3 684.6 L273.6 689 L274 693.5 L274.5 697.9 L275.1 702.4 L275.8 706.8 L276.6 711.3 L277.4 715.7 L278.3 720.2 L279.2 724.6 L280.2 729.1 L281.4 733.5 L282.7 738 L284.1 742.4 L285.6 746.9 L287.3 751.3 L289.2 755.8 L291.2 760.2 L293.6 764.7 L296.3 769.1 L299.4 773.6 L299.7 775.2 L300.7 776.7 L302.2 778.1 L304.2 779.2 L306.6 780.1 L309.3 780.6 L312.1 780.8 L314.9 780.6 L317.6 780.1 L320 779.2 L322 778.1 L323.5 776.7 L324.5 775.2 L324.8 773.6 L327.9 769.1 L330.6 764.7 L333 760.2 L335 755.8 L336.9 751.3 L338.6 746.9 L340.1 742.4 L341.5 738 L342.8 733.5 L344 729.1 L345 724.6 L345.9 720.2 L346.8 715.7 L347.6 711.3 L348.4 706.8 L349.1 702.4 L349.7 697.9 L350.2 693.5 L350.6 689 L350.9 684.6 L351.1 680.1 L351.3 675.7 L351.4 671.2Z" fill="url(#tipg)"/>
<ellipse cx="312.2" cy="671" rx="39.5" ry="3.9" fill="#4d72bf"/>
<path d="M301.6 775.8 L321 765.4 L330.8 767.3 L326.3 773.6 Q322 778 318.8 779.6 Q312.1 782 306.9 779.6 Z" fill="#5878c2" fill-opacity="0.9"/>
<text x="311.3" y="742" font-size="21" text-anchor="middle">Tip</text>
<text x="243" y="850.5" font-size="18.5">Nd:MAPbI<tspan font-size="12.5" dy="4">3</tspan></text>
<line x1="431" y1="763.6" x2="431" y2="556" stroke="#777" stroke-width="1.3"/><path d="M427.2 558 L431 549 L434.8 558 Z" fill="#777"/>
<text transform="translate(423 657) rotate(-90)" font-size="18.4" text-anchor="middle">Energy levels (eV)</text>
<rect x="453.75" y="684.5" width="66" height="84.5" fill="url(#ptg)"/>
<rect x="453.75" y="684.5" width="66" height="9" fill="url(#ptt)"/>
<rect x="453.75" y="767.2" width="66" height="1.8" fill="#8d8d8d"/>
<line x1="453.75" y1="684.6" x2="519.75" y2="684.6" stroke="#6e6e6e" stroke-width="1.2"/>
<line x1="453.75" y1="539" x2="453.75" y2="769" stroke="#0c0c0c" stroke-width="2.3"/>
<line x1="519.75" y1="539" x2="519.75" y2="769" stroke="#0c0c0c" stroke-width="2.3"/>
<line x1="582.3" y1="539" x2="582.3" y2="769" stroke="#0c0c0c" stroke-width="2.3"/>
<text x="485.8" y="733.7" font-size="18" text-anchor="middle" fill="#fff">Pt Tip</text>
<text x="550.2" y="700.7" font-size="13.4" text-anchor="middle">Vacuum</text><text x="550.2" y="715.5" font-size="13.4" text-anchor="middle">Gap</text>
<rect x="581" y="608.5" width="103.3" height="13.6" fill="#9fe2fb" fill-opacity="0.95" filter="url(#gb2)"/>
<rect x="585" y="614" width="95.3" height="2.6" fill="#44b8ef"/>
<rect x="580.3" y="703" width="102.9" height="15.6" fill="#9fe2fb" fill-opacity="0.95" filter="url(#gb2)"/>
<rect x="584.3" y="707.5" width="94.9" height="6.6" fill="#4cb4f0"/>
<rect x="660" y="641.6" width="140.4" height="1.9" fill="#bc521c"/>
<rect x="662.4" y="759.2" width="140.1" height="7.6" fill="#c0601f"/>
<line x1="463.2" y1="595.2" x2="463.2" y2="668" stroke="#777" stroke-width="1.4"/><path d="M459.4 667 L463.2 676 L467 667 Z" fill="#777"/>
<line x1="618.75" y1="692" x2="618.75" y2="626" stroke="#777" stroke-width="1.4"/><path d="M615 626.5 L618.75 619 L622.5 626.5 Z" fill="#777"/>
<path d="M462.3 591.4 L462.8 589.1 L463.3 586.7 L463.9 584.5 L464.4 582.5 L464.9 580.6 L465.4 579.1 L466 578 L466.5 577.2 L467 576.8 L467.5 576.8 L468.1 577.3 L468.6 578.1 L469.1 579.3 L469.6 580.9 L470.2 582.7 L470.7 584.8 L471.2 587 L471.7 589.4 L472.3 591.8 L472.8 594.1 L473.3 596.3 L473.8 598.3 L474.4 600.1 L474.9 601.5 L475.4 602.7 L475.9 603.4 L476.5 603.7 L477 603.6 L477.5 603.1 L478 602.3 L478.6 601 L479.1 599.4 L479.6 597.5 L480.1 595.4 L480.7 593.1 L481.2 590.8 L481.7 588.4 L482.2 586.1 L482.8 583.9 L483.3 581.9 L483.8 580.2 L484.3 578.8 L484.9 577.7 L485.4 577 L485.9 576.8 L486.4 576.9 L487 577.4 L487.5 578.4 L488 579.7 L488.5 581.3 L489.1 583.3 L489.6 585.4 L490.1 587.7 L490.6 590 L491.2 592.4 L491.7 594.7 L492.2 596.9 L492.7 598.8 L493.3 600.5 L493.8 601.9 L494.3 602.9 L494.8 603.5 L495.4 603.7 L495.9 603.6 L496.4 602.9 L496.9 601.9 L497.5 600.6 L498 598.9 L498.5 597 L499 594.8 L499.6 592.5 L500.1 590.2 L500.6 587.8 L501.1 585.5 L501.7 583.4 L502.2 581.4 L502.7 579.8 L503.2 578.5 L503.8 577.5 L504.3 576.9 L504.8 576.8 L505.3 577 L505.9 577.7 L506.4 578.7 L506.9 580.1 L507.4 581.8 L508 583.8 L508.5 586 L509 588.3 L509.5 590.7 L510.1 593 L510.6 595.3 L511.1 597.4 L511.6 599.3 L512.2 600.9 L512.7 602.2 L513.2 603.1 L513.7 603.6 L514.3 603.7 L514.8 603.4 L515.3 602.7 L515.8 601.6 L516.4 600.2 L516.9 598.4 L517.4 596.4 L517.9 594.2 L518.5 591.9 L519 589.5 L519.5 587.2" fill="none" stroke="#5fa023" stroke-width="1.35"/>
<path d="M581.9 569.8 C577 578 570 583.5 558 586.3 C546 589 533 590 521 591" fill="none" stroke="#5fa023" stroke-width="1.35"/>
<path d="M529.6 585 L520.8 591 L530.3 594.5" fill="none" stroke="#5fa023" stroke-width="1.35"/>
<path d="M582.3 569.5 L582.6 569.5 L583 569.5 L583.3 570.3 L583.7 571.4 L584 572.7 L584.3 574.2 L584.7 576 L585 578 L585.4 580.2 L585.7 582.5 L586 584.9 L586.4 587.4 L586.7 590 L587 592.5 L587.4 595.1 L587.7 597.7 L588.1 600.2 L588.4 602.5 L588.7 604.8 L589.1 606.8 L589.4 608.7 L589.8 610.4 L590.1 611.9 L590.4 613.1 L590.8 614.1 L591.1 614.7 L591.5 615.1 L591.8 615.2 L592.1 615.1 L592.5 614.6 L592.8 613.8 L593.1 612.8 L593.5 611.5 L593.8 610 L594.2 608.3 L594.5 606.3 L594.8 604.2 L595.2 601.9 L595.5 599.5 L595.9 597 L596.2 594.5 L596.5 591.9 L596.9 589.3 L597.2 586.7 L597.6 584.3 L597.9 581.9 L598.2 579.6 L598.6 577.5 L598.9 575.6 L599.3 573.8 L599.6 572.3 L599.9 571.1 L600.3 570.1 L600.6 569.3 L600.9 568.9 L601.3 568.8 L601.6 568.9 L602 569.3 L602.3 570 L602.6 571 L603 572.2 L603.3 573.7 L603.7 575.4 L604 577.3 L604.3 579.4 L604.7 581.7 L605 584.1 L605.4 586.5 L605.7 589.1 L606 591.7 L606.4 594.3 L606.7 596.8 L607.1 599.3 L607.4 601.7 L607.7 604 L608.1 606.2 L608.4 608.1 L608.7 609.9 L609.1 611.4 L609.4 612.7 L609.8 613.8 L610.1 614.6 L610.4 615 L610.8 615.2 L611.1 615.2 L611.5 614.8 L611.8 614.1 L612.1 613.2 L612.5 612 L612.8 610.6 L613.2 608.9 L613.5 607 L613.8 604.9 L614.2 602.7 L614.5 600.3 L614.8 597.9 L615.2 595.3 L615.5 592.7 L615.9 590.2 L616.2 587.6 L616.5 585.1 L616.9 582.6 L617.2 580.3 L617.6 578.2 L617.9 576.2 L618.2 574.4 L618.6 572.8 L618.9 571.5 L619.3 570.4 L619.6 569.6 L619.9 569 L620.3 568.8 L620.6 568.8 L621 569.1 L621.3 569.7 L621.6 570.6 L622 571.8 L622.3 573.2 L622.6 574.8 L623 576.7 L623.3 578.7 L623.7 580.9 L624 583.3 L624.3 585.7 L624.7 588.2 L625 590.8 L625.4 593.4 L625.7 596 L626 598.5 L626.4 601 L626.7 603.3 L627.1 605.5 L627.4 607.5 L627.7 609.3 L628.1 611 L628.4 612.3 L628.8 613.5 L629.1 614.3 L629.4 614.9 L629.8 615.2 L630.1 615.2 L630.4 614.9 L630.8 614.4 L631.1 613.5 L631.5 612.4 L631.8 611.1 L632.1 609.5 L632.5 607.7 L632.8 605.6 L633.2 603.5 L633.5 601.1 L633.8 598.7 L634.2 596.2 L634.5 593.6 L634.9 591 L635.2 588.4 L635.5 585.9 L635.9 583.4 L636.2 581.1 L636.5 578.9 L636.9 576.8 L637.2 575 L637.6 573.3 L637.9 571.9 L638.2 570.7 L638.6 569.8 L638.9 569.2 L639.3 568.8 L639.6 568.8 L640.4 569.7 L641.2 571.3 L642 573.4 L642.8 576.7 L643.6 580.7 L644.3 584.6 L645.1 588 L645.9 591.1 L646.7 594 L647.5 596.9 L648.3 599.4 L649.1 601.6 L649.9 603.3 L650.7 604.8 L651.5 606.2 L652.3 607.4 L653 608.6 L653.8 609.6 L654.6 610.5 L655.4 611.4 L656.2 612.2 L657 613 L657.8 613.7 L658.6 614.4 L659.4 615.1 L660.2 615.7 L660.9 616.3 L661.7 616.8 L662.5 617.2 L663.3 617.7 L664.1 618.1 L664.9 618.4 L665.7 618.8 L666.5 619.1 L667.3 619.5 L668.1 619.8 L668.9 620.1 L669.6 620.3 L670.4 620.6 L671.2 620.9 L672 621.1 L672.8 621.4 L673.6 621.6 L674.4 621.8 L675.2 622.1 L676 622.3 L676.8 622.5 L677.6 622.7 L678.3 622.9 L679.1 623.1 L679.9 623.3 L680.7 623.5 L681.5 623.6 L682.3 623.8 L683.1 624 L683.9 624.1 L684.7 624.2 L685.5 624.4 L686.2 624.5" fill="none" stroke="#5fa023" stroke-width="1.35"/>
<text x="551.1" y="555" font-size="12.8" text-anchor="middle" fill="#72ab35">Tunneling</text>
<circle cx="468.6" cy="696" r="12.5" fill="#a4ee74" fill-opacity="0.8" filter="url(#gb4)"/>
<circle cx="468.6" cy="696" r="6.5" fill="url(#ball)"/>
<text x="478.3" y="694.3" font-size="13.5" font-style="italic" fill="#000" stroke="#000" stroke-width="0.3">e</text>
<circle cx="616.8" cy="595.8" r="12.5" fill="#a4ee74" fill-opacity="0.8" filter="url(#gb4)"/>
<circle cx="616.8" cy="595.8" r="6.5" fill="url(#ball)"/>
<text x="622.5" y="590.3" font-size="13.5" font-style="italic" fill="#000" stroke="#000" stroke-width="0.3">e</text>
<circle cx="680.2" cy="634.8" r="12.5" fill="#a4ee74" fill-opacity="0.8" filter="url(#gb4)"/>
<circle cx="680.2" cy="634.8" r="6.5" fill="url(#ball)"/>
<text x="687" y="629.3" font-size="13.5" font-style="italic" fill="#000" stroke="#000" stroke-width="0.3">e</text>
<circle cx="609.3" cy="697.5" r="12.5" fill="#f04a52" fill-opacity="0.8" filter="url(#gb4)"/>
<circle cx="610.3" cy="700.4" r="6.4" fill="url(#hole)" stroke="#d8202a" stroke-width="1.4" stroke-dasharray="1.3 1.1"/>
<text x="595" y="692.3" font-size="15.5" font-style="italic" fill="#000" stroke="#000" stroke-width="0.3">h</text>
<text x="692.4" y="620" font-size="13" fill="#4db7e6">CB -3.75 eV</text>
<text x="691" y="716" font-size="13" fill="#4db7e6">VB<tspan x="716.1">-5.34 eV</tspan></text>
<text x="703.5" y="638.6" font-size="12.6" font-style="italic" fill="#9a4a1a">trapped</text>
<text x="805.5" y="647" font-size="13" fill="#a4511c">Nd<tspan font-size="8.5" dy="-4.3">2+</tspan><tspan dy="4.3"> 6</tspan><tspan font-style="italic">s</tspan><tspan font-size="8.5" dy="-4.3">0</tspan><tspan dy="4.3">5</tspan><tspan font-style="italic">d</tspan><tspan font-size="8.5" dy="-4.3">0</tspan></text>
<text x="887" y="647" font-size="13" fill="#a4511c">-4.1 eV</text>
<text x="807.6" y="767.6" font-size="13" fill="#a4511c">Nd<tspan font-size="8.5" dy="-4.3">2+</tspan><tspan dy="4.3"> 4</tspan><tspan font-style="italic">f</tspan><tspan font-size="8.5" dy="-4.3">4</tspan></text>
<text x="882.6" y="767.6" font-size="13" fill="#a4511c">-7.75 eV</text>
</svg>
</body></html>
